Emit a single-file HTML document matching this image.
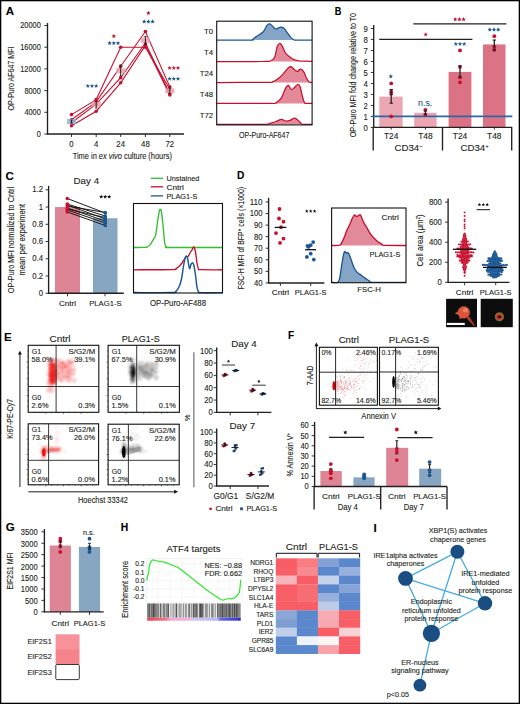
<!DOCTYPE html>
<html><head><meta charset="utf-8"><style>
html,body{margin:0;padding:0;background:#fff;}
svg{display:block;font-family:"Liberation Sans", sans-serif;}
text{stroke-width:0.12px;}
</style></head><body>
<svg width="520" height="704" viewBox="0 0 520 704">
<rect x="0" y="0" width="520" height="704" fill="#fff"/>
<text x="5.80" y="15.20" font-size="11.5" fill="#000" font-weight="bold" stroke="#000">A</text>
<line x1="47.50" y1="23.00" x2="47.50" y2="134.50" stroke="#231f20" stroke-width="1.35" />
<line x1="47.00" y1="134.00" x2="184.00" y2="134.00" stroke="#231f20" stroke-width="1.35" />
<line x1="44.30" y1="134.00" x2="47.50" y2="134.00" stroke="#231f20" stroke-width="0.9" />
<text x="40.80" y="136.90" font-size="8.2" fill="#231f20" text-anchor="end" textLength="4.1" lengthAdjust="spacingAndGlyphs" stroke="#231f20">0</text>
<line x1="44.30" y1="112.30" x2="47.50" y2="112.30" stroke="#231f20" stroke-width="0.9" />
<text x="40.80" y="115.20" font-size="8.2" fill="#231f20" text-anchor="end" textLength="16.42" lengthAdjust="spacingAndGlyphs" stroke="#231f20">4000</text>
<line x1="44.30" y1="90.60" x2="47.50" y2="90.60" stroke="#231f20" stroke-width="0.9" />
<text x="40.80" y="93.50" font-size="8.2" fill="#231f20" text-anchor="end" textLength="16.42" lengthAdjust="spacingAndGlyphs" stroke="#231f20">8000</text>
<line x1="44.30" y1="68.90" x2="47.50" y2="68.90" stroke="#231f20" stroke-width="0.9" />
<text x="40.80" y="71.80" font-size="8.2" fill="#231f20" text-anchor="end" textLength="20.52" lengthAdjust="spacingAndGlyphs" stroke="#231f20">12000</text>
<line x1="44.30" y1="47.20" x2="47.50" y2="47.20" stroke="#231f20" stroke-width="0.9" />
<text x="40.80" y="50.10" font-size="8.2" fill="#231f20" text-anchor="end" textLength="20.52" lengthAdjust="spacingAndGlyphs" stroke="#231f20">16000</text>
<line x1="44.30" y1="25.50" x2="47.50" y2="25.50" stroke="#231f20" stroke-width="0.9" />
<text x="40.80" y="28.40" font-size="8.2" fill="#231f20" text-anchor="end" textLength="20.52" lengthAdjust="spacingAndGlyphs" stroke="#231f20">20000</text>
<line x1="71.50" y1="134.00" x2="71.50" y2="137.00" stroke="#231f20" stroke-width="0.9" />
<text x="71.50" y="146.50" font-size="8.2" fill="#231f20" text-anchor="middle" textLength="4.33" lengthAdjust="spacingAndGlyphs" stroke="#231f20">0</text>
<line x1="96.20" y1="134.00" x2="96.20" y2="137.00" stroke="#231f20" stroke-width="0.9" />
<text x="96.20" y="146.50" font-size="8.2" fill="#231f20" text-anchor="middle" textLength="4.33" lengthAdjust="spacingAndGlyphs" stroke="#231f20">4</text>
<line x1="120.70" y1="134.00" x2="120.70" y2="137.00" stroke="#231f20" stroke-width="0.9" />
<text x="120.70" y="146.50" font-size="8.2" fill="#231f20" text-anchor="middle" textLength="8.66" lengthAdjust="spacingAndGlyphs" stroke="#231f20">24</text>
<line x1="145.40" y1="134.00" x2="145.40" y2="137.00" stroke="#231f20" stroke-width="0.9" />
<text x="145.40" y="146.50" font-size="8.2" fill="#231f20" text-anchor="middle" textLength="8.66" lengthAdjust="spacingAndGlyphs" stroke="#231f20">48</text>
<line x1="169.80" y1="134.00" x2="169.80" y2="137.00" stroke="#231f20" stroke-width="0.9" />
<text x="169.80" y="146.50" font-size="8.2" fill="#231f20" text-anchor="middle" textLength="8.66" lengthAdjust="spacingAndGlyphs" stroke="#231f20">72</text>
<text x="72.7" y="158.9" font-size="9.4" fill="#231f20" textLength="99.2" lengthAdjust="spacingAndGlyphs" stroke="#231f20">Time in <tspan font-style="italic">ex vivo</tspan> culture (hours)</text>
<text x="14.00" y="110.40" font-size="8.7" fill="#231f20" textLength="63.9" lengthAdjust="spacingAndGlyphs" transform="rotate(-90 14.00 110.40)" stroke="#231f20">OP-Puro AF647 MFI</text>
<polyline points="71.50,114.60 96.20,99.60 120.70,47.20 145.40,47.20 169.80,89.20" stroke="#c8102e" stroke-width="1.1" fill="none" />
<polyline points="71.50,119.70 96.20,101.90 120.70,66.20 145.40,31.50 169.80,86.90" stroke="#c8102e" stroke-width="1.1" fill="none" />
<polyline points="71.50,122.70 96.20,104.20 120.70,77.70 145.40,43.00 169.80,93.80" stroke="#c8102e" stroke-width="1.1" fill="none" />
<polyline points="71.50,125.70 96.20,111.20 120.70,82.80 145.40,45.40 169.80,95.00" stroke="#c8102e" stroke-width="1.1" fill="none" />
<circle cx="71.50" cy="114.60" r="1.8" fill="#c8102e" />
<circle cx="96.20" cy="99.60" r="1.8" fill="#c8102e" />
<circle cx="120.70" cy="47.20" r="1.8" fill="#c8102e" />
<circle cx="145.40" cy="47.20" r="1.8" fill="#c8102e" />
<circle cx="169.80" cy="89.20" r="1.8" fill="#c8102e" />
<circle cx="71.50" cy="119.70" r="1.8" fill="#c8102e" />
<circle cx="96.20" cy="101.90" r="1.8" fill="#c8102e" />
<circle cx="120.70" cy="66.20" r="1.8" fill="#c8102e" />
<circle cx="145.40" cy="31.50" r="1.8" fill="#c8102e" />
<circle cx="169.80" cy="86.90" r="1.8" fill="#c8102e" />
<circle cx="71.50" cy="122.70" r="1.8" fill="#c8102e" />
<circle cx="96.20" cy="104.20" r="1.8" fill="#c8102e" />
<circle cx="120.70" cy="77.70" r="1.8" fill="#c8102e" />
<circle cx="145.40" cy="43.00" r="1.8" fill="#c8102e" />
<circle cx="169.80" cy="93.80" r="1.8" fill="#c8102e" />
<circle cx="71.50" cy="125.70" r="1.8" fill="#c8102e" />
<circle cx="96.20" cy="111.20" r="1.8" fill="#c8102e" />
<circle cx="120.70" cy="82.80" r="1.8" fill="#c8102e" />
<circle cx="145.40" cy="45.40" r="1.8" fill="#c8102e" />
<circle cx="169.80" cy="95.00" r="1.8" fill="#c8102e" />
<rect x="67.00" y="119.00" width="9.00" height="5.00" fill="#8fb2d9" stroke="none" stroke-width="1" opacity="0.85"/>
<line x1="71.50" y1="120.00" x2="71.50" y2="123.00" stroke="#222" stroke-width="1.0" />
<line x1="70.30" y1="120.00" x2="72.70" y2="120.00" stroke="#222" stroke-width="0.8" />
<line x1="70.30" y1="123.00" x2="72.70" y2="123.00" stroke="#222" stroke-width="0.8" />
<rect x="91.70" y="101.70" width="9.00" height="5.00" fill="#eaa0ad" stroke="none" stroke-width="1" opacity="0.85"/>
<line x1="96.20" y1="101.50" x2="96.20" y2="108.00" stroke="#222" stroke-width="1.0" />
<line x1="95.00" y1="101.50" x2="97.40" y2="101.50" stroke="#222" stroke-width="0.8" />
<line x1="95.00" y1="108.00" x2="97.40" y2="108.00" stroke="#222" stroke-width="0.8" />
<rect x="116.20" y="68.30" width="9.00" height="5.00" fill="#eaa0ad" stroke="none" stroke-width="1" opacity="0.85"/>
<line x1="120.70" y1="65.00" x2="120.70" y2="76.00" stroke="#222" stroke-width="1.0" />
<line x1="119.50" y1="65.00" x2="121.90" y2="65.00" stroke="#222" stroke-width="0.8" />
<line x1="119.50" y1="76.00" x2="121.90" y2="76.00" stroke="#222" stroke-width="0.8" />
<rect x="140.90" y="37.80" width="9.00" height="5.00" fill="#eaa0ad" stroke="none" stroke-width="1" opacity="0.85"/>
<line x1="145.40" y1="36.50" x2="145.40" y2="44.50" stroke="#222" stroke-width="1.0" />
<line x1="144.20" y1="36.50" x2="146.60" y2="36.50" stroke="#222" stroke-width="0.8" />
<line x1="144.20" y1="44.50" x2="146.60" y2="44.50" stroke="#222" stroke-width="0.8" />
<rect x="165.30" y="88.30" width="9.00" height="5.00" fill="#eaa0ad" stroke="none" stroke-width="1" opacity="0.85"/>
<line x1="169.80" y1="88.00" x2="169.80" y2="93.50" stroke="#222" stroke-width="1.0" />
<line x1="168.60" y1="88.00" x2="171.00" y2="88.00" stroke="#222" stroke-width="0.8" />
<line x1="168.60" y1="93.50" x2="171.00" y2="93.50" stroke="#222" stroke-width="0.8" />
<polygon points="113.80,33.90 114.41,35.36 115.99,35.49 114.78,36.52 115.15,38.06 113.80,37.23 112.45,38.06 112.82,36.52 111.61,35.49 113.19,35.36" stroke="none" stroke-width="1" fill="#c8102e" />
<polygon points="109.60,40.90 110.21,42.36 111.79,42.49 110.58,43.52 110.95,45.06 109.60,44.23 108.25,45.06 108.62,43.52 107.41,42.49 108.99,42.36" stroke="none" stroke-width="1" fill="#1c5794" />
<polygon points="113.80,40.90 114.41,42.36 115.99,42.49 114.78,43.52 115.15,45.06 113.80,44.23 112.45,45.06 112.82,43.52 111.61,42.49 113.19,42.36" stroke="none" stroke-width="1" fill="#1c5794" />
<polygon points="118.00,40.90 118.61,42.36 120.19,42.49 118.98,43.52 119.35,45.06 118.00,44.23 116.65,45.06 117.02,43.52 115.81,42.49 117.39,42.36" stroke="none" stroke-width="1" fill="#1c5794" />
<polygon points="148.40,10.80 149.01,12.26 150.59,12.39 149.38,13.42 149.75,14.96 148.40,14.13 147.05,14.96 147.42,13.42 146.21,12.39 147.79,12.26" stroke="none" stroke-width="1" fill="#c8102e" />
<polygon points="144.20,19.30 144.81,20.76 146.39,20.89 145.18,21.92 145.55,23.46 144.20,22.64 142.85,23.46 143.22,21.92 142.01,20.89 143.59,20.76" stroke="none" stroke-width="1" fill="#1c5794" />
<polygon points="148.40,19.30 149.01,20.76 150.59,20.89 149.38,21.92 149.75,23.46 148.40,22.64 147.05,23.46 147.42,21.92 146.21,20.89 147.79,20.76" stroke="none" stroke-width="1" fill="#1c5794" />
<polygon points="152.60,19.30 153.21,20.76 154.79,20.89 153.58,21.92 153.95,23.46 152.60,22.64 151.25,23.46 151.62,21.92 150.41,20.89 151.99,20.76" stroke="none" stroke-width="1" fill="#1c5794" />
<polygon points="169.60,65.70 170.21,67.16 171.79,67.29 170.58,68.32 170.95,69.86 169.60,69.03 168.25,69.86 168.62,68.32 167.41,67.29 168.99,67.16" stroke="none" stroke-width="1" fill="#c8102e" />
<polygon points="173.80,65.70 174.41,67.16 175.99,67.29 174.78,68.32 175.15,69.86 173.80,69.03 172.45,69.86 172.82,68.32 171.61,67.29 173.19,67.16" stroke="none" stroke-width="1" fill="#c8102e" />
<polygon points="178.00,65.70 178.61,67.16 180.19,67.29 178.98,68.32 179.35,69.86 178.00,69.03 176.65,69.86 177.02,68.32 175.81,67.29 177.39,67.16" stroke="none" stroke-width="1" fill="#c8102e" />
<polygon points="169.60,76.50 170.21,77.96 171.79,78.09 170.58,79.12 170.95,80.66 169.60,79.83 168.25,80.66 168.62,79.12 167.41,78.09 168.99,77.96" stroke="none" stroke-width="1" fill="#1c5794" />
<polygon points="173.80,76.50 174.41,77.96 175.99,78.09 174.78,79.12 175.15,80.66 173.80,79.83 172.45,80.66 172.82,79.12 171.61,78.09 173.19,77.96" stroke="none" stroke-width="1" fill="#1c5794" />
<polygon points="178.00,76.50 178.61,77.96 180.19,78.09 178.98,79.12 179.35,80.66 178.00,79.83 176.65,80.66 177.02,79.12 175.81,78.09 177.39,77.96" stroke="none" stroke-width="1" fill="#1c5794" />
<polygon points="87.80,83.70 88.41,85.16 89.99,85.29 88.78,86.32 89.15,87.86 87.80,87.03 86.45,87.86 86.82,86.32 85.61,85.29 87.19,85.16" stroke="none" stroke-width="1" fill="#1c5794" />
<polygon points="92.00,83.70 92.61,85.16 94.19,85.29 92.98,86.32 93.35,87.86 92.00,87.03 90.65,87.86 91.02,86.32 89.81,85.29 91.39,85.16" stroke="none" stroke-width="1" fill="#1c5794" />
<polygon points="96.20,83.70 96.81,85.16 98.39,85.29 97.18,86.32 97.55,87.86 96.20,87.03 94.85,87.86 95.22,86.32 94.01,85.29 95.59,85.16" stroke="none" stroke-width="1" fill="#1c5794" />
<path d="M216.60,40.10 C222.17,40.10 244.07,40.13 250.00,40.10 C255.93,40.07 251.37,40.33 252.20,39.90 C253.03,39.47 254.08,38.20 255.00,37.50 C255.92,36.80 256.32,36.66 257.70,35.70 C259.08,34.74 261.75,33.48 263.30,31.75 C264.85,30.02 265.93,26.61 267.00,25.30 C268.07,23.99 268.78,23.75 269.70,23.90 C270.62,24.05 271.47,25.35 272.50,26.20 C273.53,27.05 274.65,28.82 275.90,29.00 C277.15,29.18 278.70,27.45 280.00,27.30 C281.30,27.15 282.53,27.27 283.70,28.10 C284.87,28.93 285.75,30.67 287.00,32.30 C288.25,33.93 290.03,36.65 291.20,37.90 C292.37,39.15 293.20,39.43 294.00,39.80 C294.80,40.17 292.97,40.05 296.00,40.10 C299.03,40.15 309.50,40.10 312.20,40.10 L312.20,40.1 L216.60,40.1 Z" stroke="none" stroke-width="1" fill="#84a5c6" />
<path d="M216.60,40.10 C222.17,40.10 244.07,40.13 250.00,40.10 C255.93,40.07 251.37,40.33 252.20,39.90 C253.03,39.47 254.08,38.20 255.00,37.50 C255.92,36.80 256.32,36.66 257.70,35.70 C259.08,34.74 261.75,33.48 263.30,31.75 C264.85,30.02 265.93,26.61 267.00,25.30 C268.07,23.99 268.78,23.75 269.70,23.90 C270.62,24.05 271.47,25.35 272.50,26.20 C273.53,27.05 274.65,28.82 275.90,29.00 C277.15,29.18 278.70,27.45 280.00,27.30 C281.30,27.15 282.53,27.27 283.70,28.10 C284.87,28.93 285.75,30.67 287.00,32.30 C288.25,33.93 290.03,36.65 291.20,37.90 C292.37,39.15 293.20,39.43 294.00,39.80 C294.80,40.17 292.97,40.05 296.00,40.10 C299.03,40.15 309.50,40.10 312.20,40.10" stroke="#1c5794" stroke-width="1.25" fill="none" />
<path d="M216.60,61.60 C224.17,61.58 253.05,61.60 262.00,61.50 C270.95,61.40 268.22,61.68 270.30,61.00 C272.38,60.32 273.33,59.85 274.50,57.40 C275.67,54.95 276.47,48.62 277.30,46.30 C278.13,43.98 278.72,43.60 279.50,43.50 C280.28,43.40 280.98,44.08 282.00,45.70 C283.02,47.32 284.07,51.15 285.60,53.20 C287.13,55.25 289.57,56.83 291.20,58.00 C292.83,59.17 293.93,59.70 295.40,60.20 C296.87,60.70 297.45,60.82 300.00,61.00 C302.55,61.18 308.67,61.22 310.70,61.30 C312.73,61.38 311.95,61.47 312.20,61.50 L312.20,61.6 L216.60,61.6 Z" stroke="none" stroke-width="1" fill="#e28a9a" />
<path d="M216.60,61.60 C224.17,61.58 253.05,61.60 262.00,61.50 C270.95,61.40 268.22,61.68 270.30,61.00 C272.38,60.32 273.33,59.85 274.50,57.40 C275.67,54.95 276.47,48.62 277.30,46.30 C278.13,43.98 278.72,43.60 279.50,43.50 C280.28,43.40 280.98,44.08 282.00,45.70 C283.02,47.32 284.07,51.15 285.60,53.20 C287.13,55.25 289.57,56.83 291.20,58.00 C292.83,59.17 293.93,59.70 295.40,60.20 C296.87,60.70 297.45,60.82 300.00,61.00 C302.55,61.18 308.67,61.22 310.70,61.30 C312.73,61.38 311.95,61.47 312.20,61.50" stroke="#c8102e" stroke-width="1.25" fill="none" />
<path d="M216.60,82.50 C224.83,82.48 256.60,82.53 266.00,82.40 C275.40,82.27 270.88,82.38 273.00,81.70 C275.12,81.02 276.83,79.80 278.70,78.30 C280.57,76.80 282.58,74.47 284.20,72.70 C285.82,70.93 287.23,68.72 288.40,67.70 C289.57,66.68 290.13,66.22 291.20,66.60 C292.27,66.98 293.73,69.22 294.80,70.00 C295.87,70.78 296.67,71.45 297.60,71.30 C298.53,71.15 299.37,69.00 300.40,69.10 C301.43,69.20 302.78,70.37 303.80,71.90 C304.82,73.43 305.58,76.62 306.50,78.30 C307.42,79.98 308.35,81.30 309.30,82.00 C310.25,82.70 311.72,82.42 312.20,82.50 L312.20,82.5 L216.60,82.5 Z" stroke="none" stroke-width="1" fill="#e28a9a" />
<path d="M216.60,82.50 C224.83,82.48 256.60,82.53 266.00,82.40 C275.40,82.27 270.88,82.38 273.00,81.70 C275.12,81.02 276.83,79.80 278.70,78.30 C280.57,76.80 282.58,74.47 284.20,72.70 C285.82,70.93 287.23,68.72 288.40,67.70 C289.57,66.68 290.13,66.22 291.20,66.60 C292.27,66.98 293.73,69.22 294.80,70.00 C295.87,70.78 296.67,71.45 297.60,71.30 C298.53,71.15 299.37,69.00 300.40,69.10 C301.43,69.20 302.78,70.37 303.80,71.90 C304.82,73.43 305.58,76.62 306.50,78.30 C307.42,79.98 308.35,81.30 309.30,82.00 C310.25,82.70 311.72,82.42 312.20,82.50" stroke="#c8102e" stroke-width="1.25" fill="none" />
<path d="M216.60,103.40 C225.50,103.38 260.12,103.38 270.00,103.30 C279.88,103.22 274.00,103.82 275.90,102.90 C277.80,101.98 279.78,100.27 281.40,97.80 C283.02,95.33 284.43,90.18 285.60,88.10 C286.77,86.02 287.47,85.07 288.40,85.30 C289.33,85.53 290.27,89.03 291.20,89.50 C292.13,89.97 292.93,88.93 294.00,88.10 C295.07,87.27 296.58,84.73 297.60,84.50 C298.62,84.27 299.30,84.72 300.10,86.70 C300.90,88.68 301.65,93.70 302.40,96.40 C303.15,99.10 303.83,101.75 304.60,102.90 C305.37,104.05 305.73,103.22 307.00,103.30 C308.27,103.38 311.33,103.38 312.20,103.40 L312.20,103.4 L216.60,103.4 Z" stroke="none" stroke-width="1" fill="#e28a9a" />
<path d="M216.60,103.40 C225.50,103.38 260.12,103.38 270.00,103.30 C279.88,103.22 274.00,103.82 275.90,102.90 C277.80,101.98 279.78,100.27 281.40,97.80 C283.02,95.33 284.43,90.18 285.60,88.10 C286.77,86.02 287.47,85.07 288.40,85.30 C289.33,85.53 290.27,89.03 291.20,89.50 C292.13,89.97 292.93,88.93 294.00,88.10 C295.07,87.27 296.58,84.73 297.60,84.50 C298.62,84.27 299.30,84.72 300.10,86.70 C300.90,88.68 301.65,93.70 302.40,96.40 C303.15,99.10 303.83,101.75 304.60,102.90 C305.37,104.05 305.73,103.22 307.00,103.30 C308.27,103.38 311.33,103.38 312.20,103.40" stroke="#c8102e" stroke-width="1.25" fill="none" />
<path d="M216.60,124.30 C224.17,124.30 253.52,124.35 262.00,124.30 C270.48,124.25 265.18,124.47 267.50,124.00 C269.82,123.53 273.58,122.28 275.90,121.50 C278.22,120.72 279.78,119.38 281.40,119.30 C283.02,119.22 284.20,120.82 285.60,121.00 C287.00,121.18 288.27,120.87 289.80,120.40 C291.33,119.93 293.32,118.10 294.80,118.20 C296.28,118.30 297.53,120.03 298.70,121.00 C299.87,121.97 300.92,123.45 301.80,124.00 C302.68,124.55 302.27,124.25 304.00,124.30 C305.73,124.35 310.83,124.30 312.20,124.30 L312.20,124.3 L216.60,124.3 Z" stroke="none" stroke-width="1" fill="#e28a9a" />
<path d="M216.60,124.30 C224.17,124.30 253.52,124.35 262.00,124.30 C270.48,124.25 265.18,124.47 267.50,124.00 C269.82,123.53 273.58,122.28 275.90,121.50 C278.22,120.72 279.78,119.38 281.40,119.30 C283.02,119.22 284.20,120.82 285.60,121.00 C287.00,121.18 288.27,120.87 289.80,120.40 C291.33,119.93 293.32,118.10 294.80,118.20 C296.28,118.30 297.53,120.03 298.70,121.00 C299.87,121.97 300.92,123.45 301.80,124.00 C302.68,124.55 302.27,124.25 304.00,124.30 C305.73,124.35 310.83,124.30 312.20,124.30" stroke="#c8102e" stroke-width="1.25" fill="none" />
<rect x="216.70" y="21.20" width="95.40" height="103.70" fill="none" stroke="#111" stroke-width="1.1" />
<text x="213.10" y="34.30" font-size="7.8" fill="#231f20" text-anchor="end" stroke="#231f20">T0</text>
<text x="213.10" y="55.10" font-size="7.8" fill="#231f20" text-anchor="end" stroke="#231f20">T4</text>
<text x="213.10" y="75.80" font-size="7.8" fill="#231f20" text-anchor="end" stroke="#231f20">T24</text>
<text x="213.10" y="96.80" font-size="7.8" fill="#231f20" text-anchor="end" stroke="#231f20">T48</text>
<text x="213.10" y="117.80" font-size="7.8" fill="#231f20" text-anchor="end" stroke="#231f20">T72</text>
<text x="264.20" y="137.50" font-size="9.2" fill="#231f20" text-anchor="middle" textLength="50.2" lengthAdjust="spacingAndGlyphs" stroke="#231f20">OP-Puro-AF647</text>
<text x="334.70" y="15.10" font-size="11.5" fill="#000" font-weight="bold" textLength="6.64" lengthAdjust="spacingAndGlyphs" stroke="#000">B</text>
<line x1="373.70" y1="25.00" x2="373.70" y2="127.90" stroke="#231f20" stroke-width="1.35" />
<line x1="370.80" y1="127.40" x2="373.70" y2="127.40" stroke="#231f20" stroke-width="0.9" />
<text x="367.80" y="130.80" font-size="8.8" fill="#231f20" text-anchor="end" textLength="4.31" lengthAdjust="spacingAndGlyphs" stroke="#231f20">0</text>
<line x1="370.80" y1="116.41" x2="373.70" y2="116.41" stroke="#231f20" stroke-width="0.9" />
<text x="367.80" y="119.81" font-size="8.8" fill="#231f20" text-anchor="end" textLength="4.31" lengthAdjust="spacingAndGlyphs" stroke="#231f20">1</text>
<line x1="370.80" y1="105.42" x2="373.70" y2="105.42" stroke="#231f20" stroke-width="0.9" />
<text x="367.80" y="108.82" font-size="8.8" fill="#231f20" text-anchor="end" textLength="4.31" lengthAdjust="spacingAndGlyphs" stroke="#231f20">2</text>
<line x1="370.80" y1="94.43" x2="373.70" y2="94.43" stroke="#231f20" stroke-width="0.9" />
<text x="367.80" y="97.83" font-size="8.8" fill="#231f20" text-anchor="end" textLength="4.31" lengthAdjust="spacingAndGlyphs" stroke="#231f20">3</text>
<line x1="370.80" y1="83.44" x2="373.70" y2="83.44" stroke="#231f20" stroke-width="0.9" />
<text x="367.80" y="86.84" font-size="8.8" fill="#231f20" text-anchor="end" textLength="4.31" lengthAdjust="spacingAndGlyphs" stroke="#231f20">4</text>
<line x1="370.80" y1="72.45" x2="373.70" y2="72.45" stroke="#231f20" stroke-width="0.9" />
<text x="367.80" y="75.85" font-size="8.8" fill="#231f20" text-anchor="end" textLength="4.31" lengthAdjust="spacingAndGlyphs" stroke="#231f20">5</text>
<line x1="370.80" y1="61.46" x2="373.70" y2="61.46" stroke="#231f20" stroke-width="0.9" />
<text x="367.80" y="64.86" font-size="8.8" fill="#231f20" text-anchor="end" textLength="4.31" lengthAdjust="spacingAndGlyphs" stroke="#231f20">6</text>
<line x1="370.80" y1="50.47" x2="373.70" y2="50.47" stroke="#231f20" stroke-width="0.9" />
<text x="367.80" y="53.87" font-size="8.8" fill="#231f20" text-anchor="end" textLength="4.31" lengthAdjust="spacingAndGlyphs" stroke="#231f20">7</text>
<line x1="370.80" y1="39.48" x2="373.70" y2="39.48" stroke="#231f20" stroke-width="0.9" />
<text x="367.80" y="42.88" font-size="8.8" fill="#231f20" text-anchor="end" textLength="4.31" lengthAdjust="spacingAndGlyphs" stroke="#231f20">8</text>
<line x1="370.80" y1="28.49" x2="373.70" y2="28.49" stroke="#231f20" stroke-width="0.9" />
<text x="367.80" y="31.89" font-size="8.8" fill="#231f20" text-anchor="end" textLength="4.31" lengthAdjust="spacingAndGlyphs" stroke="#231f20">9</text>
<rect x="379.30" y="96.63" width="23.30" height="30.77" fill="#eba6b1" stroke="none" stroke-width="1" />
<rect x="414.20" y="112.78" width="22.40" height="14.62" fill="#eba6b1" stroke="none" stroke-width="1" />
<rect x="448.60" y="71.90" width="22.80" height="55.50" fill="#dc7385" stroke="none" stroke-width="1" />
<rect x="483.00" y="44.43" width="22.50" height="82.97" fill="#dc7385" stroke="none" stroke-width="1" />
<line x1="373.20" y1="127.40" x2="512.20" y2="127.40" stroke="#231f20" stroke-width="1.35" />
<line x1="373.20" y1="127.40" x2="373.20" y2="150.50" stroke="#231f20" stroke-width="1.35" />
<line x1="442.50" y1="127.40" x2="442.50" y2="150.50" stroke="#231f20" stroke-width="1.35" />
<line x1="511.70" y1="127.40" x2="511.70" y2="150.50" stroke="#231f20" stroke-width="1.35" />
<line x1="372.30" y1="116.41" x2="512.30" y2="116.41" stroke="#2b68a8" stroke-width="1.6" />
<circle cx="391.20" cy="83.44" r="1.9" fill="#c8102e" />
<circle cx="391.20" cy="91.68" r="1.9" fill="#c8102e" />
<circle cx="391.20" cy="93.88" r="1.9" fill="#c8102e" />
<circle cx="391.20" cy="116.41" r="1.9" fill="#c8102e" />
<circle cx="425.40" cy="109.82" r="1.9" fill="#c8102e" />
<circle cx="425.40" cy="114.76" r="1.9" fill="#c8102e" />
<circle cx="460.00" cy="50.47" r="1.9" fill="#c8102e" />
<circle cx="460.00" cy="66.96" r="1.9" fill="#c8102e" />
<circle cx="460.00" cy="77.40" r="1.9" fill="#c8102e" />
<circle cx="460.00" cy="82.34" r="1.9" fill="#c8102e" />
<circle cx="494.30" cy="36.18" r="1.9" fill="#c8102e" />
<circle cx="494.30" cy="46.62" r="1.9" fill="#c8102e" />
<circle cx="494.30" cy="49.92" r="1.9" fill="#c8102e" />
<line x1="391.20" y1="103.22" x2="391.20" y2="89.48" stroke="#222" stroke-width="1.3" />
<line x1="389.50" y1="103.22" x2="392.90" y2="103.22" stroke="#222" stroke-width="1.1" />
<line x1="389.50" y1="89.48" x2="392.90" y2="89.48" stroke="#222" stroke-width="1.1" />
<line x1="425.40" y1="114.21" x2="425.40" y2="110.92" stroke="#222" stroke-width="1.3" />
<line x1="423.70" y1="114.21" x2="427.10" y2="114.21" stroke="#222" stroke-width="1.1" />
<line x1="423.70" y1="110.92" x2="427.10" y2="110.92" stroke="#222" stroke-width="1.1" />
<line x1="460.00" y1="76.85" x2="460.00" y2="65.86" stroke="#222" stroke-width="1.3" />
<line x1="458.30" y1="76.85" x2="461.70" y2="76.85" stroke="#222" stroke-width="1.1" />
<line x1="458.30" y1="65.86" x2="461.70" y2="65.86" stroke="#222" stroke-width="1.1" />
<line x1="494.30" y1="49.92" x2="494.30" y2="40.03" stroke="#222" stroke-width="1.3" />
<line x1="492.60" y1="49.92" x2="496.00" y2="49.92" stroke="#222" stroke-width="1.1" />
<line x1="492.60" y1="40.03" x2="496.00" y2="40.03" stroke="#222" stroke-width="1.1" />
<line x1="379.20" y1="39.40" x2="472.40" y2="39.40" stroke="#231f20" stroke-width="1.35" />
<line x1="413.30" y1="23.90" x2="506.40" y2="23.90" stroke="#231f20" stroke-width="1.35" />
<polygon points="425.70,32.20 426.31,33.66 427.89,33.79 426.68,34.82 427.05,36.36 425.70,35.53 424.35,36.36 424.72,34.82 423.51,33.79 425.09,33.66" stroke="none" stroke-width="1" fill="#c8102e" />
<polygon points="455.20,17.10 455.81,18.56 457.39,18.69 456.18,19.72 456.55,21.26 455.20,20.43 453.85,21.26 454.22,19.72 453.01,18.69 454.59,18.56" stroke="none" stroke-width="1" fill="#c8102e" />
<polygon points="459.40,17.10 460.01,18.56 461.59,18.69 460.38,19.72 460.75,21.26 459.40,20.43 458.05,21.26 458.42,19.72 457.21,18.69 458.79,18.56" stroke="none" stroke-width="1" fill="#c8102e" />
<polygon points="463.60,17.10 464.21,18.56 465.79,18.69 464.58,19.72 464.95,21.26 463.60,20.43 462.25,21.26 462.62,19.72 461.41,18.69 462.99,18.56" stroke="none" stroke-width="1" fill="#c8102e" />
<polygon points="455.80,41.70 456.41,43.16 457.99,43.29 456.78,44.32 457.15,45.86 455.80,45.03 454.45,45.86 454.82,44.32 453.61,43.29 455.19,43.16" stroke="none" stroke-width="1" fill="#1c5794" />
<polygon points="460.00,41.70 460.61,43.16 462.19,43.29 460.98,44.32 461.35,45.86 460.00,45.03 458.65,45.86 459.02,44.32 457.81,43.29 459.39,43.16" stroke="none" stroke-width="1" fill="#1c5794" />
<polygon points="464.20,41.70 464.81,43.16 466.39,43.29 465.18,44.32 465.55,45.86 464.20,45.03 462.85,45.86 463.22,44.32 462.01,43.29 463.59,43.16" stroke="none" stroke-width="1" fill="#1c5794" />
<polygon points="489.80,27.30 490.41,28.76 491.99,28.89 490.78,29.92 491.15,31.46 489.80,30.64 488.45,31.46 488.82,29.92 487.61,28.89 489.19,28.76" stroke="none" stroke-width="1" fill="#1c5794" />
<polygon points="494.00,27.30 494.61,28.76 496.19,28.89 494.98,29.92 495.35,31.46 494.00,30.64 492.65,31.46 493.02,29.92 491.81,28.89 493.39,28.76" stroke="none" stroke-width="1" fill="#1c5794" />
<polygon points="498.20,27.30 498.81,28.76 500.39,28.89 499.18,29.92 499.55,31.46 498.20,30.64 496.85,31.46 497.22,29.92 496.01,28.89 497.59,28.76" stroke="none" stroke-width="1" fill="#1c5794" />
<polygon points="390.80,74.10 391.41,75.56 392.99,75.69 391.78,76.72 392.15,78.26 390.80,77.44 389.45,78.26 389.82,76.72 388.61,75.69 390.19,75.56" stroke="none" stroke-width="1" fill="#1c5794" />
<text x="425.20" y="106.40" font-size="8.8" fill="#1c5794" text-anchor="middle" stroke="#1c5794">n.s.</text>
<text x="391.20" y="139.10" font-size="8.4" fill="#231f20" text-anchor="middle" stroke="#231f20">T24</text>
<line x1="391.20" y1="127.40" x2="391.20" y2="129.60" stroke="#231f20" stroke-width="0.9" />
<text x="425.40" y="139.10" font-size="8.4" fill="#231f20" text-anchor="middle" stroke="#231f20">T48</text>
<line x1="425.40" y1="127.40" x2="425.40" y2="129.60" stroke="#231f20" stroke-width="0.9" />
<text x="460.00" y="139.10" font-size="8.4" fill="#231f20" text-anchor="middle" stroke="#231f20">T24</text>
<line x1="460.00" y1="127.40" x2="460.00" y2="129.60" stroke="#231f20" stroke-width="0.9" />
<text x="494.30" y="139.10" font-size="8.4" fill="#231f20" text-anchor="middle" stroke="#231f20">T48</text>
<line x1="494.30" y1="127.40" x2="494.30" y2="129.60" stroke="#231f20" stroke-width="0.9" />
<text x="408.6" y="151.2" font-size="9.7" fill="#231f20" text-anchor="middle" stroke="#231f20">CD34<tspan font-size="6" dy="-3">−</tspan></text>
<text x="474.6" y="151.2" font-size="9.7" fill="#231f20" text-anchor="middle" stroke="#231f20">CD34<tspan font-size="6" dy="-3">+</tspan></text>
<text x="356.00" y="137.20" font-size="9.3" fill="#231f20" textLength="124.3" lengthAdjust="spacingAndGlyphs" transform="rotate(-90 356.00 137.20)" stroke="#231f20">OP-Puro MFI fold change relative to T0</text>
<text x="5.50" y="179.60" font-size="11.5" fill="#000" font-weight="bold" stroke="#000">C</text>
<text x="86.30" y="184.00" font-size="9.8" fill="#231f20" text-anchor="middle" stroke="#231f20">Day 4</text>
<rect x="55.00" y="207.05" width="25.00" height="86.20" fill="#de8595" stroke="none" stroke-width="1" />
<rect x="93.00" y="218.26" width="24.50" height="74.99" fill="#87a6c2" stroke="none" stroke-width="1" />
<line x1="48.60" y1="185.80" x2="48.60" y2="293.70" stroke="#231f20" stroke-width="1.35" />
<line x1="48.10" y1="293.25" x2="123.80" y2="293.25" stroke="#231f20" stroke-width="1.35" />
<line x1="45.60" y1="293.25" x2="48.60" y2="293.25" stroke="#231f20" stroke-width="0.9" />
<text x="43.20" y="295.85" font-size="8.4" fill="#231f20" text-anchor="end" textLength="4.34" lengthAdjust="spacingAndGlyphs" stroke="#231f20">0</text>
<line x1="45.60" y1="276.01" x2="48.60" y2="276.01" stroke="#231f20" stroke-width="0.9" />
<text x="43.20" y="278.61" font-size="8.4" fill="#231f20" text-anchor="end" textLength="10.86" lengthAdjust="spacingAndGlyphs" stroke="#231f20">0.2</text>
<line x1="45.60" y1="258.77" x2="48.60" y2="258.77" stroke="#231f20" stroke-width="0.9" />
<text x="43.20" y="261.37" font-size="8.4" fill="#231f20" text-anchor="end" textLength="10.86" lengthAdjust="spacingAndGlyphs" stroke="#231f20">0.4</text>
<line x1="45.60" y1="241.53" x2="48.60" y2="241.53" stroke="#231f20" stroke-width="0.9" />
<text x="43.20" y="244.13" font-size="8.4" fill="#231f20" text-anchor="end" textLength="10.86" lengthAdjust="spacingAndGlyphs" stroke="#231f20">0.6</text>
<line x1="45.60" y1="224.29" x2="48.60" y2="224.29" stroke="#231f20" stroke-width="0.9" />
<text x="43.20" y="226.89" font-size="8.4" fill="#231f20" text-anchor="end" textLength="10.86" lengthAdjust="spacingAndGlyphs" stroke="#231f20">0.8</text>
<line x1="45.60" y1="207.05" x2="48.60" y2="207.05" stroke="#231f20" stroke-width="0.9" />
<text x="43.20" y="209.65" font-size="8.4" fill="#231f20" text-anchor="end" textLength="4.34" lengthAdjust="spacingAndGlyphs" stroke="#231f20">1</text>
<line x1="45.60" y1="189.81" x2="48.60" y2="189.81" stroke="#231f20" stroke-width="0.9" />
<text x="43.20" y="192.41" font-size="8.4" fill="#231f20" text-anchor="end" textLength="10.86" lengthAdjust="spacingAndGlyphs" stroke="#231f20">1.2</text>
<line x1="67.50" y1="293.25" x2="67.50" y2="296.30" stroke="#231f20" stroke-width="0.9" />
<line x1="105.00" y1="293.25" x2="105.00" y2="296.30" stroke="#231f20" stroke-width="0.9" />
<text x="67.50" y="305.70" font-size="7.7" fill="#231f20" text-anchor="middle" textLength="17.07" lengthAdjust="spacingAndGlyphs" stroke="#231f20">Cntrl</text>
<text x="105.40" y="305.70" font-size="7.7" fill="#231f20" text-anchor="middle" stroke="#231f20">PLAG1-S</text>
<line x1="67.30" y1="198.50" x2="107.00" y2="213.69" stroke="#111" stroke-width="0.95" />
<line x1="67.30" y1="204.00" x2="107.00" y2="216.57" stroke="#111" stroke-width="0.95" />
<line x1="67.30" y1="205.00" x2="107.00" y2="219.66" stroke="#111" stroke-width="0.95" />
<line x1="67.30" y1="206.00" x2="107.00" y2="212.81" stroke="#111" stroke-width="0.95" />
<line x1="67.30" y1="208.00" x2="107.00" y2="221.62" stroke="#111" stroke-width="0.95" />
<line x1="67.30" y1="209.00" x2="107.00" y2="217.90" stroke="#111" stroke-width="0.95" />
<line x1="67.30" y1="210.00" x2="107.00" y2="223.62" stroke="#111" stroke-width="0.95" />
<line x1="67.30" y1="212.00" x2="107.00" y2="226.14" stroke="#111" stroke-width="0.95" />
<circle cx="67.30" cy="198.50" r="1.8" fill="#c8102e" />
<circle cx="67.30" cy="204.00" r="1.8" fill="#c8102e" />
<circle cx="67.30" cy="205.00" r="1.8" fill="#c8102e" />
<circle cx="67.30" cy="206.00" r="1.8" fill="#c8102e" />
<circle cx="67.30" cy="208.00" r="1.8" fill="#c8102e" />
<circle cx="67.30" cy="209.00" r="1.8" fill="#c8102e" />
<circle cx="67.30" cy="210.00" r="1.8" fill="#c8102e" />
<circle cx="67.30" cy="212.00" r="1.8" fill="#c8102e" />
<circle cx="105.20" cy="213.00" r="1.8" fill="#1c5794" />
<circle cx="105.20" cy="216.00" r="1.8" fill="#1c5794" />
<circle cx="105.20" cy="219.00" r="1.8" fill="#1c5794" />
<circle cx="105.20" cy="212.50" r="1.8" fill="#1c5794" />
<circle cx="105.20" cy="221.00" r="1.8" fill="#1c5794" />
<circle cx="105.20" cy="217.50" r="1.8" fill="#1c5794" />
<circle cx="105.20" cy="223.00" r="1.8" fill="#1c5794" />
<circle cx="105.20" cy="225.50" r="1.8" fill="#1c5794" />
<polygon points="101.20,194.60 101.78,196.00 103.29,196.12 102.14,197.11 102.49,198.58 101.20,197.79 99.91,198.58 100.26,197.11 99.11,196.12 100.62,196.00" stroke="none" stroke-width="1" fill="#111" />
<polygon points="105.20,194.60 105.78,196.00 107.29,196.12 106.14,197.11 106.49,198.58 105.20,197.79 103.91,198.58 104.26,197.11 103.11,196.12 104.62,196.00" stroke="none" stroke-width="1" fill="#111" />
<polygon points="109.20,194.60 109.78,196.00 111.29,196.12 110.14,197.11 110.49,198.58 109.20,197.79 107.91,198.58 108.26,197.11 107.11,196.12 108.62,196.00" stroke="none" stroke-width="1" fill="#111" />
<text x="14.20" y="293.20" font-size="9.2" fill="#231f20" textLength="106.3" lengthAdjust="spacingAndGlyphs" transform="rotate(-90 14.20 293.20)" stroke="#231f20">OP-Puro MFI normalized to Cntrl</text>
<text x="25.00" y="275.60" font-size="9.2" fill="#231f20" textLength="71.7" lengthAdjust="spacingAndGlyphs" transform="rotate(-90 25.00 275.60)" stroke="#231f20">mean per experiment</text>
<path d="M133.50,247.50 C135.25,247.48 141.67,247.52 144.00,247.40 C146.33,247.28 146.43,247.32 147.50,246.80 C148.57,246.28 149.38,245.60 150.40,244.30 C151.42,243.00 152.72,240.58 153.60,239.00 C154.48,237.42 155.00,237.97 155.70,234.80 C156.40,231.63 157.17,224.05 157.80,220.00 C158.43,215.95 159.05,212.27 159.50,210.50 C159.95,208.73 160.15,209.05 160.50,209.40 C160.85,209.75 161.17,209.78 161.60,212.60 C162.03,215.42 162.57,221.18 163.10,226.30 C163.63,231.42 164.17,239.83 164.80,243.30 C165.43,246.77 165.95,246.40 166.90,247.10 C167.85,247.80 161.23,247.43 170.50,247.50 C179.77,247.57 213.83,247.50 222.50,247.50" stroke="#32c032" stroke-width="1.35" fill="none" />
<path d="M133.50,269.80 C139.92,269.77 164.92,269.82 172.00,269.60 C179.08,269.38 174.83,269.02 176.00,268.50 C177.17,267.98 178.00,267.42 179.00,266.50 C180.00,265.58 181.08,264.25 182.00,263.00 C182.92,261.75 183.78,260.10 184.50,259.00 C185.22,257.90 185.72,256.82 186.30,256.40 C186.88,255.98 187.38,257.07 188.00,256.50 C188.62,255.93 189.33,254.08 190.00,253.00 C190.67,251.92 191.37,251.02 192.00,250.00 C192.63,248.98 193.22,246.57 193.80,246.90 C194.38,247.23 194.97,249.32 195.50,252.00 C196.03,254.68 196.50,260.20 197.00,263.00 C197.50,265.80 197.92,267.68 198.50,268.80 C199.08,269.92 196.50,269.53 200.50,269.70 C204.50,269.87 218.83,269.78 222.50,269.80" stroke="#c8102e" stroke-width="1.35" fill="none" />
<path d="M133.50,292.60 C139.92,292.58 164.92,292.77 172.00,292.50 C179.08,292.23 174.83,291.92 176.00,291.00 C177.17,290.08 178.08,289.00 179.00,287.00 C179.92,285.00 180.75,282.50 181.50,279.00 C182.25,275.50 182.92,269.42 183.50,266.00 C184.08,262.58 184.53,260.17 185.00,258.50 C185.47,256.83 185.87,256.00 186.30,256.00 C186.73,256.00 187.07,256.42 187.60,258.50 C188.13,260.58 188.97,267.42 189.50,268.50 C190.03,269.58 190.33,265.95 190.80,265.00 C191.27,264.05 191.80,262.80 192.30,262.80 C192.80,262.80 193.27,262.97 193.80,265.00 C194.33,267.03 194.97,271.33 195.50,275.00 C196.03,278.67 196.50,284.20 197.00,287.00 C197.50,289.80 197.83,290.87 198.50,291.80 C199.17,292.73 197.00,292.47 201.00,292.60 C205.00,292.73 218.92,292.60 222.50,292.60" stroke="#1c5794" stroke-width="1.45" fill="none" />
<rect x="133.50" y="203.50" width="89.00" height="89.50" fill="none" stroke="#111" stroke-width="1.1" />
<line x1="150.80" y1="178.30" x2="163.10" y2="178.30" stroke="#32c032" stroke-width="1.3" />
<line x1="150.80" y1="186.80" x2="163.10" y2="186.80" stroke="#c8102e" stroke-width="1.3" />
<line x1="150.80" y1="195.90" x2="163.10" y2="195.90" stroke="#1c5794" stroke-width="1.3" />
<text x="166.50" y="181.00" font-size="7.3" fill="#231f20" stroke="#231f20">Unstained</text>
<text x="166.50" y="189.50" font-size="7.3" fill="#231f20" textLength="17.26" lengthAdjust="spacingAndGlyphs" stroke="#231f20">Cntrl</text>
<text x="166.50" y="198.60" font-size="7.3" fill="#231f20" stroke="#231f20">PLAG1-S</text>
<text x="178.00" y="305.90" font-size="8.4" fill="#231f20" text-anchor="middle" textLength="56" lengthAdjust="spacingAndGlyphs" stroke="#231f20">OP-Puro-AF488</text>
<text x="237.00" y="179.20" font-size="11.5" fill="#000" font-weight="bold" textLength="7.31" lengthAdjust="spacingAndGlyphs" stroke="#000">D</text>
<line x1="268.60" y1="197.80" x2="268.60" y2="283.40" stroke="#231f20" stroke-width="1.35" />
<line x1="268.10" y1="283.00" x2="324.40" y2="283.00" stroke="#231f20" stroke-width="1.35" />
<line x1="265.60" y1="282.90" x2="268.60" y2="282.90" stroke="#231f20" stroke-width="0.9" />
<text x="262.60" y="285.80" font-size="8.8" fill="#231f20" text-anchor="end" textLength="8.61" lengthAdjust="spacingAndGlyphs" stroke="#231f20">40</text>
<line x1="265.60" y1="271.34" x2="268.60" y2="271.34" stroke="#231f20" stroke-width="0.9" />
<text x="262.60" y="274.24" font-size="8.8" fill="#231f20" text-anchor="end" textLength="8.61" lengthAdjust="spacingAndGlyphs" stroke="#231f20">50</text>
<line x1="265.60" y1="259.78" x2="268.60" y2="259.78" stroke="#231f20" stroke-width="0.9" />
<text x="262.60" y="262.68" font-size="8.8" fill="#231f20" text-anchor="end" textLength="8.61" lengthAdjust="spacingAndGlyphs" stroke="#231f20">60</text>
<line x1="265.60" y1="248.22" x2="268.60" y2="248.22" stroke="#231f20" stroke-width="0.9" />
<text x="262.60" y="251.12" font-size="8.8" fill="#231f20" text-anchor="end" textLength="8.61" lengthAdjust="spacingAndGlyphs" stroke="#231f20">70</text>
<line x1="265.60" y1="236.66" x2="268.60" y2="236.66" stroke="#231f20" stroke-width="0.9" />
<text x="262.60" y="239.56" font-size="8.8" fill="#231f20" text-anchor="end" textLength="8.61" lengthAdjust="spacingAndGlyphs" stroke="#231f20">80</text>
<line x1="265.60" y1="225.10" x2="268.60" y2="225.10" stroke="#231f20" stroke-width="0.9" />
<text x="262.60" y="228.00" font-size="8.8" fill="#231f20" text-anchor="end" textLength="8.61" lengthAdjust="spacingAndGlyphs" stroke="#231f20">90</text>
<line x1="265.60" y1="213.54" x2="268.60" y2="213.54" stroke="#231f20" stroke-width="0.9" />
<text x="262.60" y="216.44" font-size="8.8" fill="#231f20" text-anchor="end" textLength="12.92" lengthAdjust="spacingAndGlyphs" stroke="#231f20">100</text>
<line x1="265.60" y1="201.98" x2="268.60" y2="201.98" stroke="#231f20" stroke-width="0.9" />
<text x="262.60" y="204.88" font-size="8.8" fill="#231f20" text-anchor="end" textLength="12.92" lengthAdjust="spacingAndGlyphs" stroke="#231f20">110</text>
<line x1="280.40" y1="283.00" x2="280.40" y2="286.00" stroke="#231f20" stroke-width="0.9" />
<line x1="310.70" y1="283.00" x2="310.70" y2="286.00" stroke="#231f20" stroke-width="0.9" />
<text x="280.40" y="295.20" font-size="7.5" fill="#231f20" text-anchor="middle" textLength="17.42" lengthAdjust="spacingAndGlyphs" stroke="#231f20">Cntrl</text>
<text x="310.70" y="295.20" font-size="7.5" fill="#231f20" text-anchor="middle" stroke="#231f20">PLAG1-S</text>
<text x="243.6" y="289.5" font-size="8.9" fill="#231f20" transform="rotate(-90 243.6 289.5)" textLength="102.6" lengthAdjust="spacingAndGlyphs" stroke="#231f20">FSC-H MFI of BFP<tspan font-size="5.5" dy="-3">+</tspan><tspan dy="3"> cells (×1000)</tspan></text>
<circle cx="279.50" cy="209.00" r="1.9" fill="#c8102e" />
<circle cx="279.00" cy="218.50" r="1.9" fill="#c8102e" />
<circle cx="283.50" cy="221.70" r="1.9" fill="#c8102e" />
<circle cx="281.00" cy="227.20" r="1.9" fill="#c8102e" />
<circle cx="276.00" cy="233.10" r="1.9" fill="#c8102e" />
<circle cx="283.50" cy="238.60" r="1.9" fill="#c8102e" />
<circle cx="280.00" cy="242.90" r="1.9" fill="#c8102e" />
<line x1="274.70" y1="227.40" x2="286.40" y2="227.40" stroke="#111" stroke-width="1.3" />
<circle cx="307.50" cy="245.90" r="1.9" fill="#1c5794" />
<circle cx="310.70" cy="245.20" r="1.9" fill="#1c5794" />
<circle cx="313.20" cy="242.10" r="1.9" fill="#1c5794" />
<circle cx="308.60" cy="246.90" r="1.9" fill="#1c5794" />
<circle cx="306.90" cy="256.90" r="1.9" fill="#1c5794" />
<circle cx="310.70" cy="253.70" r="1.9" fill="#1c5794" />
<circle cx="313.80" cy="259.60" r="1.9" fill="#1c5794" />
<line x1="305.00" y1="249.70" x2="316.00" y2="249.70" stroke="#111" stroke-width="1.3" />
<polygon points="306.80,209.20 307.30,210.41 308.61,210.51 307.61,211.36 307.92,212.64 306.80,211.95 305.68,212.64 305.99,211.36 304.99,210.51 306.30,210.41" stroke="none" stroke-width="1" fill="#111" />
<polygon points="310.70,209.20 311.20,210.41 312.51,210.51 311.51,211.36 311.82,212.64 310.70,211.95 309.58,212.64 309.89,211.36 308.89,210.51 310.20,210.41" stroke="none" stroke-width="1" fill="#111" />
<polygon points="314.60,209.20 315.10,210.41 316.41,210.51 315.41,211.36 315.72,212.64 314.60,211.95 313.48,212.64 313.79,211.36 312.79,210.51 314.10,210.41" stroke="none" stroke-width="1" fill="#111" />
<path d="M331.60,245.50 C332.80,245.48 337.23,245.65 338.80,245.40 C340.37,245.15 340.13,245.23 341.00,244.00 C341.87,242.77 343.00,240.33 344.00,238.00 C345.00,235.67 346.00,232.33 347.00,230.00 C348.00,227.67 349.17,225.83 350.00,224.00 C350.83,222.17 351.27,220.50 352.00,219.00 C352.73,217.50 353.65,215.42 354.40,215.00 C355.15,214.58 355.82,216.42 356.50,216.50 C357.18,216.58 357.83,215.77 358.50,215.50 C359.17,215.23 359.92,214.40 360.50,214.90 C361.08,215.40 361.42,217.15 362.00,218.50 C362.58,219.85 363.25,221.58 364.00,223.00 C364.75,224.42 365.67,225.58 366.50,227.00 C367.33,228.42 368.13,230.05 369.00,231.50 C369.87,232.95 370.78,234.53 371.70,235.70 C372.62,236.87 373.62,237.63 374.50,238.50 C375.38,239.37 376.08,240.15 377.00,240.90 C377.92,241.65 379.08,242.38 380.00,243.00 C380.92,243.62 381.72,244.20 382.50,244.60 C383.28,245.00 380.78,245.25 384.70,245.40 C388.62,245.55 402.45,245.48 406.00,245.50 L406.00,245.5 L331.60,245.5 Z" stroke="none" stroke-width="1" fill="#e28a9a" />
<path d="M331.60,245.50 C332.80,245.48 337.23,245.65 338.80,245.40 C340.37,245.15 340.13,245.23 341.00,244.00 C341.87,242.77 343.00,240.33 344.00,238.00 C345.00,235.67 346.00,232.33 347.00,230.00 C348.00,227.67 349.17,225.83 350.00,224.00 C350.83,222.17 351.27,220.50 352.00,219.00 C352.73,217.50 353.65,215.42 354.40,215.00 C355.15,214.58 355.82,216.42 356.50,216.50 C357.18,216.58 357.83,215.77 358.50,215.50 C359.17,215.23 359.92,214.40 360.50,214.90 C361.08,215.40 361.42,217.15 362.00,218.50 C362.58,219.85 363.25,221.58 364.00,223.00 C364.75,224.42 365.67,225.58 366.50,227.00 C367.33,228.42 368.13,230.05 369.00,231.50 C369.87,232.95 370.78,234.53 371.70,235.70 C372.62,236.87 373.62,237.63 374.50,238.50 C375.38,239.37 376.08,240.15 377.00,240.90 C377.92,241.65 379.08,242.38 380.00,243.00 C380.92,243.62 381.72,244.20 382.50,244.60 C383.28,245.00 380.78,245.25 384.70,245.40 C388.62,245.55 402.45,245.48 406.00,245.50" stroke="#c8102e" stroke-width="1.35" fill="none" />
<path d="M331.60,282.40 C332.58,282.38 336.18,282.87 337.50,282.30 C338.82,281.73 338.92,281.05 339.50,279.00 C340.08,276.95 340.47,273.33 341.00,270.00 C341.53,266.67 342.13,262.03 342.70,259.00 C343.27,255.97 343.78,252.80 344.40,251.80 C345.02,250.80 345.73,252.80 346.40,253.00 C347.07,253.20 347.72,252.17 348.40,253.00 C349.08,253.83 349.78,256.13 350.50,258.00 C351.22,259.87 352.03,262.45 352.70,264.20 C353.37,265.95 353.92,267.33 354.50,268.50 C355.08,269.67 355.53,270.37 356.20,271.20 C356.87,272.03 357.78,272.93 358.50,273.50 C359.22,274.07 359.67,274.02 360.50,274.60 C361.33,275.18 362.50,276.27 363.50,277.00 C364.50,277.73 365.50,278.33 366.50,279.00 C367.50,279.67 368.48,280.45 369.50,281.00 C370.52,281.55 366.52,282.07 372.60,282.30 C378.68,282.53 400.43,282.38 406.00,282.40 L406.00,282.4 L331.60,282.4 Z" stroke="none" stroke-width="1" fill="#84a5c6" />
<path d="M331.60,282.40 C332.58,282.38 336.18,282.87 337.50,282.30 C338.82,281.73 338.92,281.05 339.50,279.00 C340.08,276.95 340.47,273.33 341.00,270.00 C341.53,266.67 342.13,262.03 342.70,259.00 C343.27,255.97 343.78,252.80 344.40,251.80 C345.02,250.80 345.73,252.80 346.40,253.00 C347.07,253.20 347.72,252.17 348.40,253.00 C349.08,253.83 349.78,256.13 350.50,258.00 C351.22,259.87 352.03,262.45 352.70,264.20 C353.37,265.95 353.92,267.33 354.50,268.50 C355.08,269.67 355.53,270.37 356.20,271.20 C356.87,272.03 357.78,272.93 358.50,273.50 C359.22,274.07 359.67,274.02 360.50,274.60 C361.33,275.18 362.50,276.27 363.50,277.00 C364.50,277.73 365.50,278.33 366.50,279.00 C367.50,279.67 368.48,280.45 369.50,281.00 C370.52,281.55 366.52,282.07 372.60,282.30 C378.68,282.53 400.43,282.38 406.00,282.40" stroke="#1c5794" stroke-width="1.35" fill="none" />
<rect x="331.60" y="208.00" width="74.40" height="74.70" fill="none" stroke="#111" stroke-width="1.1" />
<text x="398.80" y="219.60" font-size="7.3" fill="#231f20" text-anchor="end" textLength="17.26" lengthAdjust="spacingAndGlyphs" stroke="#231f20">Cntrl</text>
<text x="400.40" y="256.80" font-size="7.3" fill="#231f20" text-anchor="end" stroke="#231f20">PLAG1-S</text>
<text x="369.10" y="292.00" font-size="7.8" fill="#231f20" text-anchor="middle" stroke="#231f20">FSC-H</text>
<line x1="448.10" y1="198.50" x2="448.10" y2="282.80" stroke="#231f20" stroke-width="1.35" />
<line x1="447.60" y1="282.30" x2="509.40" y2="282.30" stroke="#231f20" stroke-width="1.35" />
<line x1="445.10" y1="282.30" x2="448.10" y2="282.30" stroke="#231f20" stroke-width="0.9" />
<text x="441.80" y="285.20" font-size="8.6" fill="#231f20" text-anchor="end" textLength="4.3" lengthAdjust="spacingAndGlyphs" stroke="#231f20">0</text>
<line x1="445.10" y1="262.24" x2="448.10" y2="262.24" stroke="#231f20" stroke-width="0.9" />
<text x="441.80" y="265.14" font-size="8.6" fill="#231f20" text-anchor="end" textLength="12.91" lengthAdjust="spacingAndGlyphs" stroke="#231f20">200</text>
<line x1="445.10" y1="242.18" x2="448.10" y2="242.18" stroke="#231f20" stroke-width="0.9" />
<text x="441.80" y="245.08" font-size="8.6" fill="#231f20" text-anchor="end" textLength="12.91" lengthAdjust="spacingAndGlyphs" stroke="#231f20">400</text>
<line x1="445.10" y1="222.12" x2="448.10" y2="222.12" stroke="#231f20" stroke-width="0.9" />
<text x="441.80" y="225.02" font-size="8.6" fill="#231f20" text-anchor="end" textLength="12.91" lengthAdjust="spacingAndGlyphs" stroke="#231f20">600</text>
<line x1="445.10" y1="202.06" x2="448.10" y2="202.06" stroke="#231f20" stroke-width="0.9" />
<text x="441.80" y="204.96" font-size="8.6" fill="#231f20" text-anchor="end" textLength="12.91" lengthAdjust="spacingAndGlyphs" stroke="#231f20">800</text>
<line x1="464.60" y1="282.30" x2="464.60" y2="285.30" stroke="#231f20" stroke-width="0.9" />
<line x1="495.70" y1="282.30" x2="495.70" y2="285.30" stroke="#231f20" stroke-width="0.9" />
<text x="464.60" y="295.40" font-size="7.5" fill="#231f20" text-anchor="middle" textLength="17.42" lengthAdjust="spacingAndGlyphs" stroke="#231f20">Cntrl</text>
<text x="495.70" y="295.40" font-size="7.5" fill="#231f20" text-anchor="middle" stroke="#231f20">PLAG1-S</text>
<text x="423.0" y="266.6" font-size="9.2" fill="#231f20" transform="rotate(-90 423.0 266.6)" textLength="52.2" lengthAdjust="spacingAndGlyphs" stroke="#231f20">Cell area (μm<tspan font-size="5.5" dy="-3">2</tspan><tspan dy="3">)</tspan></text>
<circle cx="464.60" cy="233.52" r="1.0" fill="#c8102e" />
<circle cx="463.80" cy="234.89" r="1.0" fill="#c8102e" />
<circle cx="465.40" cy="234.90" r="1.0" fill="#c8102e" />
<circle cx="463.80" cy="236.01" r="1.0" fill="#c8102e" />
<circle cx="465.40" cy="236.33" r="1.0" fill="#c8102e" />
<circle cx="463.80" cy="237.44" r="1.0" fill="#c8102e" />
<circle cx="465.40" cy="237.75" r="1.0" fill="#c8102e" />
<circle cx="463.00" cy="239.03" r="1.0" fill="#c8102e" />
<circle cx="464.60" cy="238.89" r="1.0" fill="#c8102e" />
<circle cx="466.20" cy="238.96" r="1.0" fill="#c8102e" />
<circle cx="463.00" cy="240.30" r="1.0" fill="#c8102e" />
<circle cx="464.60" cy="240.40" r="1.0" fill="#c8102e" />
<circle cx="466.20" cy="240.26" r="1.0" fill="#c8102e" />
<circle cx="461.40" cy="241.67" r="1.0" fill="#c8102e" />
<circle cx="463.00" cy="241.43" r="1.0" fill="#c8102e" />
<circle cx="464.60" cy="241.70" r="1.0" fill="#c8102e" />
<circle cx="466.20" cy="241.64" r="1.0" fill="#c8102e" />
<circle cx="467.80" cy="241.52" r="1.0" fill="#c8102e" />
<circle cx="463.00" cy="243.10" r="1.0" fill="#c8102e" />
<circle cx="464.60" cy="242.94" r="1.0" fill="#c8102e" />
<circle cx="466.20" cy="243.04" r="1.0" fill="#c8102e" />
<circle cx="459.00" cy="244.39" r="1.0" fill="#c8102e" />
<circle cx="460.60" cy="244.47" r="1.0" fill="#c8102e" />
<circle cx="462.20" cy="244.26" r="1.0" fill="#c8102e" />
<circle cx="463.80" cy="244.42" r="1.0" fill="#c8102e" />
<circle cx="465.40" cy="244.28" r="1.0" fill="#c8102e" />
<circle cx="467.00" cy="244.47" r="1.0" fill="#c8102e" />
<circle cx="468.60" cy="244.45" r="1.0" fill="#c8102e" />
<circle cx="470.20" cy="244.14" r="1.0" fill="#c8102e" />
<circle cx="462.20" cy="245.54" r="1.0" fill="#c8102e" />
<circle cx="463.80" cy="245.84" r="1.0" fill="#c8102e" />
<circle cx="465.40" cy="245.62" r="1.0" fill="#c8102e" />
<circle cx="467.00" cy="245.70" r="1.0" fill="#c8102e" />
<circle cx="460.60" cy="247.00" r="1.0" fill="#c8102e" />
<circle cx="462.20" cy="246.95" r="1.0" fill="#c8102e" />
<circle cx="463.80" cy="246.94" r="1.0" fill="#c8102e" />
<circle cx="465.40" cy="247.03" r="1.0" fill="#c8102e" />
<circle cx="467.00" cy="247.03" r="1.0" fill="#c8102e" />
<circle cx="468.60" cy="247.16" r="1.0" fill="#c8102e" />
<circle cx="457.40" cy="248.52" r="1.0" fill="#c8102e" />
<circle cx="459.00" cy="248.49" r="1.0" fill="#c8102e" />
<circle cx="460.60" cy="248.55" r="1.0" fill="#c8102e" />
<circle cx="462.20" cy="248.42" r="1.0" fill="#c8102e" />
<circle cx="463.80" cy="248.22" r="1.0" fill="#c8102e" />
<circle cx="465.40" cy="248.49" r="1.0" fill="#c8102e" />
<circle cx="467.00" cy="248.54" r="1.0" fill="#c8102e" />
<circle cx="468.60" cy="248.51" r="1.0" fill="#c8102e" />
<circle cx="470.20" cy="248.38" r="1.0" fill="#c8102e" />
<circle cx="471.80" cy="248.44" r="1.0" fill="#c8102e" />
<circle cx="460.60" cy="249.83" r="1.0" fill="#c8102e" />
<circle cx="462.20" cy="249.73" r="1.0" fill="#c8102e" />
<circle cx="463.80" cy="249.61" r="1.0" fill="#c8102e" />
<circle cx="465.40" cy="249.53" r="1.0" fill="#c8102e" />
<circle cx="467.00" cy="249.84" r="1.0" fill="#c8102e" />
<circle cx="468.60" cy="249.90" r="1.0" fill="#c8102e" />
<circle cx="461.40" cy="251.17" r="1.0" fill="#c8102e" />
<circle cx="463.00" cy="251.01" r="1.0" fill="#c8102e" />
<circle cx="464.60" cy="250.91" r="1.0" fill="#c8102e" />
<circle cx="466.20" cy="250.97" r="1.0" fill="#c8102e" />
<circle cx="467.80" cy="251.16" r="1.0" fill="#c8102e" />
<circle cx="455.80" cy="252.22" r="1.0" fill="#c8102e" />
<circle cx="457.40" cy="252.45" r="1.0" fill="#c8102e" />
<circle cx="459.00" cy="252.22" r="1.0" fill="#c8102e" />
<circle cx="460.60" cy="252.49" r="1.0" fill="#c8102e" />
<circle cx="462.20" cy="252.33" r="1.0" fill="#c8102e" />
<circle cx="463.80" cy="252.55" r="1.0" fill="#c8102e" />
<circle cx="465.40" cy="252.59" r="1.0" fill="#c8102e" />
<circle cx="467.00" cy="252.40" r="1.0" fill="#c8102e" />
<circle cx="468.60" cy="252.60" r="1.0" fill="#c8102e" />
<circle cx="470.20" cy="252.32" r="1.0" fill="#c8102e" />
<circle cx="471.80" cy="252.23" r="1.0" fill="#c8102e" />
<circle cx="473.40" cy="252.44" r="1.0" fill="#c8102e" />
<circle cx="461.40" cy="253.63" r="1.0" fill="#c8102e" />
<circle cx="463.00" cy="253.71" r="1.0" fill="#c8102e" />
<circle cx="464.60" cy="253.79" r="1.0" fill="#c8102e" />
<circle cx="466.20" cy="253.61" r="1.0" fill="#c8102e" />
<circle cx="467.80" cy="253.57" r="1.0" fill="#c8102e" />
<circle cx="457.40" cy="255.03" r="1.0" fill="#c8102e" />
<circle cx="459.00" cy="255.28" r="1.0" fill="#c8102e" />
<circle cx="460.60" cy="255.26" r="1.0" fill="#c8102e" />
<circle cx="462.20" cy="255.05" r="1.0" fill="#c8102e" />
<circle cx="463.80" cy="255.08" r="1.0" fill="#c8102e" />
<circle cx="465.40" cy="255.11" r="1.0" fill="#c8102e" />
<circle cx="467.00" cy="255.16" r="1.0" fill="#c8102e" />
<circle cx="468.60" cy="255.14" r="1.0" fill="#c8102e" />
<circle cx="470.20" cy="255.12" r="1.0" fill="#c8102e" />
<circle cx="471.80" cy="255.15" r="1.0" fill="#c8102e" />
<circle cx="457.40" cy="256.45" r="1.0" fill="#c8102e" />
<circle cx="459.00" cy="256.42" r="1.0" fill="#c8102e" />
<circle cx="460.60" cy="256.54" r="1.0" fill="#c8102e" />
<circle cx="462.20" cy="256.35" r="1.0" fill="#c8102e" />
<circle cx="463.80" cy="256.37" r="1.0" fill="#c8102e" />
<circle cx="465.40" cy="256.64" r="1.0" fill="#c8102e" />
<circle cx="467.00" cy="256.46" r="1.0" fill="#c8102e" />
<circle cx="468.60" cy="256.47" r="1.0" fill="#c8102e" />
<circle cx="470.20" cy="256.25" r="1.0" fill="#c8102e" />
<circle cx="471.80" cy="256.42" r="1.0" fill="#c8102e" />
<circle cx="459.80" cy="257.61" r="1.0" fill="#c8102e" />
<circle cx="461.40" cy="257.85" r="1.0" fill="#c8102e" />
<circle cx="463.00" cy="257.85" r="1.0" fill="#c8102e" />
<circle cx="464.60" cy="257.62" r="1.0" fill="#c8102e" />
<circle cx="466.20" cy="257.85" r="1.0" fill="#c8102e" />
<circle cx="467.80" cy="257.79" r="1.0" fill="#c8102e" />
<circle cx="469.40" cy="257.87" r="1.0" fill="#c8102e" />
<circle cx="461.40" cy="259.23" r="1.0" fill="#c8102e" />
<circle cx="463.00" cy="259.25" r="1.0" fill="#c8102e" />
<circle cx="464.60" cy="258.96" r="1.0" fill="#c8102e" />
<circle cx="466.20" cy="258.97" r="1.0" fill="#c8102e" />
<circle cx="467.80" cy="259.22" r="1.0" fill="#c8102e" />
<circle cx="459.80" cy="260.40" r="1.0" fill="#c8102e" />
<circle cx="461.40" cy="260.48" r="1.0" fill="#c8102e" />
<circle cx="463.00" cy="260.54" r="1.0" fill="#c8102e" />
<circle cx="464.60" cy="260.43" r="1.0" fill="#c8102e" />
<circle cx="466.20" cy="260.45" r="1.0" fill="#c8102e" />
<circle cx="467.80" cy="260.43" r="1.0" fill="#c8102e" />
<circle cx="469.40" cy="260.45" r="1.0" fill="#c8102e" />
<circle cx="461.40" cy="261.77" r="1.0" fill="#c8102e" />
<circle cx="463.00" cy="261.80" r="1.0" fill="#c8102e" />
<circle cx="464.60" cy="261.96" r="1.0" fill="#c8102e" />
<circle cx="466.20" cy="261.66" r="1.0" fill="#c8102e" />
<circle cx="467.80" cy="261.88" r="1.0" fill="#c8102e" />
<circle cx="462.20" cy="263.12" r="1.0" fill="#c8102e" />
<circle cx="463.80" cy="263.09" r="1.0" fill="#c8102e" />
<circle cx="465.40" cy="263.32" r="1.0" fill="#c8102e" />
<circle cx="467.00" cy="263.10" r="1.0" fill="#c8102e" />
<circle cx="463.80" cy="264.52" r="1.0" fill="#c8102e" />
<circle cx="465.40" cy="264.63" r="1.0" fill="#c8102e" />
<circle cx="463.80" cy="265.83" r="1.0" fill="#c8102e" />
<circle cx="465.40" cy="265.83" r="1.0" fill="#c8102e" />
<circle cx="463.00" cy="267.23" r="1.0" fill="#c8102e" />
<circle cx="464.60" cy="267.39" r="1.0" fill="#c8102e" />
<circle cx="466.20" cy="267.12" r="1.0" fill="#c8102e" />
<circle cx="463.80" cy="268.66" r="1.0" fill="#c8102e" />
<circle cx="465.40" cy="268.75" r="1.0" fill="#c8102e" />
<circle cx="463.80" cy="269.84" r="1.0" fill="#c8102e" />
<circle cx="465.40" cy="269.80" r="1.0" fill="#c8102e" />
<circle cx="464.60" cy="271.18" r="1.0" fill="#c8102e" />
<circle cx="464.60" cy="272.79" r="1.0" fill="#c8102e" />
<circle cx="464.60" cy="212.40" r="0.95" fill="#c8102e" />
<circle cx="464.60" cy="216.00" r="0.95" fill="#c8102e" />
<circle cx="464.60" cy="219.50" r="0.95" fill="#c8102e" />
<circle cx="464.60" cy="221.20" r="0.95" fill="#c8102e" />
<circle cx="464.60" cy="224.50" r="0.95" fill="#c8102e" />
<circle cx="464.60" cy="226.50" r="0.95" fill="#c8102e" />
<circle cx="464.60" cy="228.40" r="0.95" fill="#c8102e" />
<circle cx="464.60" cy="272.50" r="0.95" fill="#c8102e" />
<circle cx="464.60" cy="275.80" r="0.95" fill="#c8102e" />
<circle cx="494.80" cy="251.44" r="1.1" fill="#1c5794" />
<circle cx="494.00" cy="252.81" r="1.1" fill="#1c5794" />
<circle cx="495.60" cy="252.78" r="1.1" fill="#1c5794" />
<circle cx="493.20" cy="254.47" r="1.1" fill="#1c5794" />
<circle cx="494.80" cy="254.42" r="1.1" fill="#1c5794" />
<circle cx="496.40" cy="254.41" r="1.1" fill="#1c5794" />
<circle cx="493.20" cy="255.66" r="1.1" fill="#1c5794" />
<circle cx="494.80" cy="255.56" r="1.1" fill="#1c5794" />
<circle cx="496.40" cy="255.52" r="1.1" fill="#1c5794" />
<circle cx="492.40" cy="256.89" r="1.1" fill="#1c5794" />
<circle cx="494.00" cy="257.17" r="1.1" fill="#1c5794" />
<circle cx="495.60" cy="257.13" r="1.1" fill="#1c5794" />
<circle cx="497.20" cy="257.12" r="1.1" fill="#1c5794" />
<circle cx="488.40" cy="258.23" r="1.1" fill="#1c5794" />
<circle cx="490.00" cy="258.27" r="1.1" fill="#1c5794" />
<circle cx="491.60" cy="258.40" r="1.1" fill="#1c5794" />
<circle cx="493.20" cy="258.44" r="1.1" fill="#1c5794" />
<circle cx="494.80" cy="258.49" r="1.1" fill="#1c5794" />
<circle cx="496.40" cy="258.50" r="1.1" fill="#1c5794" />
<circle cx="498.00" cy="258.18" r="1.1" fill="#1c5794" />
<circle cx="499.60" cy="258.39" r="1.1" fill="#1c5794" />
<circle cx="501.20" cy="258.42" r="1.1" fill="#1c5794" />
<circle cx="489.20" cy="259.57" r="1.1" fill="#1c5794" />
<circle cx="490.80" cy="259.69" r="1.1" fill="#1c5794" />
<circle cx="492.40" cy="259.54" r="1.1" fill="#1c5794" />
<circle cx="494.00" cy="259.87" r="1.1" fill="#1c5794" />
<circle cx="495.60" cy="259.85" r="1.1" fill="#1c5794" />
<circle cx="497.20" cy="259.72" r="1.1" fill="#1c5794" />
<circle cx="498.80" cy="259.62" r="1.1" fill="#1c5794" />
<circle cx="500.40" cy="259.86" r="1.1" fill="#1c5794" />
<circle cx="487.60" cy="261.20" r="1.1" fill="#1c5794" />
<circle cx="489.20" cy="261.19" r="1.1" fill="#1c5794" />
<circle cx="490.80" cy="261.05" r="1.1" fill="#1c5794" />
<circle cx="492.40" cy="261.02" r="1.1" fill="#1c5794" />
<circle cx="494.00" cy="261.09" r="1.1" fill="#1c5794" />
<circle cx="495.60" cy="261.02" r="1.1" fill="#1c5794" />
<circle cx="497.20" cy="260.91" r="1.1" fill="#1c5794" />
<circle cx="498.80" cy="260.97" r="1.1" fill="#1c5794" />
<circle cx="500.40" cy="261.18" r="1.1" fill="#1c5794" />
<circle cx="502.00" cy="260.87" r="1.1" fill="#1c5794" />
<circle cx="490.80" cy="262.45" r="1.1" fill="#1c5794" />
<circle cx="492.40" cy="262.31" r="1.1" fill="#1c5794" />
<circle cx="494.00" cy="262.41" r="1.1" fill="#1c5794" />
<circle cx="495.60" cy="262.39" r="1.1" fill="#1c5794" />
<circle cx="497.20" cy="262.34" r="1.1" fill="#1c5794" />
<circle cx="498.80" cy="262.60" r="1.1" fill="#1c5794" />
<circle cx="489.20" cy="263.72" r="1.1" fill="#1c5794" />
<circle cx="490.80" cy="263.63" r="1.1" fill="#1c5794" />
<circle cx="492.40" cy="263.80" r="1.1" fill="#1c5794" />
<circle cx="494.00" cy="263.66" r="1.1" fill="#1c5794" />
<circle cx="495.60" cy="263.69" r="1.1" fill="#1c5794" />
<circle cx="497.20" cy="263.85" r="1.1" fill="#1c5794" />
<circle cx="498.80" cy="263.68" r="1.1" fill="#1c5794" />
<circle cx="500.40" cy="263.77" r="1.1" fill="#1c5794" />
<circle cx="482.80" cy="264.94" r="1.1" fill="#1c5794" />
<circle cx="484.40" cy="264.92" r="1.1" fill="#1c5794" />
<circle cx="486.00" cy="264.99" r="1.1" fill="#1c5794" />
<circle cx="487.60" cy="265.21" r="1.1" fill="#1c5794" />
<circle cx="489.20" cy="265.15" r="1.1" fill="#1c5794" />
<circle cx="490.80" cy="264.99" r="1.1" fill="#1c5794" />
<circle cx="492.40" cy="265.03" r="1.1" fill="#1c5794" />
<circle cx="494.00" cy="264.97" r="1.1" fill="#1c5794" />
<circle cx="495.60" cy="265.08" r="1.1" fill="#1c5794" />
<circle cx="497.20" cy="264.92" r="1.1" fill="#1c5794" />
<circle cx="498.80" cy="265.18" r="1.1" fill="#1c5794" />
<circle cx="500.40" cy="265.26" r="1.1" fill="#1c5794" />
<circle cx="502.00" cy="265.28" r="1.1" fill="#1c5794" />
<circle cx="503.60" cy="265.19" r="1.1" fill="#1c5794" />
<circle cx="505.20" cy="265.28" r="1.1" fill="#1c5794" />
<circle cx="506.80" cy="264.91" r="1.1" fill="#1c5794" />
<circle cx="488.40" cy="266.64" r="1.1" fill="#1c5794" />
<circle cx="490.00" cy="266.56" r="1.1" fill="#1c5794" />
<circle cx="491.60" cy="266.41" r="1.1" fill="#1c5794" />
<circle cx="493.20" cy="266.63" r="1.1" fill="#1c5794" />
<circle cx="494.80" cy="266.50" r="1.1" fill="#1c5794" />
<circle cx="496.40" cy="266.58" r="1.1" fill="#1c5794" />
<circle cx="498.00" cy="266.37" r="1.1" fill="#1c5794" />
<circle cx="499.60" cy="266.33" r="1.1" fill="#1c5794" />
<circle cx="501.20" cy="266.43" r="1.1" fill="#1c5794" />
<circle cx="489.20" cy="267.75" r="1.1" fill="#1c5794" />
<circle cx="490.80" cy="267.98" r="1.1" fill="#1c5794" />
<circle cx="492.40" cy="267.73" r="1.1" fill="#1c5794" />
<circle cx="494.00" cy="267.60" r="1.1" fill="#1c5794" />
<circle cx="495.60" cy="267.62" r="1.1" fill="#1c5794" />
<circle cx="497.20" cy="267.67" r="1.1" fill="#1c5794" />
<circle cx="498.80" cy="267.91" r="1.1" fill="#1c5794" />
<circle cx="500.40" cy="267.75" r="1.1" fill="#1c5794" />
<circle cx="487.60" cy="268.99" r="1.1" fill="#1c5794" />
<circle cx="489.20" cy="269.34" r="1.1" fill="#1c5794" />
<circle cx="490.80" cy="269.12" r="1.1" fill="#1c5794" />
<circle cx="492.40" cy="269.03" r="1.1" fill="#1c5794" />
<circle cx="494.00" cy="268.97" r="1.1" fill="#1c5794" />
<circle cx="495.60" cy="268.97" r="1.1" fill="#1c5794" />
<circle cx="497.20" cy="269.02" r="1.1" fill="#1c5794" />
<circle cx="498.80" cy="269.22" r="1.1" fill="#1c5794" />
<circle cx="500.40" cy="269.01" r="1.1" fill="#1c5794" />
<circle cx="502.00" cy="268.97" r="1.1" fill="#1c5794" />
<circle cx="486.80" cy="270.40" r="1.1" fill="#1c5794" />
<circle cx="488.40" cy="270.70" r="1.1" fill="#1c5794" />
<circle cx="490.00" cy="270.35" r="1.1" fill="#1c5794" />
<circle cx="491.60" cy="270.51" r="1.1" fill="#1c5794" />
<circle cx="493.20" cy="270.61" r="1.1" fill="#1c5794" />
<circle cx="494.80" cy="270.46" r="1.1" fill="#1c5794" />
<circle cx="496.40" cy="270.70" r="1.1" fill="#1c5794" />
<circle cx="498.00" cy="270.49" r="1.1" fill="#1c5794" />
<circle cx="499.60" cy="270.40" r="1.1" fill="#1c5794" />
<circle cx="501.20" cy="270.46" r="1.1" fill="#1c5794" />
<circle cx="502.80" cy="270.31" r="1.1" fill="#1c5794" />
<circle cx="487.60" cy="271.75" r="1.1" fill="#1c5794" />
<circle cx="489.20" cy="272.01" r="1.1" fill="#1c5794" />
<circle cx="490.80" cy="271.98" r="1.1" fill="#1c5794" />
<circle cx="492.40" cy="271.85" r="1.1" fill="#1c5794" />
<circle cx="494.00" cy="271.66" r="1.1" fill="#1c5794" />
<circle cx="495.60" cy="271.75" r="1.1" fill="#1c5794" />
<circle cx="497.20" cy="271.75" r="1.1" fill="#1c5794" />
<circle cx="498.80" cy="271.73" r="1.1" fill="#1c5794" />
<circle cx="500.40" cy="271.74" r="1.1" fill="#1c5794" />
<circle cx="502.00" cy="272.00" r="1.1" fill="#1c5794" />
<circle cx="490.80" cy="273.02" r="1.1" fill="#1c5794" />
<circle cx="492.40" cy="273.37" r="1.1" fill="#1c5794" />
<circle cx="494.00" cy="273.23" r="1.1" fill="#1c5794" />
<circle cx="495.60" cy="273.40" r="1.1" fill="#1c5794" />
<circle cx="497.20" cy="273.16" r="1.1" fill="#1c5794" />
<circle cx="498.80" cy="273.36" r="1.1" fill="#1c5794" />
<circle cx="488.40" cy="274.67" r="1.1" fill="#1c5794" />
<circle cx="490.00" cy="274.65" r="1.1" fill="#1c5794" />
<circle cx="491.60" cy="274.55" r="1.1" fill="#1c5794" />
<circle cx="493.20" cy="274.39" r="1.1" fill="#1c5794" />
<circle cx="494.80" cy="274.43" r="1.1" fill="#1c5794" />
<circle cx="496.40" cy="274.70" r="1.1" fill="#1c5794" />
<circle cx="498.00" cy="274.71" r="1.1" fill="#1c5794" />
<circle cx="499.60" cy="274.72" r="1.1" fill="#1c5794" />
<circle cx="501.20" cy="274.48" r="1.1" fill="#1c5794" />
<circle cx="490.80" cy="276.02" r="1.1" fill="#1c5794" />
<circle cx="492.40" cy="275.96" r="1.1" fill="#1c5794" />
<circle cx="494.00" cy="276.03" r="1.1" fill="#1c5794" />
<circle cx="495.60" cy="275.91" r="1.1" fill="#1c5794" />
<circle cx="497.20" cy="275.96" r="1.1" fill="#1c5794" />
<circle cx="498.80" cy="275.97" r="1.1" fill="#1c5794" />
<circle cx="493.20" cy="277.42" r="1.1" fill="#1c5794" />
<circle cx="494.80" cy="277.43" r="1.1" fill="#1c5794" />
<circle cx="496.40" cy="277.08" r="1.1" fill="#1c5794" />
<line x1="452.90" y1="249.30" x2="476.30" y2="249.30" stroke="#111" stroke-width="1.3" />
<line x1="483.00" y1="267.40" x2="506.80" y2="267.40" stroke="#111" stroke-width="1.3" />
<line x1="476.60" y1="209.70" x2="490.00" y2="209.70" stroke="#111" stroke-width="1" />
<polygon points="479.40,202.70 479.90,203.91 481.21,204.01 480.21,204.86 480.52,206.14 479.40,205.45 478.28,206.14 478.59,204.86 477.59,204.01 478.90,203.91" stroke="none" stroke-width="1" fill="#111" />
<polygon points="483.30,202.70 483.80,203.91 485.11,204.01 484.11,204.86 484.42,206.14 483.30,205.45 482.18,206.14 482.49,204.86 481.49,204.01 482.80,203.91" stroke="none" stroke-width="1" fill="#111" />
<polygon points="487.20,202.70 487.70,203.91 489.01,204.01 488.01,204.86 488.32,206.14 487.20,205.45 486.08,206.14 486.39,204.86 485.39,204.01 486.70,203.91" stroke="none" stroke-width="1" fill="#111" />
<rect x="446.10" y="298.80" width="30.90" height="28.40" fill="#0c0c0c" stroke="none" stroke-width="1" />
<rect x="480.70" y="298.80" width="32.10" height="28.40" fill="#0c0c0c" stroke="none" stroke-width="1" />
<path d="M467.0,316.3 L469.8,317.0 L475.0,325.8 L473.8,326.0 L467.2,319.0 Z" fill="#c84028" opacity="0.85"/>
<ellipse cx="457.2" cy="313.3" rx="1.8" ry="1.0" fill="#e06a3a"/>
<ellipse cx="460.5" cy="317.5" rx="1.2" ry="1.4" fill="#d85030"/>
<circle cx="463.8" cy="312.3" r="5.9" fill="#e2503a" stroke="#9a7a3a" stroke-width="0.5"/>
<ellipse cx="465.3" cy="310.3" rx="2.6" ry="2.2" fill="#f08f7e" opacity="0.7"/>
<rect x="446.80" y="322.90" width="18.00" height="2.10" fill="#ffffff" stroke="none" stroke-width="1" />
<circle cx="499.4" cy="316.8" r="4.1" fill="#c8402a" stroke="#4a9a3a" stroke-width="0.8"/>
<ellipse cx="499.4" cy="316.9" rx="2.0" ry="1.3" fill="#2a0805"/>
<text x="4.00" y="340.50" font-size="11.5" fill="#000" font-weight="bold" stroke="#000">E</text>
<text x="60.10" y="341.80" font-size="9.2" fill="#231f20" text-anchor="middle" textLength="20.98" lengthAdjust="spacingAndGlyphs" stroke="#231f20">Cntrl</text>
<text x="140.70" y="341.80" font-size="9.0" fill="#231f20" text-anchor="middle" stroke="#231f20">PLAG1-S</text>
<line x1="19.90" y1="354.00" x2="19.90" y2="486.90" stroke="#666" stroke-width="1.5" />
<polygon points="19.90,350.80 17.90,354.40 21.90,354.40" stroke="none" stroke-width="1" fill="#111" />
<line x1="28.30" y1="491.80" x2="174.50" y2="491.80" stroke="#666" stroke-width="1.5" />
<polygon points="178.00,491.70 174.20,489.70 174.20,493.70" stroke="none" stroke-width="1" fill="#111" />
<text x="13.30" y="438.70" font-size="8.2" fill="#231f20" textLength="39.7" lengthAdjust="spacingAndGlyphs" transform="rotate(-90 13.30 438.70)" stroke="#231f20">Ki67-PE-Cy7</text>
<text x="78.00" y="502.60" font-size="9.8" fill="#231f20" textLength="50" lengthAdjust="spacingAndGlyphs" stroke="#231f20">Hoechst 33342</text>
<defs><filter id="blur1" x="-50%" y="-50%" width="200%" height="200%"><feGaussianBlur stdDeviation="1.2"/></filter><filter id="blur2" x="-50%" y="-50%" width="200%" height="200%"><feGaussianBlur stdDeviation="0.7"/></filter><filter id="blur3" x="-20%" y="-20%" width="140%" height="140%"><feGaussianBlur stdDeviation="0.9"/></filter></defs>
<g filter="url(#blur3)">
<circle cx="67.84" cy="376.06" r="1.0" fill="#f04040" opacity="0.22"/>
<circle cx="71.11" cy="380.68" r="1.0" fill="#f04040" opacity="0.22"/>
<circle cx="70.06" cy="380.21" r="1.0" fill="#f04040" opacity="0.22"/>
<circle cx="56.55" cy="369.71" r="1.0" fill="#f04040" opacity="0.22"/>
<circle cx="73.92" cy="373.93" r="1.0" fill="#f04040" opacity="0.22"/>
<circle cx="73.12" cy="361.60" r="1.0" fill="#f04040" opacity="0.22"/>
<circle cx="64.91" cy="364.67" r="1.0" fill="#f04040" opacity="0.22"/>
<circle cx="66.33" cy="372.20" r="1.0" fill="#f04040" opacity="0.22"/>
<circle cx="56.25" cy="363.98" r="1.0" fill="#f04040" opacity="0.22"/>
<circle cx="61.31" cy="380.08" r="1.0" fill="#f04040" opacity="0.22"/>
<circle cx="70.55" cy="362.67" r="1.0" fill="#f04040" opacity="0.22"/>
<circle cx="71.15" cy="362.19" r="1.0" fill="#f04040" opacity="0.22"/>
<circle cx="67.73" cy="361.91" r="1.0" fill="#f04040" opacity="0.22"/>
<circle cx="56.03" cy="379.04" r="1.0" fill="#f04040" opacity="0.22"/>
<circle cx="59.98" cy="363.96" r="1.0" fill="#f04040" opacity="0.22"/>
<circle cx="74.67" cy="379.07" r="1.0" fill="#f04040" opacity="0.22"/>
<circle cx="61.50" cy="381.11" r="1.0" fill="#f04040" opacity="0.22"/>
<circle cx="66.25" cy="374.59" r="1.0" fill="#f04040" opacity="0.22"/>
<circle cx="59.89" cy="380.64" r="1.0" fill="#f04040" opacity="0.22"/>
<circle cx="69.12" cy="381.23" r="1.0" fill="#f04040" opacity="0.22"/>
<circle cx="72.98" cy="365.87" r="1.0" fill="#f04040" opacity="0.22"/>
<circle cx="62.86" cy="362.82" r="1.0" fill="#f04040" opacity="0.22"/>
<circle cx="58.77" cy="360.50" r="1.0" fill="#f04040" opacity="0.22"/>
<circle cx="61.73" cy="372.87" r="1.0" fill="#f04040" opacity="0.22"/>
<circle cx="56.06" cy="374.59" r="1.0" fill="#f04040" opacity="0.22"/>
<circle cx="62.42" cy="366.13" r="1.0" fill="#f04040" opacity="0.22"/>
<circle cx="71.55" cy="370.06" r="1.0" fill="#f04040" opacity="0.22"/>
<circle cx="62.00" cy="370.07" r="1.0" fill="#f04040" opacity="0.22"/>
<circle cx="69.39" cy="360.31" r="1.0" fill="#f04040" opacity="0.22"/>
<circle cx="74.53" cy="359.53" r="1.0" fill="#f04040" opacity="0.22"/>
<circle cx="70.25" cy="378.43" r="1.0" fill="#f04040" opacity="0.22"/>
<circle cx="56.34" cy="377.12" r="1.0" fill="#f04040" opacity="0.22"/>
<circle cx="62.96" cy="372.31" r="1.0" fill="#f04040" opacity="0.22"/>
<circle cx="56.17" cy="360.07" r="1.0" fill="#f04040" opacity="0.22"/>
<circle cx="59.44" cy="380.97" r="1.0" fill="#f04040" opacity="0.22"/>
<circle cx="59.73" cy="376.38" r="1.0" fill="#f04040" opacity="0.22"/>
<circle cx="73.66" cy="380.67" r="1.0" fill="#f04040" opacity="0.22"/>
<circle cx="62.54" cy="367.16" r="1.0" fill="#f04040" opacity="0.22"/>
<circle cx="65.97" cy="376.84" r="1.0" fill="#f04040" opacity="0.22"/>
<circle cx="58.05" cy="376.21" r="1.0" fill="#f04040" opacity="0.22"/>
<circle cx="71.15" cy="378.77" r="1.0" fill="#f04040" opacity="0.22"/>
<circle cx="56.70" cy="380.75" r="1.0" fill="#f04040" opacity="0.22"/>
<circle cx="57.73" cy="366.84" r="1.0" fill="#f04040" opacity="0.22"/>
<circle cx="67.61" cy="380.12" r="1.0" fill="#f04040" opacity="0.22"/>
<circle cx="62.46" cy="380.26" r="1.0" fill="#f04040" opacity="0.22"/>
<circle cx="66.36" cy="366.19" r="1.0" fill="#f04040" opacity="0.22"/>
<circle cx="62.02" cy="363.08" r="1.0" fill="#f04040" opacity="0.22"/>
<circle cx="57.49" cy="362.42" r="1.0" fill="#f04040" opacity="0.22"/>
<circle cx="69.09" cy="381.92" r="1.0" fill="#f04040" opacity="0.22"/>
<circle cx="59.07" cy="360.12" r="1.0" fill="#f04040" opacity="0.22"/>
<circle cx="74.75" cy="371.27" r="1.0" fill="#f04040" opacity="0.22"/>
<circle cx="63.71" cy="364.46" r="1.0" fill="#f04040" opacity="0.22"/>
<circle cx="67.29" cy="378.00" r="1.0" fill="#f04040" opacity="0.22"/>
<circle cx="64.66" cy="368.70" r="1.0" fill="#f04040" opacity="0.22"/>
<circle cx="57.06" cy="380.07" r="1.0" fill="#f04040" opacity="0.22"/>
<circle cx="56.62" cy="370.35" r="1.0" fill="#f04040" opacity="0.22"/>
<circle cx="71.93" cy="362.00" r="1.0" fill="#f04040" opacity="0.22"/>
<circle cx="69.90" cy="380.85" r="1.0" fill="#f04040" opacity="0.22"/>
<circle cx="67.98" cy="377.12" r="1.0" fill="#f04040" opacity="0.22"/>
<circle cx="58.03" cy="368.99" r="1.0" fill="#f04040" opacity="0.22"/>
<circle cx="58.84" cy="378.43" r="1.0" fill="#f04040" opacity="0.22"/>
<circle cx="61.60" cy="369.42" r="1.0" fill="#f04040" opacity="0.22"/>
<circle cx="74.99" cy="378.60" r="1.0" fill="#f04040" opacity="0.22"/>
<circle cx="74.54" cy="369.43" r="1.0" fill="#f04040" opacity="0.22"/>
<circle cx="65.28" cy="375.78" r="1.0" fill="#f04040" opacity="0.22"/>
<circle cx="65.10" cy="365.69" r="1.0" fill="#f04040" opacity="0.22"/>
<circle cx="63.67" cy="362.37" r="1.0" fill="#f04040" opacity="0.22"/>
<circle cx="63.16" cy="381.73" r="1.0" fill="#f04040" opacity="0.22"/>
<circle cx="74.24" cy="373.42" r="1.0" fill="#f04040" opacity="0.22"/>
<circle cx="65.49" cy="366.79" r="1.0" fill="#f04040" opacity="0.22"/>
<circle cx="57.69" cy="365.26" r="1.0" fill="#f04040" opacity="0.22"/>
<circle cx="70.86" cy="378.95" r="1.0" fill="#f04040" opacity="0.22"/>
<circle cx="62.87" cy="377.08" r="1.0" fill="#f04040" opacity="0.22"/>
<circle cx="70.72" cy="374.98" r="1.0" fill="#f04040" opacity="0.22"/>
<circle cx="68.62" cy="376.47" r="1.0" fill="#f04040" opacity="0.22"/>
<circle cx="62.91" cy="375.20" r="1.0" fill="#f04040" opacity="0.22"/>
<circle cx="61.34" cy="370.17" r="1.0" fill="#f04040" opacity="0.22"/>
<circle cx="70.63" cy="374.89" r="1.0" fill="#f04040" opacity="0.22"/>
<circle cx="61.58" cy="380.75" r="1.0" fill="#f04040" opacity="0.22"/>
<circle cx="68.34" cy="372.36" r="1.0" fill="#f04040" opacity="0.22"/>
<circle cx="56.22" cy="371.58" r="1.0" fill="#f04040" opacity="0.22"/>
<circle cx="60.76" cy="374.45" r="1.0" fill="#f04040" opacity="0.22"/>
<circle cx="64.80" cy="377.78" r="1.0" fill="#f04040" opacity="0.22"/>
<circle cx="68.30" cy="377.35" r="1.0" fill="#f04040" opacity="0.22"/>
<circle cx="62.61" cy="373.81" r="1.0" fill="#f04040" opacity="0.22"/>
<circle cx="70.02" cy="378.05" r="1.0" fill="#f04040" opacity="0.22"/>
<circle cx="62.65" cy="378.39" r="1.0" fill="#f04040" opacity="0.22"/>
<circle cx="72.53" cy="374.83" r="1.0" fill="#f04040" opacity="0.22"/>
<circle cx="74.55" cy="381.00" r="1.0" fill="#f04040" opacity="0.22"/>
<circle cx="65.84" cy="371.17" r="1.0" fill="#f04040" opacity="0.22"/>
<circle cx="59.16" cy="378.24" r="1.0" fill="#f04040" opacity="0.22"/>
<circle cx="73.81" cy="369.98" r="1.0" fill="#f04040" opacity="0.22"/>
<circle cx="69.14" cy="375.55" r="1.0" fill="#f04040" opacity="0.22"/>
<circle cx="69.88" cy="362.95" r="1.0" fill="#f04040" opacity="0.22"/>
<circle cx="70.83" cy="372.36" r="1.0" fill="#f04040" opacity="0.22"/>
<circle cx="68.65" cy="368.68" r="1.0" fill="#f04040" opacity="0.22"/>
<circle cx="67.85" cy="376.82" r="1.0" fill="#f04040" opacity="0.22"/>
<circle cx="68.10" cy="375.57" r="1.0" fill="#f04040" opacity="0.22"/>
<circle cx="56.52" cy="362.68" r="1.0" fill="#f04040" opacity="0.22"/>
<circle cx="64.38" cy="373.95" r="1.0" fill="#f04040" opacity="0.22"/>
<circle cx="60.16" cy="374.78" r="1.0" fill="#f04040" opacity="0.22"/>
<circle cx="67.99" cy="359.96" r="1.0" fill="#f04040" opacity="0.22"/>
<circle cx="64.96" cy="364.20" r="1.0" fill="#f04040" opacity="0.22"/>
<circle cx="57.03" cy="362.07" r="1.0" fill="#f04040" opacity="0.22"/>
<circle cx="62.03" cy="363.18" r="1.0" fill="#f04040" opacity="0.22"/>
<circle cx="59.67" cy="359.82" r="1.0" fill="#f04040" opacity="0.22"/>
<circle cx="64.84" cy="367.75" r="1.0" fill="#f04040" opacity="0.22"/>
<circle cx="67.62" cy="372.57" r="1.0" fill="#f04040" opacity="0.22"/>
<circle cx="60.52" cy="379.77" r="1.0" fill="#f04040" opacity="0.22"/>
<circle cx="56.01" cy="368.32" r="1.0" fill="#f04040" opacity="0.22"/>
<circle cx="61.29" cy="368.43" r="1.0" fill="#f04040" opacity="0.22"/>
<circle cx="58.19" cy="378.12" r="1.0" fill="#f04040" opacity="0.22"/>
<circle cx="63.10" cy="359.83" r="1.0" fill="#f04040" opacity="0.22"/>
<circle cx="67.66" cy="361.18" r="1.0" fill="#f04040" opacity="0.22"/>
<circle cx="66.36" cy="366.81" r="1.0" fill="#f04040" opacity="0.22"/>
<circle cx="67.04" cy="381.04" r="1.0" fill="#f04040" opacity="0.22"/>
<circle cx="71.55" cy="368.64" r="1.0" fill="#f04040" opacity="0.22"/>
<circle cx="71.45" cy="373.77" r="1.0" fill="#f04040" opacity="0.22"/>
<circle cx="63.02" cy="362.27" r="1.0" fill="#f04040" opacity="0.22"/>
<circle cx="67.32" cy="371.97" r="1.0" fill="#f04040" opacity="0.22"/>
<circle cx="74.19" cy="381.26" r="1.0" fill="#f04040" opacity="0.22"/>
<circle cx="67.56" cy="367.08" r="1.0" fill="#f04040" opacity="0.22"/>
<circle cx="72.98" cy="359.02" r="1.0" fill="#f04040" opacity="0.22"/>
<circle cx="58.05" cy="372.01" r="1.0" fill="#f04040" opacity="0.22"/>
<circle cx="67.69" cy="362.24" r="1.0" fill="#f04040" opacity="0.22"/>
<circle cx="67.96" cy="379.50" r="1.0" fill="#f04040" opacity="0.22"/>
<circle cx="63.14" cy="368.93" r="1.0" fill="#f04040" opacity="0.22"/>
<circle cx="60.30" cy="365.70" r="1.0" fill="#f04040" opacity="0.22"/>
<circle cx="74.48" cy="367.73" r="1.0" fill="#f04040" opacity="0.22"/>
<circle cx="74.26" cy="380.02" r="1.0" fill="#f04040" opacity="0.22"/>
<circle cx="67.32" cy="364.98" r="1.0" fill="#f04040" opacity="0.22"/>
<circle cx="74.64" cy="370.42" r="1.0" fill="#f04040" opacity="0.22"/>
<circle cx="63.89" cy="366.34" r="1.0" fill="#f04040" opacity="0.22"/>
<circle cx="74.70" cy="370.31" r="1.0" fill="#f04040" opacity="0.22"/>
<circle cx="61.44" cy="369.97" r="1.0" fill="#f04040" opacity="0.22"/>
<circle cx="58.32" cy="373.30" r="1.0" fill="#f04040" opacity="0.22"/>
<circle cx="64.43" cy="365.74" r="1.0" fill="#f04040" opacity="0.22"/>
<circle cx="70.85" cy="378.02" r="1.0" fill="#f04040" opacity="0.22"/>
<circle cx="56.25" cy="371.25" r="1.0" fill="#f04040" opacity="0.22"/>
<circle cx="61.20" cy="380.51" r="1.0" fill="#f04040" opacity="0.22"/>
<circle cx="70.86" cy="364.65" r="1.0" fill="#f04040" opacity="0.22"/>
<circle cx="61.09" cy="362.56" r="1.0" fill="#f04040" opacity="0.22"/>
<circle cx="74.79" cy="365.74" r="1.0" fill="#f04040" opacity="0.22"/>
<circle cx="67.55" cy="369.92" r="1.0" fill="#f04040" opacity="0.22"/>
<circle cx="68.25" cy="372.89" r="1.0" fill="#f04040" opacity="0.22"/>
<circle cx="70.13" cy="361.72" r="1.0" fill="#f04040" opacity="0.22"/>
<circle cx="70.45" cy="365.92" r="1.0" fill="#f04040" opacity="0.22"/>
<circle cx="66.14" cy="366.73" r="1.0" fill="#f04040" opacity="0.22"/>
<circle cx="61.64" cy="371.19" r="1.0" fill="#f04040" opacity="0.22"/>
<circle cx="64.82" cy="367.30" r="1.0" fill="#f04040" opacity="0.22"/>
<circle cx="70.16" cy="372.59" r="1.0" fill="#f04040" opacity="0.22"/>
<circle cx="56.69" cy="364.81" r="1.0" fill="#f04040" opacity="0.22"/>
<circle cx="64.66" cy="380.08" r="1.0" fill="#f04040" opacity="0.22"/>
<circle cx="72.87" cy="371.55" r="1.0" fill="#f04040" opacity="0.22"/>
<circle cx="56.28" cy="376.90" r="1.0" fill="#f04040" opacity="0.22"/>
<circle cx="64.13" cy="372.24" r="1.0" fill="#f04040" opacity="0.22"/>
<circle cx="69.46" cy="373.54" r="1.0" fill="#f04040" opacity="0.22"/>
<circle cx="65.16" cy="379.97" r="1.0" fill="#f04040" opacity="0.22"/>
<circle cx="63.32" cy="368.01" r="1.0" fill="#f04040" opacity="0.22"/>
<circle cx="72.19" cy="363.52" r="1.0" fill="#f04040" opacity="0.22"/>
<circle cx="61.63" cy="378.09" r="1.0" fill="#f04040" opacity="0.22"/>
<circle cx="57.26" cy="378.23" r="1.0" fill="#f04040" opacity="0.22"/>
<circle cx="69.20" cy="368.95" r="1.0" fill="#f04040" opacity="0.22"/>
<circle cx="61.44" cy="376.96" r="1.0" fill="#f04040" opacity="0.22"/>
<circle cx="73.30" cy="362.28" r="1.0" fill="#f04040" opacity="0.22"/>
<circle cx="65.09" cy="371.63" r="1.0" fill="#f04040" opacity="0.22"/>
<circle cx="65.46" cy="366.61" r="1.0" fill="#f04040" opacity="0.22"/>
<circle cx="58.92" cy="372.47" r="1.0" fill="#f04040" opacity="0.22"/>
<circle cx="71.42" cy="360.57" r="1.0" fill="#f04040" opacity="0.22"/>
<circle cx="60.37" cy="377.85" r="1.0" fill="#f04040" opacity="0.22"/>
<circle cx="71.04" cy="374.26" r="1.0" fill="#f04040" opacity="0.22"/>
<circle cx="56.49" cy="375.62" r="1.0" fill="#f04040" opacity="0.22"/>
<circle cx="74.60" cy="381.96" r="1.0" fill="#f04040" opacity="0.22"/>
<circle cx="69.32" cy="360.12" r="1.0" fill="#f04040" opacity="0.22"/>
<circle cx="72.00" cy="364.04" r="1.0" fill="#f04040" opacity="0.22"/>
<circle cx="68.27" cy="380.90" r="1.0" fill="#f04040" opacity="0.22"/>
<circle cx="69.54" cy="362.10" r="1.0" fill="#f04040" opacity="0.22"/>
<circle cx="61.56" cy="380.11" r="1.0" fill="#f04040" opacity="0.22"/>
<circle cx="58.84" cy="373.04" r="1.0" fill="#f04040" opacity="0.22"/>
<circle cx="63.86" cy="362.71" r="1.0" fill="#f04040" opacity="0.22"/>
<circle cx="67.83" cy="360.00" r="1.0" fill="#f04040" opacity="0.22"/>
<circle cx="58.06" cy="367.72" r="1.0" fill="#f04040" opacity="0.22"/>
<circle cx="57.37" cy="360.32" r="1.0" fill="#f04040" opacity="0.22"/>
<circle cx="66.93" cy="376.07" r="1.0" fill="#f04040" opacity="0.22"/>
<circle cx="72.69" cy="362.09" r="1.0" fill="#f04040" opacity="0.22"/>
<circle cx="64.20" cy="366.24" r="1.0" fill="#f04040" opacity="0.22"/>
<circle cx="67.40" cy="370.26" r="1.0" fill="#f04040" opacity="0.22"/>
<circle cx="73.83" cy="367.61" r="1.0" fill="#f04040" opacity="0.22"/>
<circle cx="57.06" cy="375.04" r="1.0" fill="#f04040" opacity="0.22"/>
<circle cx="58.87" cy="373.52" r="1.0" fill="#f04040" opacity="0.22"/>
<circle cx="65.61" cy="379.94" r="1.0" fill="#f04040" opacity="0.22"/>
<circle cx="66.54" cy="373.28" r="1.0" fill="#f04040" opacity="0.22"/>
<circle cx="61.00" cy="371.69" r="1.0" fill="#f04040" opacity="0.22"/>
<circle cx="60.83" cy="376.26" r="1.0" fill="#f04040" opacity="0.22"/>
<circle cx="65.82" cy="362.08" r="1.0" fill="#f04040" opacity="0.22"/>
<circle cx="60.45" cy="367.54" r="1.0" fill="#f04040" opacity="0.22"/>
<circle cx="70.00" cy="363.12" r="1.0" fill="#f04040" opacity="0.22"/>
<circle cx="69.55" cy="374.07" r="1.0" fill="#f04040" opacity="0.22"/>
<circle cx="57.62" cy="374.36" r="1.0" fill="#f04040" opacity="0.22"/>
<circle cx="57.73" cy="361.87" r="1.0" fill="#f04040" opacity="0.22"/>
<circle cx="67.29" cy="364.49" r="1.0" fill="#f04040" opacity="0.22"/>
<circle cx="72.66" cy="370.05" r="1.0" fill="#f04040" opacity="0.22"/>
<circle cx="62.14" cy="377.32" r="1.0" fill="#f04040" opacity="0.22"/>
<circle cx="56.56" cy="375.68" r="1.0" fill="#f04040" opacity="0.22"/>
<circle cx="57.02" cy="362.47" r="1.0" fill="#f04040" opacity="0.22"/>
<circle cx="74.09" cy="374.67" r="1.0" fill="#f04040" opacity="0.22"/>
<circle cx="60.24" cy="361.67" r="1.0" fill="#f04040" opacity="0.22"/>
<circle cx="74.48" cy="374.30" r="1.0" fill="#f04040" opacity="0.22"/>
<circle cx="71.59" cy="362.21" r="1.0" fill="#f04040" opacity="0.22"/>
<circle cx="67.87" cy="367.15" r="1.0" fill="#f04040" opacity="0.22"/>
<circle cx="60.47" cy="366.67" r="1.0" fill="#f04040" opacity="0.22"/>
<circle cx="67.66" cy="367.02" r="1.0" fill="#f04040" opacity="0.22"/>
<circle cx="63.33" cy="362.14" r="1.0" fill="#f04040" opacity="0.22"/>
<circle cx="71.79" cy="373.90" r="1.0" fill="#f04040" opacity="0.22"/>
<circle cx="71.29" cy="368.97" r="1.0" fill="#f04040" opacity="0.22"/>
<circle cx="72.18" cy="370.90" r="1.0" fill="#f04040" opacity="0.22"/>
<circle cx="67.26" cy="372.18" r="1.0" fill="#f04040" opacity="0.22"/>
<circle cx="70.06" cy="368.10" r="1.0" fill="#f04040" opacity="0.22"/>
<circle cx="57.84" cy="359.76" r="1.0" fill="#f04040" opacity="0.22"/>
<circle cx="59.85" cy="359.91" r="1.0" fill="#f04040" opacity="0.22"/>
<circle cx="70.45" cy="369.70" r="1.0" fill="#f04040" opacity="0.22"/>
<circle cx="68.64" cy="362.01" r="1.0" fill="#f04040" opacity="0.22"/>
<circle cx="64.58" cy="376.24" r="1.0" fill="#f04040" opacity="0.22"/>
<circle cx="66.67" cy="368.86" r="1.0" fill="#f04040" opacity="0.22"/>
<circle cx="64.52" cy="363.60" r="1.0" fill="#f04040" opacity="0.22"/>
<circle cx="60.17" cy="364.54" r="1.0" fill="#f04040" opacity="0.22"/>
<circle cx="63.24" cy="368.17" r="1.0" fill="#f04040" opacity="0.22"/>
<circle cx="70.32" cy="364.43" r="1.0" fill="#f04040" opacity="0.22"/>
<circle cx="61.56" cy="366.44" r="1.0" fill="#f04040" opacity="0.22"/>
<circle cx="60.26" cy="366.59" r="1.0" fill="#f04040" opacity="0.22"/>
<circle cx="61.29" cy="369.71" r="1.0" fill="#f04040" opacity="0.22"/>
<circle cx="58.45" cy="376.79" r="1.0" fill="#f04040" opacity="0.22"/>
<circle cx="63.17" cy="377.01" r="1.0" fill="#f04040" opacity="0.22"/>
<circle cx="67.63" cy="372.78" r="1.0" fill="#f04040" opacity="0.22"/>
<circle cx="64.60" cy="377.13" r="1.0" fill="#f04040" opacity="0.22"/>
<circle cx="59.65" cy="372.70" r="1.0" fill="#f04040" opacity="0.22"/>
<circle cx="62.08" cy="372.79" r="1.0" fill="#f04040" opacity="0.22"/>
<circle cx="68.21" cy="364.61" r="1.0" fill="#f04040" opacity="0.22"/>
<circle cx="60.81" cy="362.40" r="1.0" fill="#f04040" opacity="0.22"/>
<circle cx="61.23" cy="363.25" r="1.0" fill="#f04040" opacity="0.22"/>
<circle cx="63.61" cy="377.58" r="1.0" fill="#f04040" opacity="0.22"/>
<circle cx="63.10" cy="366.99" r="1.0" fill="#f04040" opacity="0.22"/>
<circle cx="64.55" cy="366.53" r="1.0" fill="#f04040" opacity="0.22"/>
<circle cx="68.25" cy="373.49" r="1.0" fill="#f04040" opacity="0.22"/>
<circle cx="60.29" cy="365.85" r="1.0" fill="#f04040" opacity="0.22"/>
<circle cx="67.41" cy="377.05" r="1.0" fill="#f04040" opacity="0.22"/>
<circle cx="67.04" cy="368.89" r="1.0" fill="#f04040" opacity="0.22"/>
<circle cx="71.66" cy="362.10" r="1.0" fill="#f04040" opacity="0.22"/>
<circle cx="58.85" cy="374.47" r="1.0" fill="#f04040" opacity="0.22"/>
<circle cx="63.74" cy="362.72" r="1.0" fill="#f04040" opacity="0.22"/>
<circle cx="65.68" cy="377.83" r="1.0" fill="#f04040" opacity="0.22"/>
<circle cx="65.27" cy="367.60" r="1.0" fill="#f04040" opacity="0.22"/>
<circle cx="59.31" cy="363.14" r="1.0" fill="#f04040" opacity="0.22"/>
<circle cx="70.58" cy="369.86" r="1.0" fill="#f04040" opacity="0.22"/>
<circle cx="71.10" cy="362.86" r="1.0" fill="#f04040" opacity="0.22"/>
<circle cx="61.41" cy="362.81" r="1.0" fill="#f04040" opacity="0.22"/>
<circle cx="63.56" cy="362.96" r="1.0" fill="#f04040" opacity="0.22"/>
<circle cx="61.58" cy="368.52" r="1.0" fill="#f04040" opacity="0.22"/>
<circle cx="62.28" cy="362.82" r="1.0" fill="#f04040" opacity="0.22"/>
<circle cx="58.53" cy="377.55" r="1.0" fill="#f04040" opacity="0.22"/>
<circle cx="60.51" cy="370.14" r="1.0" fill="#f04040" opacity="0.22"/>
<circle cx="63.63" cy="370.50" r="1.0" fill="#f04040" opacity="0.22"/>
<circle cx="59.18" cy="367.02" r="1.0" fill="#f04040" opacity="0.22"/>
<circle cx="59.51" cy="370.67" r="1.0" fill="#f04040" opacity="0.22"/>
<circle cx="70.90" cy="371.57" r="1.0" fill="#f04040" opacity="0.22"/>
<circle cx="69.99" cy="365.43" r="1.0" fill="#f04040" opacity="0.22"/>
<circle cx="58.24" cy="370.63" r="1.0" fill="#f04040" opacity="0.22"/>
<circle cx="64.81" cy="371.14" r="1.0" fill="#f04040" opacity="0.22"/>
<circle cx="63.27" cy="372.00" r="1.0" fill="#f04040" opacity="0.22"/>
<circle cx="68.16" cy="376.61" r="1.0" fill="#f04040" opacity="0.22"/>
<circle cx="62.31" cy="369.18" r="1.0" fill="#f04040" opacity="0.22"/>
<circle cx="69.57" cy="365.58" r="1.0" fill="#f04040" opacity="0.22"/>
<circle cx="59.62" cy="366.99" r="1.0" fill="#f04040" opacity="0.22"/>
<circle cx="59.23" cy="374.36" r="1.0" fill="#f04040" opacity="0.22"/>
<circle cx="69.47" cy="367.01" r="1.0" fill="#f04040" opacity="0.22"/>
<circle cx="59.82" cy="363.31" r="1.0" fill="#f04040" opacity="0.22"/>
<circle cx="61.43" cy="363.35" r="1.0" fill="#f04040" opacity="0.22"/>
<circle cx="64.00" cy="371.23" r="1.0" fill="#f04040" opacity="0.22"/>
<circle cx="61.44" cy="362.98" r="1.0" fill="#f04040" opacity="0.22"/>
<circle cx="67.81" cy="362.77" r="1.0" fill="#f04040" opacity="0.22"/>
<circle cx="60.80" cy="366.58" r="1.0" fill="#f04040" opacity="0.22"/>
<circle cx="63.23" cy="363.58" r="1.0" fill="#f04040" opacity="0.22"/>
<circle cx="63.89" cy="367.02" r="1.0" fill="#f04040" opacity="0.22"/>
<circle cx="68.53" cy="370.90" r="1.0" fill="#f04040" opacity="0.22"/>
<circle cx="70.55" cy="372.47" r="1.0" fill="#f04040" opacity="0.22"/>
<circle cx="68.64" cy="371.20" r="1.0" fill="#f04040" opacity="0.22"/>
<circle cx="64.19" cy="375.07" r="1.0" fill="#f04040" opacity="0.22"/>
<circle cx="67.18" cy="377.28" r="1.0" fill="#f04040" opacity="0.22"/>
<circle cx="68.19" cy="373.22" r="1.0" fill="#f04040" opacity="0.22"/>
<circle cx="61.75" cy="374.99" r="1.0" fill="#f04040" opacity="0.22"/>
<circle cx="63.35" cy="364.08" r="1.0" fill="#f04040" opacity="0.22"/>
<circle cx="58.92" cy="364.71" r="1.0" fill="#f04040" opacity="0.22"/>
<circle cx="61.68" cy="372.81" r="1.0" fill="#f04040" opacity="0.22"/>
<circle cx="62.00" cy="363.02" r="1.0" fill="#f04040" opacity="0.22"/>
<circle cx="68.69" cy="370.92" r="1.0" fill="#f04040" opacity="0.22"/>
<circle cx="58.38" cy="362.81" r="1.0" fill="#f04040" opacity="0.22"/>
<circle cx="59.82" cy="367.71" r="1.0" fill="#f04040" opacity="0.22"/>
<circle cx="70.04" cy="377.19" r="1.0" fill="#f04040" opacity="0.22"/>
<circle cx="66.57" cy="365.70" r="1.0" fill="#f04040" opacity="0.22"/>
<circle cx="64.00" cy="367.80" r="1.0" fill="#f04040" opacity="0.22"/>
<circle cx="62.63" cy="362.20" r="1.0" fill="#f04040" opacity="0.22"/>
<circle cx="66.18" cy="375.23" r="1.0" fill="#f04040" opacity="0.22"/>
<circle cx="68.18" cy="363.52" r="1.0" fill="#f04040" opacity="0.22"/>
<circle cx="65.42" cy="364.74" r="1.0" fill="#f04040" opacity="0.22"/>
<circle cx="67.93" cy="369.14" r="1.0" fill="#f04040" opacity="0.22"/>
<circle cx="71.14" cy="374.72" r="1.0" fill="#f04040" opacity="0.22"/>
<circle cx="59.65" cy="367.07" r="1.0" fill="#f04040" opacity="0.22"/>
<circle cx="70.81" cy="369.38" r="1.0" fill="#f04040" opacity="0.22"/>
<circle cx="64.08" cy="369.06" r="1.0" fill="#f04040" opacity="0.22"/>
<circle cx="68.75" cy="376.98" r="1.0" fill="#f04040" opacity="0.22"/>
<circle cx="65.46" cy="377.51" r="1.0" fill="#f04040" opacity="0.22"/>
<circle cx="66.34" cy="363.66" r="1.0" fill="#f04040" opacity="0.22"/>
<circle cx="69.40" cy="368.71" r="1.0" fill="#f04040" opacity="0.22"/>
<circle cx="58.73" cy="377.65" r="1.0" fill="#f04040" opacity="0.22"/>
<circle cx="58.46" cy="371.23" r="1.0" fill="#f04040" opacity="0.22"/>
<circle cx="64.75" cy="376.11" r="1.0" fill="#f04040" opacity="0.22"/>
<circle cx="63.50" cy="365.45" r="1.0" fill="#f04040" opacity="0.22"/>
<circle cx="61.88" cy="365.22" r="1.0" fill="#f04040" opacity="0.22"/>
<circle cx="65.87" cy="367.71" r="1.0" fill="#f04040" opacity="0.22"/>
<circle cx="68.52" cy="365.86" r="1.0" fill="#f04040" opacity="0.22"/>
<circle cx="51.60" cy="377.44" r="1.0" fill="#ee1c1c" opacity="0.4"/>
<circle cx="56.31" cy="372.13" r="1.0" fill="#ee1c1c" opacity="0.4"/>
<circle cx="54.13" cy="366.20" r="1.0" fill="#ee1c1c" opacity="0.4"/>
<circle cx="51.60" cy="375.61" r="1.0" fill="#ee1c1c" opacity="0.4"/>
<circle cx="53.64" cy="366.93" r="1.0" fill="#ee1c1c" opacity="0.4"/>
<circle cx="53.69" cy="374.43" r="1.0" fill="#ee1c1c" opacity="0.4"/>
<circle cx="55.09" cy="379.51" r="1.0" fill="#ee1c1c" opacity="0.4"/>
<circle cx="53.58" cy="370.96" r="1.0" fill="#ee1c1c" opacity="0.4"/>
<circle cx="53.02" cy="368.00" r="1.0" fill="#ee1c1c" opacity="0.4"/>
<circle cx="50.87" cy="361.67" r="1.0" fill="#ee1c1c" opacity="0.4"/>
<circle cx="49.93" cy="365.35" r="1.0" fill="#ee1c1c" opacity="0.4"/>
<circle cx="52.30" cy="374.15" r="1.0" fill="#ee1c1c" opacity="0.4"/>
<circle cx="49.85" cy="372.86" r="1.0" fill="#ee1c1c" opacity="0.4"/>
<circle cx="53.29" cy="379.42" r="1.0" fill="#ee1c1c" opacity="0.4"/>
<circle cx="52.31" cy="374.89" r="1.0" fill="#ee1c1c" opacity="0.4"/>
<circle cx="51.75" cy="379.41" r="1.0" fill="#ee1c1c" opacity="0.4"/>
<circle cx="49.42" cy="375.02" r="1.0" fill="#ee1c1c" opacity="0.4"/>
<circle cx="47.92" cy="384.44" r="1.0" fill="#ee1c1c" opacity="0.4"/>
<circle cx="54.32" cy="359.98" r="1.0" fill="#ee1c1c" opacity="0.4"/>
<circle cx="51.45" cy="364.44" r="1.0" fill="#ee1c1c" opacity="0.4"/>
<circle cx="49.01" cy="370.84" r="1.0" fill="#ee1c1c" opacity="0.4"/>
<circle cx="50.75" cy="380.12" r="1.0" fill="#ee1c1c" opacity="0.4"/>
<circle cx="51.46" cy="366.36" r="1.0" fill="#ee1c1c" opacity="0.4"/>
<circle cx="52.33" cy="376.06" r="1.0" fill="#ee1c1c" opacity="0.4"/>
<circle cx="54.10" cy="376.68" r="1.0" fill="#ee1c1c" opacity="0.4"/>
<circle cx="49.54" cy="368.19" r="1.0" fill="#ee1c1c" opacity="0.4"/>
<circle cx="52.12" cy="368.07" r="1.0" fill="#ee1c1c" opacity="0.4"/>
<circle cx="53.95" cy="371.26" r="1.0" fill="#ee1c1c" opacity="0.4"/>
<circle cx="52.34" cy="371.04" r="1.0" fill="#ee1c1c" opacity="0.4"/>
<circle cx="52.56" cy="363.82" r="1.0" fill="#ee1c1c" opacity="0.4"/>
<circle cx="56.61" cy="369.79" r="1.0" fill="#ee1c1c" opacity="0.4"/>
<circle cx="51.04" cy="362.03" r="1.0" fill="#ee1c1c" opacity="0.4"/>
<circle cx="52.30" cy="364.59" r="1.0" fill="#ee1c1c" opacity="0.4"/>
<circle cx="53.12" cy="381.08" r="1.0" fill="#ee1c1c" opacity="0.4"/>
<circle cx="53.67" cy="370.58" r="1.0" fill="#ee1c1c" opacity="0.4"/>
<circle cx="54.97" cy="372.21" r="1.0" fill="#ee1c1c" opacity="0.4"/>
<circle cx="52.38" cy="373.81" r="1.0" fill="#ee1c1c" opacity="0.4"/>
<circle cx="51.53" cy="376.09" r="1.0" fill="#ee1c1c" opacity="0.4"/>
<circle cx="50.05" cy="362.07" r="1.0" fill="#ee1c1c" opacity="0.4"/>
<circle cx="54.83" cy="368.71" r="1.0" fill="#ee1c1c" opacity="0.4"/>
<circle cx="51.77" cy="375.54" r="1.0" fill="#ee1c1c" opacity="0.4"/>
<circle cx="51.55" cy="365.85" r="1.0" fill="#ee1c1c" opacity="0.4"/>
<circle cx="52.08" cy="367.36" r="1.0" fill="#ee1c1c" opacity="0.4"/>
<circle cx="53.55" cy="370.56" r="1.0" fill="#ee1c1c" opacity="0.4"/>
<circle cx="51.96" cy="378.32" r="1.0" fill="#ee1c1c" opacity="0.4"/>
<circle cx="49.43" cy="363.87" r="1.0" fill="#ee1c1c" opacity="0.4"/>
<circle cx="53.90" cy="381.49" r="1.0" fill="#ee1c1c" opacity="0.4"/>
<circle cx="52.65" cy="368.89" r="1.0" fill="#ee1c1c" opacity="0.4"/>
<circle cx="54.89" cy="376.72" r="1.0" fill="#ee1c1c" opacity="0.4"/>
<circle cx="54.48" cy="361.81" r="1.0" fill="#ee1c1c" opacity="0.4"/>
<circle cx="52.21" cy="366.81" r="1.0" fill="#ee1c1c" opacity="0.4"/>
<circle cx="50.31" cy="377.10" r="1.0" fill="#ee1c1c" opacity="0.4"/>
<circle cx="53.90" cy="370.39" r="1.0" fill="#ee1c1c" opacity="0.4"/>
<circle cx="51.98" cy="382.20" r="1.0" fill="#ee1c1c" opacity="0.4"/>
<circle cx="53.76" cy="372.63" r="1.0" fill="#ee1c1c" opacity="0.4"/>
<circle cx="53.47" cy="374.11" r="1.0" fill="#ee1c1c" opacity="0.4"/>
<circle cx="49.99" cy="370.11" r="1.0" fill="#ee1c1c" opacity="0.4"/>
<circle cx="53.02" cy="377.36" r="1.0" fill="#ee1c1c" opacity="0.4"/>
<circle cx="50.11" cy="368.26" r="1.0" fill="#ee1c1c" opacity="0.4"/>
<circle cx="51.31" cy="363.73" r="1.0" fill="#ee1c1c" opacity="0.4"/>
<circle cx="54.63" cy="376.32" r="1.0" fill="#ee1c1c" opacity="0.4"/>
<circle cx="55.05" cy="359.43" r="1.0" fill="#ee1c1c" opacity="0.4"/>
<circle cx="50.87" cy="385.02" r="1.0" fill="#ee1c1c" opacity="0.4"/>
<circle cx="49.70" cy="361.75" r="1.0" fill="#ee1c1c" opacity="0.4"/>
<circle cx="52.91" cy="383.46" r="1.0" fill="#ee1c1c" opacity="0.4"/>
<circle cx="53.73" cy="367.27" r="1.0" fill="#ee1c1c" opacity="0.4"/>
<circle cx="53.56" cy="376.02" r="1.0" fill="#ee1c1c" opacity="0.4"/>
<circle cx="52.99" cy="375.89" r="1.0" fill="#ee1c1c" opacity="0.4"/>
<circle cx="54.10" cy="380.84" r="1.0" fill="#ee1c1c" opacity="0.4"/>
<circle cx="55.16" cy="380.21" r="1.0" fill="#ee1c1c" opacity="0.4"/>
<circle cx="52.18" cy="361.58" r="1.0" fill="#ee1c1c" opacity="0.4"/>
<circle cx="53.55" cy="363.81" r="1.0" fill="#ee1c1c" opacity="0.4"/>
<circle cx="56.96" cy="366.02" r="1.0" fill="#ee1c1c" opacity="0.4"/>
<circle cx="48.84" cy="361.59" r="1.0" fill="#ee1c1c" opacity="0.4"/>
<circle cx="53.24" cy="375.33" r="1.0" fill="#ee1c1c" opacity="0.4"/>
<circle cx="53.75" cy="375.24" r="1.0" fill="#ee1c1c" opacity="0.4"/>
<circle cx="50.94" cy="378.61" r="1.0" fill="#ee1c1c" opacity="0.4"/>
<circle cx="51.11" cy="363.79" r="1.0" fill="#ee1c1c" opacity="0.4"/>
<circle cx="54.26" cy="376.82" r="1.0" fill="#ee1c1c" opacity="0.4"/>
<circle cx="50.63" cy="371.80" r="1.0" fill="#ee1c1c" opacity="0.4"/>
<circle cx="54.49" cy="379.40" r="1.0" fill="#ee1c1c" opacity="0.4"/>
<circle cx="50.36" cy="380.50" r="1.0" fill="#ee1c1c" opacity="0.4"/>
<circle cx="47.37" cy="373.97" r="1.0" fill="#ee1c1c" opacity="0.4"/>
<circle cx="53.23" cy="372.65" r="1.0" fill="#ee1c1c" opacity="0.4"/>
<circle cx="52.70" cy="363.13" r="1.0" fill="#ee1c1c" opacity="0.4"/>
<circle cx="52.22" cy="376.61" r="1.0" fill="#ee1c1c" opacity="0.4"/>
<circle cx="50.65" cy="374.30" r="1.0" fill="#ee1c1c" opacity="0.4"/>
<circle cx="52.14" cy="358.99" r="1.0" fill="#ee1c1c" opacity="0.4"/>
<circle cx="51.28" cy="377.14" r="1.0" fill="#ee1c1c" opacity="0.4"/>
<circle cx="49.41" cy="373.58" r="1.0" fill="#ee1c1c" opacity="0.4"/>
<circle cx="53.14" cy="365.24" r="1.0" fill="#ee1c1c" opacity="0.4"/>
<circle cx="51.98" cy="379.15" r="1.0" fill="#ee1c1c" opacity="0.4"/>
<circle cx="53.90" cy="367.08" r="1.0" fill="#ee1c1c" opacity="0.4"/>
<circle cx="54.49" cy="375.62" r="1.0" fill="#ee1c1c" opacity="0.4"/>
<circle cx="52.73" cy="383.10" r="1.0" fill="#ee1c1c" opacity="0.4"/>
<circle cx="53.92" cy="375.80" r="1.0" fill="#ee1c1c" opacity="0.4"/>
<circle cx="54.38" cy="377.70" r="1.0" fill="#ee1c1c" opacity="0.4"/>
<circle cx="54.99" cy="372.72" r="1.0" fill="#ee1c1c" opacity="0.4"/>
<circle cx="48.98" cy="383.43" r="1.0" fill="#ee1c1c" opacity="0.4"/>
<circle cx="54.07" cy="376.82" r="1.0" fill="#ee1c1c" opacity="0.4"/>
<circle cx="52.58" cy="372.89" r="1.0" fill="#ee1c1c" opacity="0.4"/>
<circle cx="52.69" cy="367.38" r="1.0" fill="#ee1c1c" opacity="0.4"/>
<circle cx="54.01" cy="374.01" r="1.0" fill="#ee1c1c" opacity="0.4"/>
<circle cx="50.60" cy="375.16" r="1.0" fill="#ee1c1c" opacity="0.4"/>
<circle cx="51.84" cy="373.27" r="1.0" fill="#ee1c1c" opacity="0.4"/>
<circle cx="53.56" cy="390.75" r="1.0" fill="#ee1c1c" opacity="0.4"/>
<circle cx="50.39" cy="376.09" r="1.0" fill="#ee1c1c" opacity="0.4"/>
<circle cx="53.89" cy="376.19" r="1.0" fill="#ee1c1c" opacity="0.4"/>
<circle cx="55.43" cy="370.72" r="1.0" fill="#ee1c1c" opacity="0.4"/>
<circle cx="51.84" cy="373.39" r="1.0" fill="#ee1c1c" opacity="0.4"/>
<circle cx="49.79" cy="380.54" r="1.0" fill="#ee1c1c" opacity="0.4"/>
<circle cx="50.04" cy="376.98" r="1.0" fill="#ee1c1c" opacity="0.4"/>
<circle cx="54.85" cy="368.11" r="1.0" fill="#ee1c1c" opacity="0.4"/>
<circle cx="52.14" cy="372.17" r="1.0" fill="#ee1c1c" opacity="0.4"/>
<circle cx="55.89" cy="375.16" r="1.0" fill="#ee1c1c" opacity="0.4"/>
<circle cx="49.02" cy="380.36" r="1.0" fill="#ee1c1c" opacity="0.4"/>
<circle cx="54.53" cy="360.66" r="1.0" fill="#ee1c1c" opacity="0.4"/>
<circle cx="47.11" cy="390.26" r="1.0" fill="#ee1c1c" opacity="0.4"/>
<circle cx="52.67" cy="359.80" r="1.0" fill="#ee1c1c" opacity="0.4"/>
<circle cx="54.58" cy="382.59" r="1.0" fill="#ee1c1c" opacity="0.4"/>
<circle cx="47.78" cy="381.67" r="1.0" fill="#ee1c1c" opacity="0.4"/>
<circle cx="53.90" cy="373.33" r="1.0" fill="#ee1c1c" opacity="0.4"/>
<circle cx="51.10" cy="375.95" r="1.0" fill="#ee1c1c" opacity="0.4"/>
<circle cx="50.89" cy="374.51" r="1.0" fill="#ee1c1c" opacity="0.4"/>
<circle cx="51.99" cy="370.61" r="1.0" fill="#ee1c1c" opacity="0.4"/>
<circle cx="53.58" cy="379.78" r="1.0" fill="#ee1c1c" opacity="0.4"/>
<circle cx="54.25" cy="376.35" r="1.0" fill="#ee1c1c" opacity="0.4"/>
<circle cx="55.83" cy="365.37" r="1.0" fill="#ee1c1c" opacity="0.4"/>
<circle cx="52.63" cy="374.69" r="1.0" fill="#ee1c1c" opacity="0.4"/>
<circle cx="54.90" cy="358.92" r="1.0" fill="#ee1c1c" opacity="0.4"/>
<circle cx="51.62" cy="371.45" r="1.0" fill="#ee1c1c" opacity="0.4"/>
<circle cx="52.88" cy="388.06" r="1.0" fill="#ee1c1c" opacity="0.4"/>
<circle cx="52.96" cy="372.88" r="1.0" fill="#ee1c1c" opacity="0.4"/>
<circle cx="53.34" cy="379.81" r="1.0" fill="#ee1c1c" opacity="0.4"/>
<circle cx="52.15" cy="384.32" r="1.0" fill="#ee1c1c" opacity="0.4"/>
<circle cx="50.09" cy="381.54" r="1.0" fill="#ee1c1c" opacity="0.4"/>
<circle cx="53.90" cy="379.91" r="1.0" fill="#ee1c1c" opacity="0.4"/>
<circle cx="55.57" cy="371.92" r="1.0" fill="#ee1c1c" opacity="0.4"/>
<circle cx="53.32" cy="375.19" r="1.0" fill="#ee1c1c" opacity="0.4"/>
<circle cx="51.30" cy="368.56" r="1.0" fill="#ee1c1c" opacity="0.4"/>
<circle cx="50.95" cy="378.94" r="1.0" fill="#ee1c1c" opacity="0.4"/>
<circle cx="47.97" cy="365.20" r="1.0" fill="#ee1c1c" opacity="0.4"/>
<circle cx="52.65" cy="381.92" r="1.0" fill="#ee1c1c" opacity="0.4"/>
<circle cx="52.29" cy="381.63" r="1.0" fill="#ee1c1c" opacity="0.4"/>
<circle cx="52.38" cy="370.04" r="1.0" fill="#ee1c1c" opacity="0.4"/>
<circle cx="49.39" cy="374.70" r="1.0" fill="#ee1c1c" opacity="0.4"/>
<circle cx="55.93" cy="374.07" r="1.0" fill="#ee1c1c" opacity="0.4"/>
<circle cx="50.43" cy="377.26" r="1.0" fill="#ee1c1c" opacity="0.4"/>
<circle cx="49.77" cy="366.12" r="1.0" fill="#ee1c1c" opacity="0.4"/>
<circle cx="54.71" cy="376.14" r="1.0" fill="#ee1c1c" opacity="0.4"/>
<circle cx="54.42" cy="375.03" r="1.0" fill="#ee1c1c" opacity="0.4"/>
<circle cx="52.26" cy="374.61" r="1.0" fill="#ee1c1c" opacity="0.4"/>
<circle cx="51.85" cy="380.29" r="1.0" fill="#ee1c1c" opacity="0.4"/>
<circle cx="49.94" cy="361.28" r="1.0" fill="#ee1c1c" opacity="0.4"/>
<circle cx="50.81" cy="379.31" r="1.0" fill="#ee1c1c" opacity="0.4"/>
<circle cx="51.42" cy="358.61" r="1.0" fill="#ee1c1c" opacity="0.4"/>
<circle cx="58.15" cy="367.48" r="1.0" fill="#ee1c1c" opacity="0.4"/>
<circle cx="52.11" cy="377.22" r="1.0" fill="#ee1c1c" opacity="0.4"/>
<circle cx="53.23" cy="372.42" r="1.0" fill="#ee1c1c" opacity="0.4"/>
<circle cx="49.40" cy="376.86" r="1.0" fill="#ee1c1c" opacity="0.4"/>
<circle cx="50.55" cy="372.34" r="1.0" fill="#ee1c1c" opacity="0.4"/>
<circle cx="54.00" cy="371.00" r="1.0" fill="#ee1c1c" opacity="0.4"/>
<circle cx="48.93" cy="369.59" r="1.0" fill="#ee1c1c" opacity="0.4"/>
<circle cx="53.70" cy="378.11" r="1.0" fill="#ee1c1c" opacity="0.4"/>
<circle cx="49.92" cy="373.80" r="1.0" fill="#ee1c1c" opacity="0.4"/>
<circle cx="53.08" cy="380.40" r="1.0" fill="#ee1c1c" opacity="0.4"/>
<circle cx="53.30" cy="374.52" r="1.0" fill="#ee1c1c" opacity="0.4"/>
<circle cx="51.89" cy="376.53" r="1.0" fill="#ee1c1c" opacity="0.4"/>
<circle cx="54.03" cy="372.47" r="1.0" fill="#ee1c1c" opacity="0.4"/>
<circle cx="51.94" cy="384.73" r="1.0" fill="#ee1c1c" opacity="0.4"/>
<circle cx="52.41" cy="368.44" r="1.0" fill="#ee1c1c" opacity="0.4"/>
<circle cx="53.84" cy="365.49" r="1.0" fill="#ee1c1c" opacity="0.4"/>
<circle cx="50.35" cy="379.39" r="1.0" fill="#ee1c1c" opacity="0.4"/>
<circle cx="52.54" cy="378.58" r="1.0" fill="#ee1c1c" opacity="0.4"/>
<circle cx="54.03" cy="368.61" r="1.0" fill="#ee1c1c" opacity="0.4"/>
<circle cx="53.50" cy="371.06" r="1.0" fill="#ee1c1c" opacity="0.4"/>
<circle cx="52.92" cy="375.11" r="1.0" fill="#ee1c1c" opacity="0.4"/>
<circle cx="52.33" cy="365.17" r="1.0" fill="#ee1c1c" opacity="0.4"/>
<circle cx="53.09" cy="373.62" r="1.0" fill="#ee1c1c" opacity="0.4"/>
<circle cx="53.55" cy="366.72" r="1.0" fill="#ee1c1c" opacity="0.4"/>
<circle cx="50.30" cy="389.38" r="0.8" fill="#ee1c1c" opacity="0.25"/>
<circle cx="49.36" cy="389.21" r="0.8" fill="#ee1c1c" opacity="0.25"/>
<circle cx="49.63" cy="385.94" r="0.8" fill="#ee1c1c" opacity="0.25"/>
<circle cx="49.19" cy="388.63" r="0.8" fill="#ee1c1c" opacity="0.25"/>
<circle cx="50.69" cy="389.54" r="0.8" fill="#ee1c1c" opacity="0.25"/>
<circle cx="52.10" cy="391.78" r="0.8" fill="#ee1c1c" opacity="0.25"/>
<circle cx="50.47" cy="390.61" r="0.8" fill="#ee1c1c" opacity="0.25"/>
<circle cx="47.90" cy="391.07" r="0.8" fill="#ee1c1c" opacity="0.25"/>
<circle cx="51.87" cy="386.99" r="0.8" fill="#ee1c1c" opacity="0.25"/>
<circle cx="51.95" cy="391.82" r="0.8" fill="#ee1c1c" opacity="0.25"/>
<circle cx="50.42" cy="388.74" r="0.8" fill="#ee1c1c" opacity="0.25"/>
<circle cx="50.03" cy="387.68" r="0.8" fill="#ee1c1c" opacity="0.25"/>
<circle cx="49.98" cy="390.16" r="0.8" fill="#ee1c1c" opacity="0.25"/>
<circle cx="50.09" cy="386.39" r="0.8" fill="#ee1c1c" opacity="0.25"/>
<circle cx="51.37" cy="388.06" r="0.8" fill="#ee1c1c" opacity="0.25"/>
<circle cx="50.59" cy="391.74" r="0.8" fill="#ee1c1c" opacity="0.25"/>
<circle cx="49.70" cy="397.24" r="0.8" fill="#ee1c1c" opacity="0.25"/>
<circle cx="50.18" cy="391.24" r="0.8" fill="#ee1c1c" opacity="0.25"/>
<circle cx="49.63" cy="390.97" r="0.8" fill="#ee1c1c" opacity="0.25"/>
<circle cx="48.14" cy="391.89" r="0.8" fill="#ee1c1c" opacity="0.25"/>
</g>
<g filter="url(#blur1)"><rect x="49.5" y="363" width="6.5" height="21" fill="#ee1a1a" opacity="0.75"/></g>
<g filter="url(#blur3)">
<circle cx="150.66" cy="365.15" r="1.0" fill="#777" opacity="0.25"/>
<circle cx="139.91" cy="370.84" r="1.0" fill="#777" opacity="0.25"/>
<circle cx="151.43" cy="370.05" r="1.0" fill="#777" opacity="0.25"/>
<circle cx="149.04" cy="378.42" r="1.0" fill="#777" opacity="0.25"/>
<circle cx="140.05" cy="366.82" r="1.0" fill="#777" opacity="0.25"/>
<circle cx="147.37" cy="371.65" r="1.0" fill="#777" opacity="0.25"/>
<circle cx="155.90" cy="372.00" r="1.0" fill="#777" opacity="0.25"/>
<circle cx="150.91" cy="369.55" r="1.0" fill="#777" opacity="0.25"/>
<circle cx="153.47" cy="377.05" r="1.0" fill="#777" opacity="0.25"/>
<circle cx="143.17" cy="363.94" r="1.0" fill="#777" opacity="0.25"/>
<circle cx="142.44" cy="368.44" r="1.0" fill="#777" opacity="0.25"/>
<circle cx="155.68" cy="366.76" r="1.0" fill="#777" opacity="0.25"/>
<circle cx="150.22" cy="373.53" r="1.0" fill="#777" opacity="0.25"/>
<circle cx="157.08" cy="364.10" r="1.0" fill="#777" opacity="0.25"/>
<circle cx="153.17" cy="368.06" r="1.0" fill="#777" opacity="0.25"/>
<circle cx="139.16" cy="373.38" r="1.0" fill="#777" opacity="0.25"/>
<circle cx="154.73" cy="372.48" r="1.0" fill="#777" opacity="0.25"/>
<circle cx="138.05" cy="379.50" r="1.0" fill="#777" opacity="0.25"/>
<circle cx="145.07" cy="373.45" r="1.0" fill="#777" opacity="0.25"/>
<circle cx="152.20" cy="366.69" r="1.0" fill="#777" opacity="0.25"/>
<circle cx="145.58" cy="367.93" r="1.0" fill="#777" opacity="0.25"/>
<circle cx="139.01" cy="363.16" r="1.0" fill="#777" opacity="0.25"/>
<circle cx="152.05" cy="369.39" r="1.0" fill="#777" opacity="0.25"/>
<circle cx="155.26" cy="363.13" r="1.0" fill="#777" opacity="0.25"/>
<circle cx="143.33" cy="365.24" r="1.0" fill="#777" opacity="0.25"/>
<circle cx="156.81" cy="376.23" r="1.0" fill="#777" opacity="0.25"/>
<circle cx="155.82" cy="371.11" r="1.0" fill="#777" opacity="0.25"/>
<circle cx="139.19" cy="369.49" r="1.0" fill="#777" opacity="0.25"/>
<circle cx="141.75" cy="362.48" r="1.0" fill="#777" opacity="0.25"/>
<circle cx="148.86" cy="367.22" r="1.0" fill="#777" opacity="0.25"/>
<circle cx="139.26" cy="371.21" r="1.0" fill="#777" opacity="0.25"/>
<circle cx="156.60" cy="379.03" r="1.0" fill="#777" opacity="0.25"/>
<circle cx="146.79" cy="363.85" r="1.0" fill="#777" opacity="0.25"/>
<circle cx="153.14" cy="364.07" r="1.0" fill="#777" opacity="0.25"/>
<circle cx="148.29" cy="363.51" r="1.0" fill="#777" opacity="0.25"/>
<circle cx="157.73" cy="371.77" r="1.0" fill="#777" opacity="0.25"/>
<circle cx="146.19" cy="366.90" r="1.0" fill="#777" opacity="0.25"/>
<circle cx="148.57" cy="379.51" r="1.0" fill="#777" opacity="0.25"/>
<circle cx="145.99" cy="365.77" r="1.0" fill="#777" opacity="0.25"/>
<circle cx="147.81" cy="378.53" r="1.0" fill="#777" opacity="0.25"/>
<circle cx="145.02" cy="373.41" r="1.0" fill="#777" opacity="0.25"/>
<circle cx="156.29" cy="367.86" r="1.0" fill="#777" opacity="0.25"/>
<circle cx="154.03" cy="371.52" r="1.0" fill="#777" opacity="0.25"/>
<circle cx="139.93" cy="362.96" r="1.0" fill="#777" opacity="0.25"/>
<circle cx="156.72" cy="370.39" r="1.0" fill="#777" opacity="0.25"/>
<circle cx="146.31" cy="378.52" r="1.0" fill="#777" opacity="0.25"/>
<circle cx="149.05" cy="371.00" r="1.0" fill="#777" opacity="0.25"/>
<circle cx="142.97" cy="375.39" r="1.0" fill="#777" opacity="0.25"/>
<circle cx="142.38" cy="370.47" r="1.0" fill="#777" opacity="0.25"/>
<circle cx="152.93" cy="372.89" r="1.0" fill="#777" opacity="0.25"/>
<circle cx="139.82" cy="365.65" r="1.0" fill="#777" opacity="0.25"/>
<circle cx="151.59" cy="375.12" r="1.0" fill="#777" opacity="0.25"/>
<circle cx="139.16" cy="379.96" r="1.0" fill="#777" opacity="0.25"/>
<circle cx="139.80" cy="365.02" r="1.0" fill="#777" opacity="0.25"/>
<circle cx="138.88" cy="370.04" r="1.0" fill="#777" opacity="0.25"/>
<circle cx="150.01" cy="377.43" r="1.0" fill="#777" opacity="0.25"/>
<circle cx="140.43" cy="374.58" r="1.0" fill="#777" opacity="0.25"/>
<circle cx="139.21" cy="372.45" r="1.0" fill="#777" opacity="0.25"/>
<circle cx="142.29" cy="368.41" r="1.0" fill="#777" opacity="0.25"/>
<circle cx="138.10" cy="374.97" r="1.0" fill="#777" opacity="0.25"/>
<circle cx="139.57" cy="375.75" r="1.0" fill="#777" opacity="0.25"/>
<circle cx="144.07" cy="372.65" r="1.0" fill="#777" opacity="0.25"/>
<circle cx="150.42" cy="370.80" r="1.0" fill="#777" opacity="0.25"/>
<circle cx="155.35" cy="378.55" r="1.0" fill="#777" opacity="0.25"/>
<circle cx="142.92" cy="368.01" r="1.0" fill="#777" opacity="0.25"/>
<circle cx="155.42" cy="364.39" r="1.0" fill="#777" opacity="0.25"/>
<circle cx="145.82" cy="369.46" r="1.0" fill="#777" opacity="0.25"/>
<circle cx="157.50" cy="364.31" r="1.0" fill="#777" opacity="0.25"/>
<circle cx="150.76" cy="375.63" r="1.0" fill="#777" opacity="0.25"/>
<circle cx="152.29" cy="362.02" r="1.0" fill="#777" opacity="0.25"/>
<circle cx="156.82" cy="367.62" r="1.0" fill="#777" opacity="0.25"/>
<circle cx="154.91" cy="373.90" r="1.0" fill="#777" opacity="0.25"/>
<circle cx="145.84" cy="377.08" r="1.0" fill="#777" opacity="0.25"/>
<circle cx="151.19" cy="368.12" r="1.0" fill="#777" opacity="0.25"/>
<circle cx="152.37" cy="371.09" r="1.0" fill="#777" opacity="0.25"/>
<circle cx="151.94" cy="373.06" r="1.0" fill="#777" opacity="0.25"/>
<circle cx="153.72" cy="364.87" r="1.0" fill="#777" opacity="0.25"/>
<circle cx="147.39" cy="362.02" r="1.0" fill="#777" opacity="0.25"/>
<circle cx="153.61" cy="375.89" r="1.0" fill="#777" opacity="0.25"/>
<circle cx="154.58" cy="362.78" r="1.0" fill="#777" opacity="0.25"/>
<circle cx="148.24" cy="370.61" r="1.0" fill="#777" opacity="0.25"/>
<circle cx="139.51" cy="365.65" r="1.0" fill="#777" opacity="0.25"/>
<circle cx="157.46" cy="377.35" r="1.0" fill="#777" opacity="0.25"/>
<circle cx="142.00" cy="376.92" r="1.0" fill="#777" opacity="0.25"/>
<circle cx="150.67" cy="368.93" r="1.0" fill="#777" opacity="0.25"/>
<circle cx="150.54" cy="366.12" r="1.0" fill="#777" opacity="0.25"/>
<circle cx="142.75" cy="362.18" r="1.0" fill="#777" opacity="0.25"/>
<circle cx="150.79" cy="372.47" r="1.0" fill="#777" opacity="0.25"/>
<circle cx="152.61" cy="371.07" r="1.0" fill="#777" opacity="0.25"/>
<circle cx="146.13" cy="367.52" r="1.0" fill="#777" opacity="0.25"/>
<circle cx="152.44" cy="368.71" r="1.0" fill="#777" opacity="0.25"/>
<circle cx="149.53" cy="375.64" r="1.0" fill="#777" opacity="0.25"/>
<circle cx="146.34" cy="374.35" r="1.0" fill="#777" opacity="0.25"/>
<circle cx="138.29" cy="366.69" r="1.0" fill="#777" opacity="0.25"/>
<circle cx="154.65" cy="364.65" r="1.0" fill="#777" opacity="0.25"/>
<circle cx="138.19" cy="362.26" r="1.0" fill="#777" opacity="0.25"/>
<circle cx="153.09" cy="363.91" r="1.0" fill="#777" opacity="0.25"/>
<circle cx="146.62" cy="369.89" r="1.0" fill="#777" opacity="0.25"/>
<circle cx="153.86" cy="370.58" r="1.0" fill="#777" opacity="0.25"/>
<circle cx="147.96" cy="362.45" r="1.0" fill="#777" opacity="0.25"/>
<circle cx="153.70" cy="375.81" r="1.0" fill="#777" opacity="0.25"/>
<circle cx="150.09" cy="377.03" r="1.0" fill="#777" opacity="0.25"/>
<circle cx="149.90" cy="374.89" r="1.0" fill="#777" opacity="0.25"/>
<circle cx="154.87" cy="373.11" r="1.0" fill="#777" opacity="0.25"/>
<circle cx="137.43" cy="377.92" r="1.0" fill="#777" opacity="0.25"/>
<circle cx="157.78" cy="365.62" r="1.0" fill="#777" opacity="0.25"/>
<circle cx="138.39" cy="368.12" r="1.0" fill="#777" opacity="0.25"/>
<circle cx="139.10" cy="368.65" r="1.0" fill="#777" opacity="0.25"/>
<circle cx="138.87" cy="365.96" r="1.0" fill="#777" opacity="0.25"/>
<circle cx="137.07" cy="369.72" r="1.0" fill="#777" opacity="0.25"/>
<circle cx="143.30" cy="375.12" r="1.0" fill="#777" opacity="0.25"/>
<circle cx="145.16" cy="364.99" r="1.0" fill="#777" opacity="0.25"/>
<circle cx="157.02" cy="378.10" r="1.0" fill="#777" opacity="0.25"/>
<circle cx="151.47" cy="365.91" r="1.0" fill="#777" opacity="0.25"/>
<circle cx="145.46" cy="370.12" r="1.0" fill="#777" opacity="0.25"/>
<circle cx="145.58" cy="362.47" r="1.0" fill="#777" opacity="0.25"/>
<circle cx="146.57" cy="375.82" r="1.0" fill="#777" opacity="0.25"/>
<circle cx="151.56" cy="377.49" r="1.0" fill="#777" opacity="0.25"/>
<circle cx="151.34" cy="375.73" r="1.0" fill="#777" opacity="0.25"/>
<circle cx="155.29" cy="378.51" r="1.0" fill="#777" opacity="0.25"/>
<circle cx="153.65" cy="369.49" r="1.0" fill="#777" opacity="0.25"/>
<circle cx="150.85" cy="373.85" r="1.0" fill="#777" opacity="0.25"/>
<circle cx="155.54" cy="374.84" r="1.0" fill="#777" opacity="0.25"/>
<circle cx="146.31" cy="365.43" r="1.0" fill="#777" opacity="0.25"/>
<circle cx="143.88" cy="366.51" r="1.0" fill="#777" opacity="0.25"/>
<circle cx="151.32" cy="375.85" r="1.0" fill="#777" opacity="0.25"/>
<circle cx="141.03" cy="371.60" r="1.0" fill="#777" opacity="0.25"/>
<circle cx="154.65" cy="368.58" r="1.0" fill="#777" opacity="0.25"/>
<circle cx="138.99" cy="372.90" r="1.0" fill="#777" opacity="0.25"/>
<circle cx="144.61" cy="364.59" r="1.0" fill="#777" opacity="0.25"/>
<circle cx="143.05" cy="362.12" r="1.0" fill="#777" opacity="0.25"/>
<circle cx="140.13" cy="369.66" r="1.0" fill="#777" opacity="0.25"/>
<circle cx="139.20" cy="362.11" r="1.0" fill="#777" opacity="0.25"/>
<circle cx="148.55" cy="379.24" r="1.0" fill="#777" opacity="0.25"/>
<circle cx="154.51" cy="367.87" r="1.0" fill="#777" opacity="0.25"/>
<circle cx="156.41" cy="363.44" r="1.0" fill="#777" opacity="0.25"/>
<circle cx="140.16" cy="362.12" r="1.0" fill="#777" opacity="0.25"/>
<circle cx="138.23" cy="372.83" r="1.0" fill="#777" opacity="0.25"/>
<circle cx="152.90" cy="370.60" r="1.0" fill="#777" opacity="0.25"/>
<circle cx="153.87" cy="370.12" r="1.0" fill="#777" opacity="0.25"/>
<circle cx="156.29" cy="372.94" r="1.0" fill="#777" opacity="0.25"/>
<circle cx="148.28" cy="365.07" r="1.0" fill="#777" opacity="0.25"/>
<circle cx="145.96" cy="369.93" r="1.0" fill="#777" opacity="0.25"/>
<circle cx="154.28" cy="366.13" r="1.0" fill="#777" opacity="0.25"/>
<circle cx="143.19" cy="376.70" r="1.0" fill="#777" opacity="0.25"/>
<circle cx="138.49" cy="371.67" r="1.0" fill="#777" opacity="0.25"/>
<circle cx="141.61" cy="373.97" r="1.0" fill="#777" opacity="0.25"/>
<circle cx="149.48" cy="363.70" r="1.0" fill="#777" opacity="0.25"/>
<circle cx="152.34" cy="369.33" r="1.0" fill="#777" opacity="0.25"/>
<circle cx="143.73" cy="377.42" r="1.0" fill="#777" opacity="0.25"/>
<circle cx="153.35" cy="367.57" r="1.0" fill="#777" opacity="0.25"/>
<circle cx="151.23" cy="364.22" r="1.0" fill="#777" opacity="0.25"/>
<circle cx="147.90" cy="363.49" r="1.0" fill="#777" opacity="0.25"/>
<circle cx="150.46" cy="378.49" r="1.0" fill="#777" opacity="0.25"/>
<circle cx="150.36" cy="362.73" r="1.0" fill="#777" opacity="0.25"/>
<circle cx="147.78" cy="370.45" r="1.0" fill="#777" opacity="0.25"/>
<circle cx="146.30" cy="364.72" r="1.0" fill="#777" opacity="0.25"/>
<circle cx="142.84" cy="370.09" r="1.0" fill="#777" opacity="0.25"/>
<circle cx="138.49" cy="374.14" r="1.0" fill="#777" opacity="0.25"/>
<circle cx="142.11" cy="367.22" r="1.0" fill="#777" opacity="0.25"/>
<circle cx="138.91" cy="367.45" r="1.0" fill="#777" opacity="0.25"/>
<circle cx="156.55" cy="367.25" r="1.0" fill="#777" opacity="0.25"/>
<circle cx="139.01" cy="368.22" r="1.0" fill="#777" opacity="0.25"/>
<circle cx="156.85" cy="363.58" r="1.0" fill="#777" opacity="0.25"/>
<circle cx="144.19" cy="365.76" r="1.0" fill="#777" opacity="0.25"/>
<circle cx="151.32" cy="370.31" r="1.0" fill="#777" opacity="0.25"/>
<circle cx="139.06" cy="377.52" r="1.0" fill="#777" opacity="0.25"/>
<circle cx="143.89" cy="374.35" r="1.0" fill="#777" opacity="0.25"/>
<circle cx="146.51" cy="377.69" r="1.0" fill="#777" opacity="0.25"/>
<circle cx="138.22" cy="366.11" r="1.0" fill="#777" opacity="0.25"/>
<circle cx="143.00" cy="366.76" r="1.0" fill="#777" opacity="0.25"/>
<circle cx="154.26" cy="371.04" r="1.0" fill="#777" opacity="0.25"/>
<circle cx="144.28" cy="371.12" r="1.0" fill="#777" opacity="0.25"/>
<circle cx="154.76" cy="372.26" r="1.0" fill="#777" opacity="0.25"/>
<circle cx="146.48" cy="373.82" r="1.0" fill="#777" opacity="0.25"/>
<circle cx="149.92" cy="369.30" r="1.0" fill="#777" opacity="0.25"/>
<circle cx="145.95" cy="364.37" r="1.0" fill="#777" opacity="0.25"/>
<circle cx="146.22" cy="377.82" r="1.0" fill="#777" opacity="0.25"/>
<circle cx="143.43" cy="368.57" r="1.0" fill="#777" opacity="0.25"/>
<circle cx="149.67" cy="372.63" r="1.0" fill="#777" opacity="0.25"/>
<circle cx="140.68" cy="370.03" r="1.0" fill="#777" opacity="0.25"/>
<circle cx="152.41" cy="362.75" r="1.0" fill="#777" opacity="0.25"/>
<circle cx="139.28" cy="375.60" r="1.0" fill="#777" opacity="0.25"/>
<circle cx="156.01" cy="363.22" r="1.0" fill="#777" opacity="0.25"/>
<circle cx="138.71" cy="373.28" r="1.0" fill="#777" opacity="0.25"/>
<circle cx="142.97" cy="373.82" r="1.0" fill="#777" opacity="0.25"/>
<circle cx="137.72" cy="370.22" r="1.0" fill="#777" opacity="0.25"/>
<circle cx="140.39" cy="367.98" r="1.0" fill="#777" opacity="0.25"/>
<circle cx="151.56" cy="371.18" r="1.0" fill="#777" opacity="0.25"/>
<circle cx="154.92" cy="377.15" r="1.0" fill="#777" opacity="0.25"/>
<circle cx="150.01" cy="377.26" r="1.0" fill="#777" opacity="0.25"/>
<circle cx="140.73" cy="370.54" r="1.0" fill="#777" opacity="0.25"/>
<circle cx="143.71" cy="373.25" r="1.0" fill="#777" opacity="0.25"/>
<circle cx="139.34" cy="377.93" r="1.0" fill="#777" opacity="0.25"/>
<circle cx="144.78" cy="376.11" r="1.0" fill="#777" opacity="0.25"/>
<circle cx="156.80" cy="378.92" r="1.0" fill="#777" opacity="0.25"/>
<circle cx="145.19" cy="377.42" r="1.0" fill="#777" opacity="0.25"/>
<circle cx="157.94" cy="364.34" r="1.0" fill="#777" opacity="0.25"/>
<circle cx="152.70" cy="375.09" r="1.0" fill="#777" opacity="0.25"/>
<circle cx="146.61" cy="367.00" r="1.0" fill="#777" opacity="0.25"/>
<circle cx="140.64" cy="369.41" r="1.0" fill="#777" opacity="0.25"/>
<circle cx="156.57" cy="369.24" r="1.0" fill="#777" opacity="0.25"/>
<circle cx="142.36" cy="373.15" r="1.0" fill="#777" opacity="0.25"/>
<circle cx="146.18" cy="373.04" r="1.0" fill="#777" opacity="0.25"/>
<circle cx="146.54" cy="367.15" r="1.0" fill="#777" opacity="0.25"/>
<circle cx="137.75" cy="376.73" r="1.0" fill="#777" opacity="0.25"/>
<circle cx="150.84" cy="366.39" r="1.0" fill="#777" opacity="0.25"/>
<circle cx="147.49" cy="372.46" r="1.0" fill="#777" opacity="0.25"/>
<circle cx="147.58" cy="378.22" r="1.0" fill="#777" opacity="0.25"/>
<circle cx="153.35" cy="367.52" r="1.0" fill="#777" opacity="0.25"/>
<circle cx="144.11" cy="373.01" r="1.0" fill="#777" opacity="0.25"/>
<circle cx="140.41" cy="378.81" r="1.0" fill="#777" opacity="0.25"/>
<circle cx="137.95" cy="370.99" r="1.0" fill="#777" opacity="0.25"/>
<circle cx="142.74" cy="371.47" r="1.0" fill="#777" opacity="0.25"/>
<circle cx="137.96" cy="366.04" r="1.0" fill="#777" opacity="0.25"/>
<circle cx="157.77" cy="376.18" r="1.0" fill="#777" opacity="0.25"/>
<circle cx="141.64" cy="370.21" r="1.0" fill="#777" opacity="0.25"/>
<circle cx="137.68" cy="364.20" r="1.0" fill="#777" opacity="0.25"/>
<circle cx="141.03" cy="379.72" r="1.0" fill="#777" opacity="0.25"/>
<circle cx="143.55" cy="366.46" r="1.0" fill="#777" opacity="0.25"/>
<circle cx="139.85" cy="366.32" r="1.0" fill="#666" opacity="0.25"/>
<circle cx="151.94" cy="373.88" r="1.0" fill="#666" opacity="0.25"/>
<circle cx="150.96" cy="375.03" r="1.0" fill="#666" opacity="0.25"/>
<circle cx="149.17" cy="368.06" r="1.0" fill="#666" opacity="0.25"/>
<circle cx="141.20" cy="368.24" r="1.0" fill="#666" opacity="0.25"/>
<circle cx="139.85" cy="367.11" r="1.0" fill="#666" opacity="0.25"/>
<circle cx="148.36" cy="370.89" r="1.0" fill="#666" opacity="0.25"/>
<circle cx="139.14" cy="368.66" r="1.0" fill="#666" opacity="0.25"/>
<circle cx="150.04" cy="375.21" r="1.0" fill="#666" opacity="0.25"/>
<circle cx="148.48" cy="373.78" r="1.0" fill="#666" opacity="0.25"/>
<circle cx="150.85" cy="371.69" r="1.0" fill="#666" opacity="0.25"/>
<circle cx="143.98" cy="371.88" r="1.0" fill="#666" opacity="0.25"/>
<circle cx="142.67" cy="365.44" r="1.0" fill="#666" opacity="0.25"/>
<circle cx="142.38" cy="370.49" r="1.0" fill="#666" opacity="0.25"/>
<circle cx="140.56" cy="365.97" r="1.0" fill="#666" opacity="0.25"/>
<circle cx="142.21" cy="369.42" r="1.0" fill="#666" opacity="0.25"/>
<circle cx="151.44" cy="370.84" r="1.0" fill="#666" opacity="0.25"/>
<circle cx="149.88" cy="373.93" r="1.0" fill="#666" opacity="0.25"/>
<circle cx="146.70" cy="368.87" r="1.0" fill="#666" opacity="0.25"/>
<circle cx="144.10" cy="368.81" r="1.0" fill="#666" opacity="0.25"/>
<circle cx="147.25" cy="375.26" r="1.0" fill="#666" opacity="0.25"/>
<circle cx="149.28" cy="368.54" r="1.0" fill="#666" opacity="0.25"/>
<circle cx="140.94" cy="365.11" r="1.0" fill="#666" opacity="0.25"/>
<circle cx="146.60" cy="367.74" r="1.0" fill="#666" opacity="0.25"/>
<circle cx="139.07" cy="368.62" r="1.0" fill="#666" opacity="0.25"/>
<circle cx="141.97" cy="367.46" r="1.0" fill="#666" opacity="0.25"/>
<circle cx="147.64" cy="372.01" r="1.0" fill="#666" opacity="0.25"/>
<circle cx="142.66" cy="373.77" r="1.0" fill="#666" opacity="0.25"/>
<circle cx="141.68" cy="376.05" r="1.0" fill="#666" opacity="0.25"/>
<circle cx="140.55" cy="372.10" r="1.0" fill="#666" opacity="0.25"/>
<circle cx="148.16" cy="373.79" r="1.0" fill="#666" opacity="0.25"/>
<circle cx="145.33" cy="375.46" r="1.0" fill="#666" opacity="0.25"/>
<circle cx="147.18" cy="373.29" r="1.0" fill="#666" opacity="0.25"/>
<circle cx="140.03" cy="367.24" r="1.0" fill="#666" opacity="0.25"/>
<circle cx="145.05" cy="371.54" r="1.0" fill="#666" opacity="0.25"/>
<circle cx="140.24" cy="373.90" r="1.0" fill="#666" opacity="0.25"/>
<circle cx="143.51" cy="370.70" r="1.0" fill="#666" opacity="0.25"/>
<circle cx="145.79" cy="375.07" r="1.0" fill="#666" opacity="0.25"/>
<circle cx="142.93" cy="371.72" r="1.0" fill="#666" opacity="0.25"/>
<circle cx="146.87" cy="372.86" r="1.0" fill="#666" opacity="0.25"/>
<circle cx="143.06" cy="368.35" r="1.0" fill="#666" opacity="0.25"/>
<circle cx="145.12" cy="372.21" r="1.0" fill="#666" opacity="0.25"/>
<circle cx="147.38" cy="366.61" r="1.0" fill="#666" opacity="0.25"/>
<circle cx="144.80" cy="371.72" r="1.0" fill="#666" opacity="0.25"/>
<circle cx="141.53" cy="366.23" r="1.0" fill="#666" opacity="0.25"/>
<circle cx="151.08" cy="365.25" r="1.0" fill="#666" opacity="0.25"/>
<circle cx="145.48" cy="368.54" r="1.0" fill="#666" opacity="0.25"/>
<circle cx="139.40" cy="368.24" r="1.0" fill="#666" opacity="0.25"/>
<circle cx="141.10" cy="369.80" r="1.0" fill="#666" opacity="0.25"/>
<circle cx="150.83" cy="365.95" r="1.0" fill="#666" opacity="0.25"/>
<circle cx="143.57" cy="373.34" r="1.0" fill="#666" opacity="0.25"/>
<circle cx="147.12" cy="365.25" r="1.0" fill="#666" opacity="0.25"/>
<circle cx="141.97" cy="368.37" r="1.0" fill="#666" opacity="0.25"/>
<circle cx="150.63" cy="370.31" r="1.0" fill="#666" opacity="0.25"/>
<circle cx="142.35" cy="370.76" r="1.0" fill="#666" opacity="0.25"/>
<circle cx="145.31" cy="366.79" r="1.0" fill="#666" opacity="0.25"/>
<circle cx="147.67" cy="373.65" r="1.0" fill="#666" opacity="0.25"/>
<circle cx="145.20" cy="371.45" r="1.0" fill="#666" opacity="0.25"/>
<circle cx="149.02" cy="376.48" r="1.0" fill="#666" opacity="0.25"/>
<circle cx="146.97" cy="365.53" r="1.0" fill="#666" opacity="0.25"/>
<circle cx="145.57" cy="372.95" r="1.0" fill="#666" opacity="0.25"/>
<circle cx="143.30" cy="373.21" r="1.0" fill="#666" opacity="0.25"/>
<circle cx="143.78" cy="372.40" r="1.0" fill="#666" opacity="0.25"/>
<circle cx="146.98" cy="373.04" r="1.0" fill="#666" opacity="0.25"/>
<circle cx="151.03" cy="373.49" r="1.0" fill="#666" opacity="0.25"/>
<circle cx="148.22" cy="373.45" r="1.0" fill="#666" opacity="0.25"/>
<circle cx="142.00" cy="372.37" r="1.0" fill="#666" opacity="0.25"/>
<circle cx="147.07" cy="365.73" r="1.0" fill="#666" opacity="0.25"/>
<circle cx="148.81" cy="367.72" r="1.0" fill="#666" opacity="0.25"/>
<circle cx="145.40" cy="371.29" r="1.0" fill="#666" opacity="0.25"/>
<circle cx="148.39" cy="374.18" r="1.0" fill="#666" opacity="0.25"/>
<circle cx="145.09" cy="376.27" r="1.0" fill="#666" opacity="0.25"/>
<circle cx="144.76" cy="371.80" r="1.0" fill="#666" opacity="0.25"/>
<circle cx="151.89" cy="368.89" r="1.0" fill="#666" opacity="0.25"/>
<circle cx="148.28" cy="376.48" r="1.0" fill="#666" opacity="0.25"/>
<circle cx="140.10" cy="374.33" r="1.0" fill="#666" opacity="0.25"/>
<circle cx="147.47" cy="371.48" r="1.0" fill="#666" opacity="0.25"/>
<circle cx="149.26" cy="375.32" r="1.0" fill="#666" opacity="0.25"/>
<circle cx="140.91" cy="370.84" r="1.0" fill="#666" opacity="0.25"/>
<circle cx="147.00" cy="373.39" r="1.0" fill="#666" opacity="0.25"/>
<circle cx="151.46" cy="374.63" r="1.0" fill="#666" opacity="0.25"/>
<circle cx="149.77" cy="365.77" r="1.0" fill="#666" opacity="0.25"/>
<circle cx="144.54" cy="375.96" r="1.0" fill="#666" opacity="0.25"/>
<circle cx="151.30" cy="374.07" r="1.0" fill="#666" opacity="0.25"/>
<circle cx="143.34" cy="374.24" r="1.0" fill="#666" opacity="0.25"/>
<circle cx="145.91" cy="373.01" r="1.0" fill="#666" opacity="0.25"/>
<circle cx="147.29" cy="375.38" r="1.0" fill="#666" opacity="0.25"/>
<circle cx="148.28" cy="376.65" r="1.0" fill="#666" opacity="0.25"/>
<circle cx="145.42" cy="370.92" r="1.0" fill="#666" opacity="0.25"/>
<circle cx="147.55" cy="371.74" r="1.0" fill="#666" opacity="0.25"/>
<circle cx="136.84" cy="376.23" r="0.8" fill="#333" opacity="0.35"/>
<circle cx="131.61" cy="377.88" r="0.8" fill="#333" opacity="0.35"/>
<circle cx="133.63" cy="372.94" r="0.8" fill="#333" opacity="0.35"/>
<circle cx="133.81" cy="370.08" r="0.8" fill="#333" opacity="0.35"/>
<circle cx="131.51" cy="381.59" r="0.8" fill="#333" opacity="0.35"/>
<circle cx="132.64" cy="380.15" r="0.8" fill="#333" opacity="0.35"/>
<circle cx="129.02" cy="367.12" r="0.8" fill="#333" opacity="0.35"/>
<circle cx="130.91" cy="372.71" r="0.8" fill="#333" opacity="0.35"/>
<circle cx="132.40" cy="377.22" r="0.8" fill="#333" opacity="0.35"/>
<circle cx="133.41" cy="372.00" r="0.8" fill="#333" opacity="0.35"/>
<circle cx="133.43" cy="375.85" r="0.8" fill="#333" opacity="0.35"/>
<circle cx="133.00" cy="358.97" r="0.8" fill="#333" opacity="0.35"/>
<circle cx="131.67" cy="375.31" r="0.8" fill="#333" opacity="0.35"/>
<circle cx="131.82" cy="379.46" r="0.8" fill="#333" opacity="0.35"/>
<circle cx="131.61" cy="372.37" r="0.8" fill="#333" opacity="0.35"/>
<circle cx="131.09" cy="371.35" r="0.8" fill="#333" opacity="0.35"/>
<circle cx="134.45" cy="379.59" r="0.8" fill="#333" opacity="0.35"/>
<circle cx="134.03" cy="375.63" r="0.8" fill="#333" opacity="0.35"/>
<circle cx="132.73" cy="365.15" r="0.8" fill="#333" opacity="0.35"/>
<circle cx="133.60" cy="368.57" r="0.8" fill="#333" opacity="0.35"/>
<circle cx="133.01" cy="371.46" r="0.8" fill="#333" opacity="0.35"/>
<circle cx="134.00" cy="368.46" r="0.8" fill="#333" opacity="0.35"/>
<circle cx="133.89" cy="372.08" r="0.8" fill="#333" opacity="0.35"/>
<circle cx="135.35" cy="371.39" r="0.8" fill="#333" opacity="0.35"/>
<circle cx="132.24" cy="361.99" r="0.8" fill="#333" opacity="0.35"/>
<circle cx="134.04" cy="372.19" r="0.8" fill="#333" opacity="0.35"/>
<circle cx="128.65" cy="374.58" r="0.8" fill="#333" opacity="0.35"/>
<circle cx="133.36" cy="370.29" r="0.8" fill="#333" opacity="0.35"/>
<circle cx="134.78" cy="371.44" r="0.8" fill="#333" opacity="0.35"/>
<circle cx="132.25" cy="374.15" r="0.8" fill="#333" opacity="0.35"/>
<circle cx="130.54" cy="374.96" r="0.8" fill="#333" opacity="0.35"/>
<circle cx="131.01" cy="373.37" r="0.8" fill="#333" opacity="0.35"/>
<circle cx="134.44" cy="369.99" r="0.8" fill="#333" opacity="0.35"/>
<circle cx="131.39" cy="380.92" r="0.8" fill="#333" opacity="0.35"/>
<circle cx="132.57" cy="377.76" r="0.8" fill="#333" opacity="0.35"/>
<circle cx="133.55" cy="374.47" r="0.8" fill="#333" opacity="0.35"/>
<circle cx="135.01" cy="371.86" r="0.8" fill="#333" opacity="0.35"/>
<circle cx="129.84" cy="370.78" r="0.8" fill="#333" opacity="0.35"/>
<circle cx="131.47" cy="366.11" r="0.8" fill="#333" opacity="0.35"/>
<circle cx="131.82" cy="374.31" r="0.8" fill="#333" opacity="0.35"/>
<circle cx="133.40" cy="372.51" r="0.8" fill="#333" opacity="0.35"/>
<circle cx="132.29" cy="372.44" r="0.8" fill="#333" opacity="0.35"/>
<circle cx="131.76" cy="367.56" r="0.8" fill="#333" opacity="0.35"/>
<circle cx="132.66" cy="376.75" r="0.8" fill="#333" opacity="0.35"/>
<circle cx="131.27" cy="372.17" r="0.8" fill="#333" opacity="0.35"/>
<circle cx="133.74" cy="366.95" r="0.8" fill="#333" opacity="0.35"/>
<circle cx="133.19" cy="372.97" r="0.8" fill="#333" opacity="0.35"/>
<circle cx="134.33" cy="367.40" r="0.8" fill="#333" opacity="0.35"/>
<circle cx="131.77" cy="380.40" r="0.8" fill="#333" opacity="0.35"/>
<circle cx="136.12" cy="375.29" r="0.8" fill="#333" opacity="0.35"/>
<circle cx="134.95" cy="368.84" r="0.8" fill="#333" opacity="0.35"/>
<circle cx="134.30" cy="373.81" r="0.8" fill="#333" opacity="0.35"/>
<circle cx="133.75" cy="365.69" r="0.8" fill="#333" opacity="0.35"/>
<circle cx="132.84" cy="375.89" r="0.8" fill="#333" opacity="0.35"/>
<circle cx="134.51" cy="374.60" r="0.8" fill="#333" opacity="0.35"/>
<circle cx="133.32" cy="377.43" r="0.8" fill="#333" opacity="0.35"/>
<circle cx="135.57" cy="364.79" r="0.8" fill="#333" opacity="0.35"/>
<circle cx="129.35" cy="372.49" r="0.8" fill="#333" opacity="0.35"/>
<circle cx="135.41" cy="381.97" r="0.8" fill="#333" opacity="0.35"/>
<circle cx="133.87" cy="367.28" r="0.8" fill="#333" opacity="0.35"/>
<circle cx="133.64" cy="368.97" r="0.8" fill="#333" opacity="0.35"/>
<circle cx="134.08" cy="371.41" r="0.8" fill="#333" opacity="0.35"/>
<circle cx="135.55" cy="367.20" r="0.8" fill="#333" opacity="0.35"/>
<circle cx="135.16" cy="368.46" r="0.8" fill="#333" opacity="0.35"/>
<circle cx="133.81" cy="373.98" r="0.8" fill="#333" opacity="0.35"/>
<circle cx="130.30" cy="362.02" r="0.8" fill="#333" opacity="0.35"/>
<circle cx="132.29" cy="370.59" r="0.8" fill="#333" opacity="0.35"/>
<circle cx="131.55" cy="376.14" r="0.8" fill="#333" opacity="0.35"/>
<circle cx="133.11" cy="375.46" r="0.8" fill="#333" opacity="0.35"/>
<circle cx="130.77" cy="371.46" r="0.8" fill="#333" opacity="0.35"/>
<circle cx="132.30" cy="377.64" r="0.8" fill="#333" opacity="0.35"/>
<circle cx="134.79" cy="369.59" r="0.8" fill="#333" opacity="0.35"/>
<circle cx="132.55" cy="359.22" r="0.8" fill="#333" opacity="0.35"/>
<circle cx="136.14" cy="374.19" r="0.8" fill="#333" opacity="0.35"/>
<circle cx="133.48" cy="374.05" r="0.8" fill="#333" opacity="0.35"/>
<circle cx="132.30" cy="362.82" r="0.8" fill="#333" opacity="0.35"/>
<circle cx="130.96" cy="367.87" r="0.8" fill="#333" opacity="0.35"/>
<circle cx="132.17" cy="366.28" r="0.8" fill="#333" opacity="0.35"/>
<circle cx="132.93" cy="375.64" r="0.8" fill="#333" opacity="0.35"/>
<circle cx="132.87" cy="372.98" r="0.8" fill="#333" opacity="0.35"/>
<circle cx="136.71" cy="368.00" r="0.8" fill="#333" opacity="0.35"/>
<circle cx="131.42" cy="376.62" r="0.8" fill="#333" opacity="0.35"/>
<circle cx="131.94" cy="381.43" r="0.8" fill="#333" opacity="0.35"/>
<circle cx="131.40" cy="372.16" r="0.8" fill="#333" opacity="0.35"/>
<circle cx="135.59" cy="363.59" r="0.8" fill="#333" opacity="0.35"/>
<circle cx="134.41" cy="373.76" r="0.8" fill="#333" opacity="0.35"/>
<circle cx="132.97" cy="379.72" r="0.8" fill="#333" opacity="0.35"/>
<circle cx="131.54" cy="375.59" r="0.8" fill="#333" opacity="0.35"/>
<circle cx="131.70" cy="379.12" r="0.8" fill="#333" opacity="0.35"/>
<circle cx="130.42" cy="371.87" r="0.8" fill="#333" opacity="0.35"/>
<circle cx="131.64" cy="366.36" r="0.8" fill="#333" opacity="0.35"/>
<circle cx="134.33" cy="370.06" r="0.8" fill="#333" opacity="0.35"/>
<circle cx="133.58" cy="359.73" r="0.8" fill="#333" opacity="0.35"/>
<circle cx="130.77" cy="366.92" r="0.8" fill="#333" opacity="0.35"/>
<circle cx="133.20" cy="363.59" r="0.8" fill="#333" opacity="0.35"/>
<circle cx="133.15" cy="377.36" r="0.8" fill="#333" opacity="0.35"/>
<circle cx="132.71" cy="372.95" r="0.8" fill="#333" opacity="0.35"/>
<circle cx="131.88" cy="367.47" r="0.8" fill="#333" opacity="0.35"/>
<circle cx="132.49" cy="373.26" r="0.8" fill="#333" opacity="0.35"/>
<circle cx="135.16" cy="373.16" r="0.8" fill="#333" opacity="0.35"/>
<circle cx="131.29" cy="376.59" r="0.8" fill="#333" opacity="0.35"/>
<circle cx="130.74" cy="361.28" r="0.8" fill="#333" opacity="0.35"/>
<circle cx="132.12" cy="368.31" r="0.8" fill="#333" opacity="0.35"/>
<circle cx="133.64" cy="371.76" r="0.8" fill="#333" opacity="0.35"/>
<circle cx="130.24" cy="368.16" r="0.8" fill="#333" opacity="0.35"/>
<circle cx="131.62" cy="383.21" r="0.8" fill="#333" opacity="0.35"/>
<circle cx="130.32" cy="366.48" r="0.8" fill="#333" opacity="0.35"/>
<circle cx="134.69" cy="379.95" r="0.8" fill="#333" opacity="0.35"/>
<circle cx="131.92" cy="379.42" r="0.8" fill="#333" opacity="0.35"/>
<circle cx="132.37" cy="367.17" r="0.8" fill="#333" opacity="0.35"/>
<circle cx="132.35" cy="376.90" r="0.8" fill="#333" opacity="0.35"/>
<circle cx="135.11" cy="370.90" r="0.8" fill="#333" opacity="0.35"/>
<circle cx="130.22" cy="373.27" r="0.8" fill="#333" opacity="0.35"/>
<circle cx="131.72" cy="368.44" r="0.8" fill="#333" opacity="0.35"/>
<circle cx="133.27" cy="373.21" r="0.8" fill="#333" opacity="0.35"/>
<circle cx="130.38" cy="368.33" r="0.8" fill="#333" opacity="0.35"/>
<circle cx="134.98" cy="370.94" r="0.8" fill="#333" opacity="0.35"/>
<circle cx="135.69" cy="359.09" r="0.8" fill="#333" opacity="0.35"/>
<circle cx="130.62" cy="372.13" r="0.8" fill="#333" opacity="0.35"/>
<circle cx="130.79" cy="372.95" r="0.8" fill="#333" opacity="0.35"/>
<circle cx="132.65" cy="364.82" r="0.8" fill="#333" opacity="0.35"/>
<circle cx="135.72" cy="381.55" r="0.8" fill="#333" opacity="0.35"/>
<circle cx="129.55" cy="370.49" r="0.8" fill="#333" opacity="0.35"/>
<circle cx="130.21" cy="369.85" r="0.8" fill="#333" opacity="0.35"/>
<circle cx="131.71" cy="370.75" r="0.8" fill="#333" opacity="0.35"/>
<circle cx="134.49" cy="378.53" r="0.8" fill="#333" opacity="0.35"/>
<circle cx="131.95" cy="374.34" r="0.8" fill="#333" opacity="0.35"/>
<circle cx="133.69" cy="363.63" r="0.8" fill="#333" opacity="0.35"/>
<circle cx="132.65" cy="366.58" r="0.8" fill="#333" opacity="0.35"/>
<circle cx="134.56" cy="378.84" r="0.8" fill="#333" opacity="0.35"/>
<circle cx="133.07" cy="379.98" r="0.8" fill="#333" opacity="0.35"/>
<circle cx="132.03" cy="367.85" r="0.8" fill="#333" opacity="0.35"/>
<circle cx="134.90" cy="372.10" r="0.8" fill="#333" opacity="0.35"/>
<circle cx="133.10" cy="364.91" r="0.8" fill="#333" opacity="0.35"/>
<circle cx="133.79" cy="371.61" r="0.8" fill="#333" opacity="0.35"/>
<circle cx="132.27" cy="366.16" r="0.8" fill="#333" opacity="0.35"/>
<circle cx="131.16" cy="369.74" r="0.8" fill="#333" opacity="0.35"/>
<circle cx="132.78" cy="378.88" r="0.8" fill="#333" opacity="0.35"/>
<circle cx="129.42" cy="364.46" r="0.8" fill="#333" opacity="0.35"/>
<circle cx="130.82" cy="368.07" r="0.8" fill="#333" opacity="0.35"/>
<circle cx="131.02" cy="365.72" r="0.8" fill="#333" opacity="0.35"/>
<circle cx="131.31" cy="374.37" r="0.8" fill="#333" opacity="0.35"/>
<circle cx="131.77" cy="367.04" r="0.8" fill="#333" opacity="0.35"/>
<circle cx="133.57" cy="372.78" r="0.8" fill="#333" opacity="0.35"/>
<circle cx="130.77" cy="378.49" r="0.8" fill="#333" opacity="0.35"/>
<circle cx="131.34" cy="366.69" r="0.8" fill="#333" opacity="0.35"/>
<circle cx="133.15" cy="367.53" r="0.8" fill="#333" opacity="0.35"/>
<circle cx="130.72" cy="379.39" r="0.8" fill="#333" opacity="0.35"/>
<circle cx="131.68" cy="366.77" r="0.8" fill="#333" opacity="0.35"/>
<circle cx="132.82" cy="371.19" r="0.8" fill="#333" opacity="0.35"/>
</g>
<g filter="url(#blur1)"><ellipse cx="133.0" cy="373" rx="2.4" ry="11" fill="#444" opacity="0.45"/><ellipse cx="133.2" cy="372" rx="1.7" ry="6" fill="#000" opacity="0.95"/></g>
<g filter="url(#blur3)">
<circle cx="41.30" cy="450.43" r="0.7" fill="#ee1c1c" opacity="0.4"/>
<circle cx="44.66" cy="450.42" r="0.7" fill="#ee1c1c" opacity="0.4"/>
<circle cx="44.61" cy="447.96" r="0.7" fill="#ee1c1c" opacity="0.4"/>
<circle cx="45.15" cy="450.76" r="0.7" fill="#ee1c1c" opacity="0.4"/>
<circle cx="42.97" cy="447.69" r="0.7" fill="#ee1c1c" opacity="0.4"/>
<circle cx="45.27" cy="451.81" r="0.7" fill="#ee1c1c" opacity="0.4"/>
<circle cx="43.44" cy="453.15" r="0.7" fill="#ee1c1c" opacity="0.4"/>
<circle cx="43.78" cy="450.78" r="0.7" fill="#ee1c1c" opacity="0.4"/>
<circle cx="44.46" cy="450.40" r="0.7" fill="#ee1c1c" opacity="0.4"/>
<circle cx="45.25" cy="459.98" r="0.7" fill="#ee1c1c" opacity="0.4"/>
<circle cx="41.65" cy="452.06" r="0.7" fill="#ee1c1c" opacity="0.4"/>
<circle cx="43.41" cy="454.15" r="0.7" fill="#ee1c1c" opacity="0.4"/>
<circle cx="41.30" cy="459.33" r="0.7" fill="#ee1c1c" opacity="0.4"/>
<circle cx="45.08" cy="459.09" r="0.7" fill="#ee1c1c" opacity="0.4"/>
<circle cx="45.57" cy="448.45" r="0.7" fill="#ee1c1c" opacity="0.4"/>
<circle cx="43.78" cy="457.64" r="0.7" fill="#ee1c1c" opacity="0.4"/>
<circle cx="45.55" cy="449.36" r="0.7" fill="#ee1c1c" opacity="0.4"/>
<circle cx="44.36" cy="456.72" r="0.7" fill="#ee1c1c" opacity="0.4"/>
<circle cx="45.80" cy="450.74" r="0.7" fill="#ee1c1c" opacity="0.4"/>
<circle cx="44.56" cy="453.90" r="0.7" fill="#ee1c1c" opacity="0.4"/>
<circle cx="43.70" cy="451.20" r="0.7" fill="#ee1c1c" opacity="0.4"/>
<circle cx="45.36" cy="452.03" r="0.7" fill="#ee1c1c" opacity="0.4"/>
<circle cx="43.92" cy="456.08" r="0.7" fill="#ee1c1c" opacity="0.4"/>
<circle cx="45.61" cy="454.00" r="0.7" fill="#ee1c1c" opacity="0.4"/>
<circle cx="43.45" cy="449.27" r="0.7" fill="#ee1c1c" opacity="0.4"/>
<circle cx="42.51" cy="449.90" r="0.7" fill="#ee1c1c" opacity="0.4"/>
<circle cx="44.45" cy="447.55" r="0.7" fill="#ee1c1c" opacity="0.4"/>
<circle cx="42.83" cy="448.56" r="0.7" fill="#ee1c1c" opacity="0.4"/>
<circle cx="44.28" cy="450.59" r="0.7" fill="#ee1c1c" opacity="0.4"/>
<circle cx="46.12" cy="456.60" r="0.7" fill="#ee1c1c" opacity="0.4"/>
<circle cx="44.09" cy="451.62" r="0.7" fill="#ee1c1c" opacity="0.4"/>
<circle cx="45.51" cy="449.04" r="0.7" fill="#ee1c1c" opacity="0.4"/>
<circle cx="45.34" cy="447.72" r="0.7" fill="#ee1c1c" opacity="0.4"/>
<circle cx="43.51" cy="453.21" r="0.7" fill="#ee1c1c" opacity="0.4"/>
<circle cx="44.20" cy="446.52" r="0.7" fill="#ee1c1c" opacity="0.4"/>
<circle cx="42.91" cy="452.52" r="0.7" fill="#ee1c1c" opacity="0.4"/>
<circle cx="41.84" cy="458.18" r="0.7" fill="#ee1c1c" opacity="0.4"/>
<circle cx="43.06" cy="452.55" r="0.7" fill="#ee1c1c" opacity="0.4"/>
<circle cx="47.86" cy="451.17" r="0.7" fill="#ee1c1c" opacity="0.4"/>
<circle cx="44.41" cy="454.08" r="0.7" fill="#ee1c1c" opacity="0.4"/>
<circle cx="43.82" cy="448.57" r="0.7" fill="#ee1c1c" opacity="0.4"/>
<circle cx="41.90" cy="452.86" r="0.7" fill="#ee1c1c" opacity="0.4"/>
<circle cx="43.73" cy="456.65" r="0.7" fill="#ee1c1c" opacity="0.4"/>
<circle cx="44.28" cy="454.37" r="0.7" fill="#ee1c1c" opacity="0.4"/>
<circle cx="42.58" cy="450.96" r="0.7" fill="#ee1c1c" opacity="0.4"/>
<circle cx="44.61" cy="450.80" r="0.7" fill="#ee1c1c" opacity="0.4"/>
<circle cx="44.94" cy="450.63" r="0.7" fill="#ee1c1c" opacity="0.4"/>
<circle cx="43.63" cy="453.38" r="0.7" fill="#ee1c1c" opacity="0.4"/>
<circle cx="42.41" cy="461.00" r="0.7" fill="#ee1c1c" opacity="0.4"/>
<circle cx="42.28" cy="457.07" r="0.7" fill="#ee1c1c" opacity="0.4"/>
<circle cx="46.14" cy="451.20" r="0.7" fill="#ee1c1c" opacity="0.4"/>
<circle cx="44.60" cy="455.41" r="0.7" fill="#ee1c1c" opacity="0.4"/>
<circle cx="44.53" cy="454.30" r="0.7" fill="#ee1c1c" opacity="0.4"/>
<circle cx="43.57" cy="453.81" r="0.7" fill="#ee1c1c" opacity="0.4"/>
<circle cx="43.27" cy="448.15" r="0.7" fill="#ee1c1c" opacity="0.4"/>
<circle cx="43.73" cy="454.60" r="0.7" fill="#ee1c1c" opacity="0.4"/>
<circle cx="44.43" cy="453.34" r="0.7" fill="#ee1c1c" opacity="0.4"/>
<circle cx="43.49" cy="452.52" r="0.7" fill="#ee1c1c" opacity="0.4"/>
<circle cx="42.94" cy="451.62" r="0.7" fill="#ee1c1c" opacity="0.4"/>
<circle cx="44.15" cy="449.27" r="0.7" fill="#ee1c1c" opacity="0.4"/>
<circle cx="46.09" cy="445.37" r="0.7" fill="#ee1c1c" opacity="0.4"/>
<circle cx="44.91" cy="450.92" r="0.7" fill="#ee1c1c" opacity="0.4"/>
<circle cx="45.43" cy="450.29" r="0.7" fill="#ee1c1c" opacity="0.4"/>
<circle cx="45.17" cy="449.41" r="0.7" fill="#ee1c1c" opacity="0.4"/>
<circle cx="42.95" cy="451.31" r="0.7" fill="#ee1c1c" opacity="0.4"/>
<circle cx="44.06" cy="448.65" r="0.7" fill="#ee1c1c" opacity="0.4"/>
<circle cx="45.64" cy="448.34" r="0.7" fill="#ee1c1c" opacity="0.4"/>
<circle cx="43.68" cy="452.38" r="0.7" fill="#ee1c1c" opacity="0.4"/>
<circle cx="43.83" cy="455.61" r="0.7" fill="#ee1c1c" opacity="0.4"/>
<circle cx="42.73" cy="455.37" r="0.7" fill="#ee1c1c" opacity="0.4"/>
<circle cx="45.57" cy="452.13" r="0.7" fill="#ee1c1c" opacity="0.4"/>
<circle cx="46.70" cy="446.59" r="0.7" fill="#ee1c1c" opacity="0.4"/>
<circle cx="43.20" cy="447.06" r="0.7" fill="#ee1c1c" opacity="0.4"/>
<circle cx="39.76" cy="444.00" r="0.7" fill="#ee1c1c" opacity="0.4"/>
<circle cx="44.39" cy="448.24" r="0.7" fill="#ee1c1c" opacity="0.4"/>
<circle cx="40.69" cy="452.23" r="0.7" fill="#ee1c1c" opacity="0.4"/>
<circle cx="42.21" cy="450.49" r="0.7" fill="#ee1c1c" opacity="0.4"/>
<circle cx="43.27" cy="456.84" r="0.7" fill="#ee1c1c" opacity="0.4"/>
<circle cx="40.65" cy="452.61" r="0.7" fill="#ee1c1c" opacity="0.4"/>
<circle cx="48.66" cy="451.98" r="0.7" fill="#ee1c1c" opacity="0.4"/>
<circle cx="55.28" cy="449.39" r="0.7" fill="#ee1c1c" opacity="0.35"/>
<circle cx="57.67" cy="449.98" r="0.7" fill="#ee1c1c" opacity="0.35"/>
<circle cx="56.67" cy="448.14" r="0.7" fill="#ee1c1c" opacity="0.35"/>
<circle cx="53.91" cy="450.05" r="0.7" fill="#ee1c1c" opacity="0.35"/>
<circle cx="54.00" cy="450.13" r="0.7" fill="#ee1c1c" opacity="0.35"/>
<circle cx="58.61" cy="451.06" r="0.7" fill="#ee1c1c" opacity="0.35"/>
<circle cx="54.95" cy="450.18" r="0.7" fill="#ee1c1c" opacity="0.35"/>
<circle cx="52.26" cy="449.07" r="0.7" fill="#ee1c1c" opacity="0.35"/>
<circle cx="57.26" cy="447.99" r="0.7" fill="#ee1c1c" opacity="0.35"/>
<circle cx="59.21" cy="448.16" r="0.7" fill="#ee1c1c" opacity="0.35"/>
<circle cx="53.57" cy="448.56" r="0.7" fill="#ee1c1c" opacity="0.35"/>
<circle cx="50.11" cy="450.05" r="0.7" fill="#ee1c1c" opacity="0.35"/>
<circle cx="46.27" cy="451.16" r="0.7" fill="#ee1c1c" opacity="0.35"/>
<circle cx="46.58" cy="450.34" r="0.7" fill="#ee1c1c" opacity="0.35"/>
<circle cx="52.73" cy="449.13" r="0.7" fill="#ee1c1c" opacity="0.35"/>
<circle cx="55.45" cy="451.03" r="0.7" fill="#ee1c1c" opacity="0.35"/>
<circle cx="54.80" cy="448.65" r="0.7" fill="#ee1c1c" opacity="0.35"/>
<circle cx="54.01" cy="450.67" r="0.7" fill="#ee1c1c" opacity="0.35"/>
<circle cx="49.46" cy="449.82" r="0.7" fill="#ee1c1c" opacity="0.35"/>
<circle cx="59.49" cy="448.75" r="0.7" fill="#ee1c1c" opacity="0.35"/>
<circle cx="53.27" cy="450.58" r="0.7" fill="#ee1c1c" opacity="0.35"/>
<circle cx="51.34" cy="449.47" r="0.7" fill="#ee1c1c" opacity="0.35"/>
<circle cx="52.72" cy="449.78" r="0.7" fill="#ee1c1c" opacity="0.35"/>
<circle cx="48.98" cy="447.49" r="0.7" fill="#ee1c1c" opacity="0.35"/>
<circle cx="58.88" cy="448.54" r="0.7" fill="#ee1c1c" opacity="0.35"/>
<circle cx="49.68" cy="450.52" r="0.7" fill="#ee1c1c" opacity="0.35"/>
<circle cx="51.36" cy="449.24" r="0.7" fill="#ee1c1c" opacity="0.35"/>
<circle cx="48.89" cy="449.15" r="0.7" fill="#ee1c1c" opacity="0.35"/>
<circle cx="55.58" cy="450.73" r="0.7" fill="#ee1c1c" opacity="0.35"/>
<circle cx="57.32" cy="448.03" r="0.7" fill="#ee1c1c" opacity="0.35"/>
<circle cx="52.42" cy="450.28" r="0.7" fill="#ee1c1c" opacity="0.35"/>
<circle cx="50.10" cy="448.39" r="0.7" fill="#ee1c1c" opacity="0.35"/>
<circle cx="52.49" cy="450.79" r="0.7" fill="#ee1c1c" opacity="0.35"/>
<circle cx="48.73" cy="450.43" r="0.7" fill="#ee1c1c" opacity="0.35"/>
<circle cx="57.14" cy="448.70" r="0.7" fill="#ee1c1c" opacity="0.35"/>
<circle cx="48.38" cy="449.13" r="0.7" fill="#ee1c1c" opacity="0.35"/>
<circle cx="52.33" cy="448.72" r="0.7" fill="#ee1c1c" opacity="0.35"/>
<circle cx="54.20" cy="452.21" r="0.7" fill="#ee1c1c" opacity="0.35"/>
<circle cx="58.16" cy="450.94" r="0.7" fill="#ee1c1c" opacity="0.35"/>
<circle cx="53.67" cy="450.89" r="0.7" fill="#ee1c1c" opacity="0.35"/>
<circle cx="50.83" cy="449.77" r="0.7" fill="#ee1c1c" opacity="0.35"/>
<circle cx="59.06" cy="452.20" r="0.7" fill="#ee1c1c" opacity="0.35"/>
<circle cx="56.42" cy="449.66" r="0.7" fill="#ee1c1c" opacity="0.35"/>
<circle cx="53.70" cy="448.35" r="0.7" fill="#ee1c1c" opacity="0.35"/>
<circle cx="56.63" cy="451.45" r="0.7" fill="#ee1c1c" opacity="0.35"/>
<circle cx="57.05" cy="449.41" r="0.7" fill="#ee1c1c" opacity="0.35"/>
<circle cx="52.79" cy="448.34" r="0.7" fill="#ee1c1c" opacity="0.35"/>
<circle cx="60.06" cy="449.48" r="0.7" fill="#ee1c1c" opacity="0.35"/>
<circle cx="59.24" cy="448.41" r="0.7" fill="#ee1c1c" opacity="0.35"/>
<circle cx="57.29" cy="450.45" r="0.7" fill="#ee1c1c" opacity="0.35"/>
<circle cx="53.28" cy="448.84" r="0.7" fill="#ee1c1c" opacity="0.35"/>
<circle cx="65.74" cy="451.43" r="0.7" fill="#ee1c1c" opacity="0.35"/>
<circle cx="59.79" cy="448.70" r="0.7" fill="#ee1c1c" opacity="0.35"/>
<circle cx="60.44" cy="450.22" r="0.7" fill="#ee1c1c" opacity="0.35"/>
<circle cx="61.84" cy="449.35" r="0.7" fill="#ee1c1c" opacity="0.35"/>
<circle cx="52.95" cy="448.24" r="0.7" fill="#ee1c1c" opacity="0.35"/>
<circle cx="47.06" cy="447.48" r="0.7" fill="#ee1c1c" opacity="0.35"/>
<circle cx="52.23" cy="449.50" r="0.7" fill="#ee1c1c" opacity="0.35"/>
<circle cx="60.79" cy="451.84" r="0.7" fill="#ee1c1c" opacity="0.35"/>
<circle cx="51.35" cy="446.78" r="0.7" fill="#ee1c1c" opacity="0.35"/>
<circle cx="55.27" cy="449.95" r="0.7" fill="#ee1c1c" opacity="0.35"/>
<circle cx="52.06" cy="448.34" r="0.7" fill="#ee1c1c" opacity="0.35"/>
<circle cx="50.81" cy="449.70" r="0.7" fill="#ee1c1c" opacity="0.35"/>
<circle cx="54.65" cy="447.41" r="0.7" fill="#ee1c1c" opacity="0.35"/>
<circle cx="53.28" cy="448.24" r="0.7" fill="#ee1c1c" opacity="0.35"/>
<circle cx="49.49" cy="449.57" r="0.7" fill="#ee1c1c" opacity="0.35"/>
<circle cx="50.10" cy="449.73" r="0.7" fill="#ee1c1c" opacity="0.35"/>
<circle cx="42.70" cy="450.10" r="0.7" fill="#ee1c1c" opacity="0.35"/>
<circle cx="54.77" cy="448.89" r="0.7" fill="#ee1c1c" opacity="0.35"/>
<circle cx="50.01" cy="447.55" r="0.7" fill="#ee1c1c" opacity="0.35"/>
<circle cx="48.71" cy="451.58" r="0.7" fill="#ee1c1c" opacity="0.35"/>
<circle cx="55.60" cy="449.33" r="0.7" fill="#ee1c1c" opacity="0.35"/>
<circle cx="50.89" cy="448.67" r="0.7" fill="#ee1c1c" opacity="0.35"/>
<circle cx="48.45" cy="449.82" r="0.7" fill="#ee1c1c" opacity="0.35"/>
<circle cx="58.04" cy="448.19" r="0.7" fill="#ee1c1c" opacity="0.35"/>
<circle cx="56.60" cy="448.91" r="0.7" fill="#ee1c1c" opacity="0.35"/>
<circle cx="55.30" cy="448.35" r="0.7" fill="#ee1c1c" opacity="0.35"/>
<circle cx="57.34" cy="451.47" r="0.7" fill="#ee1c1c" opacity="0.35"/>
<circle cx="51.16" cy="449.10" r="0.7" fill="#ee1c1c" opacity="0.35"/>
<circle cx="58.11" cy="448.63" r="0.7" fill="#ee1c1c" opacity="0.35"/>
<circle cx="47.98" cy="446.40" r="0.7" fill="#ee1c1c" opacity="0.35"/>
<circle cx="51.38" cy="450.83" r="0.7" fill="#ee1c1c" opacity="0.35"/>
<circle cx="50.47" cy="449.22" r="0.7" fill="#ee1c1c" opacity="0.35"/>
<circle cx="42.56" cy="448.84" r="0.7" fill="#ee1c1c" opacity="0.35"/>
<circle cx="52.85" cy="448.61" r="0.7" fill="#ee1c1c" opacity="0.35"/>
<circle cx="51.47" cy="447.98" r="0.7" fill="#ee1c1c" opacity="0.35"/>
<circle cx="49.44" cy="450.81" r="0.7" fill="#ee1c1c" opacity="0.35"/>
<circle cx="48.42" cy="450.97" r="0.7" fill="#ee1c1c" opacity="0.35"/>
<circle cx="47.61" cy="450.95" r="0.7" fill="#ee1c1c" opacity="0.35"/>
<circle cx="53.19" cy="450.20" r="0.7" fill="#ee1c1c" opacity="0.35"/>
<circle cx="56.38" cy="439.73" r="0.6" fill="#ee1c1c" opacity="0.18"/>
<circle cx="62.83" cy="423.00" r="0.6" fill="#ee1c1c" opacity="0.18"/>
<circle cx="55.40" cy="439.24" r="0.6" fill="#ee1c1c" opacity="0.18"/>
<circle cx="60.60" cy="429.09" r="0.6" fill="#ee1c1c" opacity="0.18"/>
<circle cx="57.08" cy="442.12" r="0.6" fill="#ee1c1c" opacity="0.18"/>
<circle cx="55.67" cy="437.05" r="0.6" fill="#ee1c1c" opacity="0.18"/>
<circle cx="57.61" cy="442.86" r="0.6" fill="#ee1c1c" opacity="0.18"/>
<circle cx="58.02" cy="439.29" r="0.6" fill="#ee1c1c" opacity="0.18"/>
<circle cx="55.33" cy="433.90" r="0.6" fill="#ee1c1c" opacity="0.18"/>
<circle cx="62.50" cy="429.24" r="0.6" fill="#ee1c1c" opacity="0.18"/>
<circle cx="56.04" cy="432.78" r="0.6" fill="#ee1c1c" opacity="0.18"/>
<circle cx="57.14" cy="431.55" r="0.6" fill="#ee1c1c" opacity="0.18"/>
<circle cx="58.80" cy="432.41" r="0.6" fill="#ee1c1c" opacity="0.18"/>
<circle cx="55.51" cy="427.66" r="0.6" fill="#ee1c1c" opacity="0.18"/>
<circle cx="55.77" cy="427.41" r="0.6" fill="#ee1c1c" opacity="0.18"/>
<circle cx="56.21" cy="439.88" r="0.6" fill="#ee1c1c" opacity="0.18"/>
<circle cx="52.73" cy="448.14" r="0.6" fill="#ee1c1c" opacity="0.18"/>
<circle cx="58.98" cy="438.12" r="0.6" fill="#ee1c1c" opacity="0.18"/>
<circle cx="56.02" cy="443.02" r="0.6" fill="#ee1c1c" opacity="0.18"/>
<circle cx="58.06" cy="434.32" r="0.6" fill="#ee1c1c" opacity="0.18"/>
<circle cx="57.38" cy="437.69" r="0.6" fill="#ee1c1c" opacity="0.18"/>
<circle cx="54.85" cy="445.16" r="0.6" fill="#ee1c1c" opacity="0.18"/>
<circle cx="53.55" cy="439.53" r="0.6" fill="#ee1c1c" opacity="0.18"/>
<circle cx="54.64" cy="436.55" r="0.6" fill="#ee1c1c" opacity="0.18"/>
<circle cx="56.40" cy="437.95" r="0.6" fill="#ee1c1c" opacity="0.18"/>
<circle cx="60.88" cy="434.10" r="0.6" fill="#ee1c1c" opacity="0.18"/>
<circle cx="58.38" cy="439.32" r="0.6" fill="#ee1c1c" opacity="0.18"/>
<circle cx="57.62" cy="430.01" r="0.6" fill="#ee1c1c" opacity="0.18"/>
<circle cx="56.97" cy="426.99" r="0.6" fill="#ee1c1c" opacity="0.18"/>
<circle cx="59.84" cy="445.84" r="0.6" fill="#ee1c1c" opacity="0.18"/>
<circle cx="57.41" cy="440.12" r="0.6" fill="#ee1c1c" opacity="0.18"/>
<circle cx="56.92" cy="425.98" r="0.6" fill="#ee1c1c" opacity="0.18"/>
<circle cx="56.20" cy="442.60" r="0.6" fill="#ee1c1c" opacity="0.18"/>
<circle cx="56.79" cy="432.02" r="0.6" fill="#ee1c1c" opacity="0.18"/>
<circle cx="49.67" cy="443.36" r="0.6" fill="#ee1c1c" opacity="0.18"/>
<circle cx="61.11" cy="447.46" r="0.6" fill="#ee1c1c" opacity="0.18"/>
<circle cx="63.43" cy="423.78" r="0.6" fill="#ee1c1c" opacity="0.18"/>
<circle cx="57.05" cy="440.99" r="0.6" fill="#ee1c1c" opacity="0.18"/>
<circle cx="55.59" cy="438.41" r="0.6" fill="#ee1c1c" opacity="0.18"/>
<circle cx="59.89" cy="433.44" r="0.6" fill="#ee1c1c" opacity="0.18"/>
</g>
<g filter="url(#blur2)"><ellipse cx="43.8" cy="452.5" rx="1.8" ry="4" fill="#e81010" opacity="0.95"/><polygon points="47,450 60,447.5 60,451 47,453.5" fill="#f06060" opacity="0.4"/></g>
<g filter="url(#blur3)">
<circle cx="124.83" cy="446.62" r="0.7" fill="#333" opacity="0.4"/>
<circle cx="120.75" cy="451.10" r="0.7" fill="#333" opacity="0.4"/>
<circle cx="124.66" cy="453.28" r="0.7" fill="#333" opacity="0.4"/>
<circle cx="125.07" cy="446.29" r="0.7" fill="#333" opacity="0.4"/>
<circle cx="124.85" cy="436.63" r="0.7" fill="#333" opacity="0.4"/>
<circle cx="124.25" cy="444.88" r="0.7" fill="#333" opacity="0.4"/>
<circle cx="124.01" cy="445.45" r="0.7" fill="#333" opacity="0.4"/>
<circle cx="124.22" cy="454.92" r="0.7" fill="#333" opacity="0.4"/>
<circle cx="125.42" cy="448.49" r="0.7" fill="#333" opacity="0.4"/>
<circle cx="125.82" cy="452.29" r="0.7" fill="#333" opacity="0.4"/>
<circle cx="125.82" cy="450.75" r="0.7" fill="#333" opacity="0.4"/>
<circle cx="122.57" cy="451.24" r="0.7" fill="#333" opacity="0.4"/>
<circle cx="122.78" cy="446.45" r="0.7" fill="#333" opacity="0.4"/>
<circle cx="121.20" cy="451.71" r="0.7" fill="#333" opacity="0.4"/>
<circle cx="125.72" cy="445.87" r="0.7" fill="#333" opacity="0.4"/>
<circle cx="123.68" cy="443.92" r="0.7" fill="#333" opacity="0.4"/>
<circle cx="124.49" cy="455.94" r="0.7" fill="#333" opacity="0.4"/>
<circle cx="123.91" cy="454.03" r="0.7" fill="#333" opacity="0.4"/>
<circle cx="124.90" cy="449.99" r="0.7" fill="#333" opacity="0.4"/>
<circle cx="124.98" cy="443.17" r="0.7" fill="#333" opacity="0.4"/>
<circle cx="123.76" cy="451.56" r="0.7" fill="#333" opacity="0.4"/>
<circle cx="124.83" cy="456.82" r="0.7" fill="#333" opacity="0.4"/>
<circle cx="123.69" cy="446.92" r="0.7" fill="#333" opacity="0.4"/>
<circle cx="123.37" cy="449.43" r="0.7" fill="#333" opacity="0.4"/>
<circle cx="122.76" cy="444.43" r="0.7" fill="#333" opacity="0.4"/>
<circle cx="124.34" cy="445.33" r="0.7" fill="#333" opacity="0.4"/>
<circle cx="123.93" cy="450.87" r="0.7" fill="#333" opacity="0.4"/>
<circle cx="123.86" cy="455.57" r="0.7" fill="#333" opacity="0.4"/>
<circle cx="124.46" cy="451.77" r="0.7" fill="#333" opacity="0.4"/>
<circle cx="125.90" cy="449.19" r="0.7" fill="#333" opacity="0.4"/>
<circle cx="122.16" cy="448.37" r="0.7" fill="#333" opacity="0.4"/>
<circle cx="125.25" cy="446.31" r="0.7" fill="#333" opacity="0.4"/>
<circle cx="122.84" cy="452.99" r="0.7" fill="#333" opacity="0.4"/>
<circle cx="127.17" cy="448.94" r="0.7" fill="#333" opacity="0.4"/>
<circle cx="125.39" cy="457.78" r="0.7" fill="#333" opacity="0.4"/>
<circle cx="123.26" cy="447.77" r="0.7" fill="#333" opacity="0.4"/>
<circle cx="123.64" cy="447.61" r="0.7" fill="#333" opacity="0.4"/>
<circle cx="123.95" cy="445.24" r="0.7" fill="#333" opacity="0.4"/>
<circle cx="123.62" cy="450.22" r="0.7" fill="#333" opacity="0.4"/>
<circle cx="126.67" cy="444.58" r="0.7" fill="#333" opacity="0.4"/>
<circle cx="124.08" cy="447.26" r="0.7" fill="#333" opacity="0.4"/>
<circle cx="123.89" cy="448.79" r="0.7" fill="#333" opacity="0.4"/>
<circle cx="122.85" cy="449.81" r="0.7" fill="#333" opacity="0.4"/>
<circle cx="122.94" cy="451.67" r="0.7" fill="#333" opacity="0.4"/>
<circle cx="125.25" cy="453.07" r="0.7" fill="#333" opacity="0.4"/>
<circle cx="124.06" cy="453.78" r="0.7" fill="#333" opacity="0.4"/>
<circle cx="123.67" cy="453.02" r="0.7" fill="#333" opacity="0.4"/>
<circle cx="127.47" cy="452.68" r="0.7" fill="#333" opacity="0.4"/>
<circle cx="126.58" cy="454.24" r="0.7" fill="#333" opacity="0.4"/>
<circle cx="123.42" cy="452.10" r="0.7" fill="#333" opacity="0.4"/>
<circle cx="122.60" cy="453.31" r="0.7" fill="#333" opacity="0.4"/>
<circle cx="125.53" cy="452.93" r="0.7" fill="#333" opacity="0.4"/>
<circle cx="125.09" cy="451.17" r="0.7" fill="#333" opacity="0.4"/>
<circle cx="123.39" cy="442.58" r="0.7" fill="#333" opacity="0.4"/>
<circle cx="124.58" cy="455.14" r="0.7" fill="#333" opacity="0.4"/>
<circle cx="125.07" cy="449.73" r="0.7" fill="#333" opacity="0.4"/>
<circle cx="124.72" cy="453.29" r="0.7" fill="#333" opacity="0.4"/>
<circle cx="124.79" cy="447.91" r="0.7" fill="#333" opacity="0.4"/>
<circle cx="122.45" cy="441.86" r="0.7" fill="#333" opacity="0.4"/>
<circle cx="123.38" cy="448.93" r="0.7" fill="#333" opacity="0.4"/>
<circle cx="122.85" cy="451.48" r="0.7" fill="#333" opacity="0.4"/>
<circle cx="122.22" cy="451.80" r="0.7" fill="#333" opacity="0.4"/>
<circle cx="125.96" cy="449.97" r="0.7" fill="#333" opacity="0.4"/>
<circle cx="121.63" cy="450.56" r="0.7" fill="#333" opacity="0.4"/>
<circle cx="123.15" cy="450.87" r="0.7" fill="#333" opacity="0.4"/>
<circle cx="123.50" cy="447.87" r="0.7" fill="#333" opacity="0.4"/>
<circle cx="124.30" cy="455.34" r="0.7" fill="#333" opacity="0.4"/>
<circle cx="123.67" cy="451.11" r="0.7" fill="#333" opacity="0.4"/>
<circle cx="121.88" cy="459.80" r="0.7" fill="#333" opacity="0.4"/>
<circle cx="122.76" cy="450.73" r="0.7" fill="#333" opacity="0.4"/>
<circle cx="122.06" cy="452.87" r="0.7" fill="#333" opacity="0.4"/>
<circle cx="122.68" cy="450.92" r="0.7" fill="#333" opacity="0.4"/>
<circle cx="123.09" cy="449.25" r="0.7" fill="#333" opacity="0.4"/>
<circle cx="123.44" cy="446.69" r="0.7" fill="#333" opacity="0.4"/>
<circle cx="123.67" cy="447.00" r="0.7" fill="#333" opacity="0.4"/>
<circle cx="123.45" cy="448.73" r="0.7" fill="#333" opacity="0.4"/>
<circle cx="122.49" cy="451.49" r="0.7" fill="#333" opacity="0.4"/>
<circle cx="124.67" cy="451.22" r="0.7" fill="#333" opacity="0.4"/>
<circle cx="121.86" cy="452.89" r="0.7" fill="#333" opacity="0.4"/>
<circle cx="124.94" cy="442.97" r="0.7" fill="#333" opacity="0.4"/>
<circle cx="138.50" cy="444.59" r="0.7" fill="#333" opacity="0.3"/>
<circle cx="134.96" cy="449.97" r="0.7" fill="#333" opacity="0.3"/>
<circle cx="139.71" cy="451.44" r="0.7" fill="#333" opacity="0.3"/>
<circle cx="135.62" cy="450.46" r="0.7" fill="#333" opacity="0.3"/>
<circle cx="141.06" cy="452.01" r="0.7" fill="#333" opacity="0.3"/>
<circle cx="134.92" cy="450.28" r="0.7" fill="#333" opacity="0.3"/>
<circle cx="127.54" cy="447.43" r="0.7" fill="#333" opacity="0.3"/>
<circle cx="140.39" cy="449.57" r="0.7" fill="#333" opacity="0.3"/>
<circle cx="127.76" cy="448.57" r="0.7" fill="#333" opacity="0.3"/>
<circle cx="125.10" cy="448.69" r="0.7" fill="#333" opacity="0.3"/>
<circle cx="138.37" cy="445.79" r="0.7" fill="#333" opacity="0.3"/>
<circle cx="133.29" cy="449.46" r="0.7" fill="#333" opacity="0.3"/>
<circle cx="132.86" cy="449.08" r="0.7" fill="#333" opacity="0.3"/>
<circle cx="130.26" cy="447.44" r="0.7" fill="#333" opacity="0.3"/>
<circle cx="133.81" cy="445.59" r="0.7" fill="#333" opacity="0.3"/>
<circle cx="133.16" cy="446.25" r="0.7" fill="#333" opacity="0.3"/>
<circle cx="130.00" cy="451.51" r="0.7" fill="#333" opacity="0.3"/>
<circle cx="131.75" cy="448.03" r="0.7" fill="#333" opacity="0.3"/>
<circle cx="137.85" cy="447.51" r="0.7" fill="#333" opacity="0.3"/>
<circle cx="130.75" cy="448.77" r="0.7" fill="#333" opacity="0.3"/>
<circle cx="136.77" cy="447.22" r="0.7" fill="#333" opacity="0.3"/>
<circle cx="133.53" cy="445.55" r="0.7" fill="#333" opacity="0.3"/>
<circle cx="127.41" cy="448.71" r="0.7" fill="#333" opacity="0.3"/>
<circle cx="130.41" cy="449.30" r="0.7" fill="#333" opacity="0.3"/>
<circle cx="137.42" cy="445.14" r="0.7" fill="#333" opacity="0.3"/>
<circle cx="135.27" cy="449.10" r="0.7" fill="#333" opacity="0.3"/>
<circle cx="132.00" cy="449.14" r="0.7" fill="#333" opacity="0.3"/>
<circle cx="129.76" cy="449.62" r="0.7" fill="#333" opacity="0.3"/>
<circle cx="134.49" cy="452.11" r="0.7" fill="#333" opacity="0.3"/>
<circle cx="124.17" cy="447.01" r="0.7" fill="#333" opacity="0.3"/>
<circle cx="135.67" cy="450.66" r="0.7" fill="#333" opacity="0.3"/>
<circle cx="127.61" cy="446.92" r="0.7" fill="#333" opacity="0.3"/>
<circle cx="131.12" cy="449.51" r="0.7" fill="#333" opacity="0.3"/>
<circle cx="129.12" cy="450.54" r="0.7" fill="#333" opacity="0.3"/>
<circle cx="141.10" cy="448.47" r="0.7" fill="#333" opacity="0.3"/>
<circle cx="139.30" cy="446.17" r="0.7" fill="#333" opacity="0.3"/>
<circle cx="128.65" cy="449.93" r="0.7" fill="#333" opacity="0.3"/>
<circle cx="138.02" cy="446.50" r="0.7" fill="#333" opacity="0.3"/>
<circle cx="131.39" cy="449.69" r="0.7" fill="#333" opacity="0.3"/>
<circle cx="133.52" cy="447.51" r="0.7" fill="#333" opacity="0.3"/>
<circle cx="133.65" cy="450.36" r="0.7" fill="#333" opacity="0.3"/>
<circle cx="131.21" cy="446.61" r="0.7" fill="#333" opacity="0.3"/>
<circle cx="140.16" cy="448.07" r="0.7" fill="#333" opacity="0.3"/>
<circle cx="123.67" cy="449.39" r="0.7" fill="#333" opacity="0.3"/>
<circle cx="138.30" cy="450.84" r="0.7" fill="#333" opacity="0.3"/>
<circle cx="138.49" cy="448.87" r="0.7" fill="#333" opacity="0.3"/>
<circle cx="135.42" cy="449.72" r="0.7" fill="#333" opacity="0.3"/>
<circle cx="142.00" cy="449.50" r="0.7" fill="#333" opacity="0.3"/>
<circle cx="126.10" cy="450.74" r="0.7" fill="#333" opacity="0.3"/>
<circle cx="134.59" cy="448.64" r="0.7" fill="#333" opacity="0.3"/>
<circle cx="132.64" cy="450.32" r="0.7" fill="#333" opacity="0.3"/>
<circle cx="133.89" cy="449.43" r="0.7" fill="#333" opacity="0.3"/>
<circle cx="133.86" cy="450.64" r="0.7" fill="#333" opacity="0.3"/>
<circle cx="128.12" cy="449.65" r="0.7" fill="#333" opacity="0.3"/>
<circle cx="136.38" cy="448.92" r="0.7" fill="#333" opacity="0.3"/>
<circle cx="141.19" cy="451.90" r="0.7" fill="#333" opacity="0.3"/>
<circle cx="132.54" cy="451.18" r="0.7" fill="#333" opacity="0.3"/>
<circle cx="130.40" cy="452.60" r="0.7" fill="#333" opacity="0.3"/>
<circle cx="139.95" cy="448.06" r="0.7" fill="#333" opacity="0.3"/>
<circle cx="138.00" cy="449.97" r="0.7" fill="#333" opacity="0.3"/>
<circle cx="132.16" cy="446.77" r="0.7" fill="#333" opacity="0.3"/>
<circle cx="133.05" cy="450.78" r="0.7" fill="#333" opacity="0.3"/>
<circle cx="138.71" cy="449.69" r="0.7" fill="#333" opacity="0.3"/>
<circle cx="136.24" cy="447.41" r="0.7" fill="#333" opacity="0.3"/>
<circle cx="131.04" cy="449.23" r="0.7" fill="#333" opacity="0.3"/>
<circle cx="132.79" cy="447.18" r="0.7" fill="#333" opacity="0.3"/>
<circle cx="127.53" cy="451.05" r="0.7" fill="#333" opacity="0.3"/>
<circle cx="133.42" cy="449.69" r="0.7" fill="#333" opacity="0.3"/>
<circle cx="128.86" cy="446.71" r="0.7" fill="#333" opacity="0.3"/>
<circle cx="138.35" cy="449.54" r="0.7" fill="#333" opacity="0.3"/>
<circle cx="138.50" cy="447.59" r="0.7" fill="#333" opacity="0.3"/>
<circle cx="131.80" cy="449.52" r="0.7" fill="#333" opacity="0.3"/>
<circle cx="132.42" cy="451.33" r="0.7" fill="#333" opacity="0.3"/>
<circle cx="140.34" cy="447.65" r="0.7" fill="#333" opacity="0.3"/>
<circle cx="139.02" cy="448.64" r="0.7" fill="#333" opacity="0.3"/>
<circle cx="138.14" cy="449.69" r="0.7" fill="#333" opacity="0.3"/>
<circle cx="132.86" cy="449.46" r="0.7" fill="#333" opacity="0.3"/>
<circle cx="143.59" cy="450.94" r="0.7" fill="#333" opacity="0.3"/>
<circle cx="136.11" cy="448.41" r="0.7" fill="#333" opacity="0.3"/>
<circle cx="146.21" cy="451.49" r="0.7" fill="#333" opacity="0.3"/>
<circle cx="136.12" cy="450.32" r="0.7" fill="#333" opacity="0.3"/>
<circle cx="134.52" cy="450.22" r="0.7" fill="#333" opacity="0.3"/>
<circle cx="139.46" cy="449.39" r="0.7" fill="#333" opacity="0.3"/>
<circle cx="134.31" cy="448.32" r="0.7" fill="#333" opacity="0.3"/>
<circle cx="131.34" cy="449.05" r="0.7" fill="#333" opacity="0.3"/>
<circle cx="136.54" cy="445.21" r="0.7" fill="#333" opacity="0.3"/>
<circle cx="138.36" cy="447.43" r="0.7" fill="#333" opacity="0.3"/>
<circle cx="139.00" cy="451.22" r="0.7" fill="#333" opacity="0.3"/>
<circle cx="141.82" cy="450.32" r="0.7" fill="#333" opacity="0.3"/>
<circle cx="130.76" cy="452.62" r="0.7" fill="#333" opacity="0.3"/>
<circle cx="132.22" cy="451.88" r="0.7" fill="#333" opacity="0.3"/>
<circle cx="130.30" cy="449.04" r="0.7" fill="#333" opacity="0.3"/>
<circle cx="128.70" cy="449.11" r="0.7" fill="#333" opacity="0.3"/>
<circle cx="137.51" cy="450.88" r="0.7" fill="#333" opacity="0.3"/>
<circle cx="126.40" cy="448.44" r="0.7" fill="#333" opacity="0.3"/>
<circle cx="130.31" cy="451.10" r="0.7" fill="#333" opacity="0.3"/>
<circle cx="135.94" cy="451.07" r="0.7" fill="#333" opacity="0.3"/>
<circle cx="134.56" cy="452.15" r="0.7" fill="#333" opacity="0.3"/>
<circle cx="135.51" cy="450.39" r="0.7" fill="#333" opacity="0.3"/>
<circle cx="137.82" cy="449.64" r="0.7" fill="#333" opacity="0.3"/>
<circle cx="130.52" cy="448.67" r="0.7" fill="#333" opacity="0.3"/>
<circle cx="141.67" cy="451.62" r="0.7" fill="#333" opacity="0.3"/>
<circle cx="132.71" cy="450.17" r="0.7" fill="#333" opacity="0.3"/>
<circle cx="126.27" cy="451.05" r="0.7" fill="#333" opacity="0.3"/>
<circle cx="133.77" cy="445.12" r="0.7" fill="#333" opacity="0.3"/>
<circle cx="129.67" cy="448.54" r="0.7" fill="#333" opacity="0.3"/>
<circle cx="132.26" cy="449.00" r="0.7" fill="#333" opacity="0.3"/>
<circle cx="130.06" cy="445.87" r="0.7" fill="#333" opacity="0.3"/>
<circle cx="142.12" cy="447.28" r="0.7" fill="#333" opacity="0.3"/>
<circle cx="128.56" cy="446.41" r="0.7" fill="#333" opacity="0.3"/>
<circle cx="133.84" cy="445.45" r="0.6" fill="#333" opacity="0.15"/>
<circle cx="139.27" cy="450.03" r="0.6" fill="#333" opacity="0.15"/>
<circle cx="132.83" cy="437.71" r="0.6" fill="#333" opacity="0.15"/>
<circle cx="139.85" cy="437.17" r="0.6" fill="#333" opacity="0.15"/>
<circle cx="136.58" cy="449.28" r="0.6" fill="#333" opacity="0.15"/>
<circle cx="131.57" cy="432.03" r="0.6" fill="#333" opacity="0.15"/>
<circle cx="137.19" cy="434.37" r="0.6" fill="#333" opacity="0.15"/>
<circle cx="134.21" cy="445.68" r="0.6" fill="#333" opacity="0.15"/>
<circle cx="136.57" cy="446.90" r="0.6" fill="#333" opacity="0.15"/>
<circle cx="132.68" cy="438.58" r="0.6" fill="#333" opacity="0.15"/>
<circle cx="136.48" cy="440.52" r="0.6" fill="#333" opacity="0.15"/>
<circle cx="128.11" cy="431.88" r="0.6" fill="#333" opacity="0.15"/>
<circle cx="136.98" cy="426.85" r="0.6" fill="#333" opacity="0.15"/>
<circle cx="129.25" cy="433.61" r="0.6" fill="#333" opacity="0.15"/>
<circle cx="133.38" cy="443.03" r="0.6" fill="#333" opacity="0.15"/>
<circle cx="137.23" cy="435.36" r="0.6" fill="#333" opacity="0.15"/>
<circle cx="131.76" cy="432.56" r="0.6" fill="#333" opacity="0.15"/>
<circle cx="139.28" cy="440.49" r="0.6" fill="#333" opacity="0.15"/>
<circle cx="137.14" cy="425.97" r="0.6" fill="#333" opacity="0.15"/>
<circle cx="128.47" cy="444.28" r="0.6" fill="#333" opacity="0.15"/>
<circle cx="142.41" cy="441.09" r="0.6" fill="#333" opacity="0.15"/>
<circle cx="132.31" cy="428.08" r="0.6" fill="#333" opacity="0.15"/>
<circle cx="130.59" cy="440.57" r="0.6" fill="#333" opacity="0.15"/>
<circle cx="136.14" cy="434.20" r="0.6" fill="#333" opacity="0.15"/>
<circle cx="137.38" cy="447.17" r="0.6" fill="#333" opacity="0.15"/>
<circle cx="136.79" cy="434.97" r="0.6" fill="#333" opacity="0.15"/>
<circle cx="131.01" cy="435.93" r="0.6" fill="#333" opacity="0.15"/>
<circle cx="132.49" cy="448.71" r="0.6" fill="#333" opacity="0.15"/>
<circle cx="133.75" cy="448.21" r="0.6" fill="#333" opacity="0.15"/>
<circle cx="133.32" cy="439.77" r="0.6" fill="#333" opacity="0.15"/>
<circle cx="136.92" cy="437.20" r="0.6" fill="#333" opacity="0.15"/>
<circle cx="135.69" cy="438.88" r="0.6" fill="#333" opacity="0.15"/>
<circle cx="134.52" cy="439.13" r="0.6" fill="#333" opacity="0.15"/>
<circle cx="139.68" cy="449.81" r="0.6" fill="#333" opacity="0.15"/>
<circle cx="134.85" cy="447.51" r="0.6" fill="#333" opacity="0.15"/>
<circle cx="135.13" cy="438.96" r="0.6" fill="#333" opacity="0.15"/>
<circle cx="136.78" cy="438.14" r="0.6" fill="#333" opacity="0.15"/>
<circle cx="138.70" cy="436.09" r="0.6" fill="#333" opacity="0.15"/>
<circle cx="135.00" cy="439.86" r="0.6" fill="#333" opacity="0.15"/>
<circle cx="133.08" cy="433.94" r="0.6" fill="#333" opacity="0.15"/>
<circle cx="136.59" cy="443.82" r="0.6" fill="#333" opacity="0.15"/>
<circle cx="134.23" cy="432.68" r="0.6" fill="#333" opacity="0.15"/>
<circle cx="132.90" cy="436.54" r="0.6" fill="#333" opacity="0.15"/>
<circle cx="134.04" cy="437.36" r="0.6" fill="#333" opacity="0.15"/>
<circle cx="142.11" cy="431.57" r="0.6" fill="#333" opacity="0.15"/>
<circle cx="131.48" cy="434.88" r="0.6" fill="#333" opacity="0.15"/>
<circle cx="130.35" cy="444.00" r="0.6" fill="#333" opacity="0.15"/>
<circle cx="130.15" cy="433.53" r="0.6" fill="#333" opacity="0.15"/>
<circle cx="131.69" cy="440.12" r="0.6" fill="#333" opacity="0.15"/>
<circle cx="134.63" cy="434.26" r="0.6" fill="#333" opacity="0.15"/>
</g>
<g filter="url(#blur2)"><ellipse cx="123.8" cy="452" rx="1.9" ry="6" fill="#000" opacity="0.95"/><polygon points="127,449 141,446.5 141,451 127,455" fill="#888" opacity="0.55"/></g>
<line x1="27.30" y1="350.88" x2="28.20" y2="350.88" stroke="#222" stroke-width="0.6" />
<line x1="27.30" y1="356.47" x2="28.20" y2="356.47" stroke="#222" stroke-width="0.6" />
<line x1="26.60" y1="362.05" x2="28.20" y2="362.05" stroke="#222" stroke-width="0.6" />
<line x1="27.30" y1="367.63" x2="28.20" y2="367.63" stroke="#222" stroke-width="0.6" />
<line x1="27.30" y1="373.22" x2="28.20" y2="373.22" stroke="#222" stroke-width="0.6" />
<line x1="26.60" y1="378.80" x2="28.20" y2="378.80" stroke="#222" stroke-width="0.6" />
<line x1="27.30" y1="384.38" x2="28.20" y2="384.38" stroke="#222" stroke-width="0.6" />
<line x1="27.30" y1="389.97" x2="28.20" y2="389.97" stroke="#222" stroke-width="0.6" />
<line x1="26.60" y1="395.55" x2="28.20" y2="395.55" stroke="#222" stroke-width="0.6" />
<line x1="27.30" y1="401.13" x2="28.20" y2="401.13" stroke="#222" stroke-width="0.6" />
<line x1="27.30" y1="406.72" x2="28.20" y2="406.72" stroke="#222" stroke-width="0.6" />
<line x1="34.08" y1="412.30" x2="34.08" y2="413.20" stroke="#222" stroke-width="0.6" />
<line x1="39.97" y1="412.30" x2="39.97" y2="413.20" stroke="#222" stroke-width="0.6" />
<line x1="45.85" y1="412.30" x2="45.85" y2="413.90" stroke="#222" stroke-width="0.6" />
<line x1="51.73" y1="412.30" x2="51.73" y2="413.20" stroke="#222" stroke-width="0.6" />
<line x1="57.62" y1="412.30" x2="57.62" y2="413.20" stroke="#222" stroke-width="0.6" />
<line x1="63.50" y1="412.30" x2="63.50" y2="413.90" stroke="#222" stroke-width="0.6" />
<line x1="69.38" y1="412.30" x2="69.38" y2="413.20" stroke="#222" stroke-width="0.6" />
<line x1="75.27" y1="412.30" x2="75.27" y2="413.20" stroke="#222" stroke-width="0.6" />
<line x1="81.15" y1="412.30" x2="81.15" y2="413.90" stroke="#222" stroke-width="0.6" />
<line x1="87.03" y1="412.30" x2="87.03" y2="413.20" stroke="#222" stroke-width="0.6" />
<line x1="92.92" y1="412.30" x2="92.92" y2="413.20" stroke="#222" stroke-width="0.6" />
<rect x="28.20" y="345.30" width="70.60" height="67.00" fill="none" stroke="#111" stroke-width="1.1" />
<line x1="56.10" y1="345.30" x2="56.10" y2="412.30" stroke="#222" stroke-width="0.9" />
<line x1="28.20" y1="386.50" x2="98.80" y2="386.50" stroke="#222" stroke-width="0.9" />
<text x="31.80" y="353.90" font-size="7.0" fill="#231f20" stroke="#231f20">G1</text>
<text x="31.60" y="361.90" font-size="7.0" fill="#231f20" textLength="21.04" lengthAdjust="spacingAndGlyphs" stroke="#231f20">58.0%</text>
<text x="95.20" y="353.90" font-size="7.0" fill="#231f20" text-anchor="end" textLength="26.57" lengthAdjust="spacingAndGlyphs" stroke="#231f20">S/G2/M</text>
<text x="95.20" y="361.90" font-size="7.0" fill="#231f20" text-anchor="end" textLength="21.04" lengthAdjust="spacingAndGlyphs" stroke="#231f20">39.1%</text>
<text x="31.80" y="399.70" font-size="7.0" fill="#231f20" stroke="#231f20">G0</text>
<text x="31.60" y="407.70" font-size="7.0" fill="#231f20" textLength="16.91" lengthAdjust="spacingAndGlyphs" stroke="#231f20">2.6%</text>
<text x="95.20" y="407.70" font-size="7.0" fill="#231f20" text-anchor="end" textLength="16.91" lengthAdjust="spacingAndGlyphs" stroke="#231f20">0.3%</text>
<line x1="107.20" y1="350.88" x2="108.10" y2="350.88" stroke="#222" stroke-width="0.6" />
<line x1="107.20" y1="356.47" x2="108.10" y2="356.47" stroke="#222" stroke-width="0.6" />
<line x1="106.50" y1="362.05" x2="108.10" y2="362.05" stroke="#222" stroke-width="0.6" />
<line x1="107.20" y1="367.63" x2="108.10" y2="367.63" stroke="#222" stroke-width="0.6" />
<line x1="107.20" y1="373.22" x2="108.10" y2="373.22" stroke="#222" stroke-width="0.6" />
<line x1="106.50" y1="378.80" x2="108.10" y2="378.80" stroke="#222" stroke-width="0.6" />
<line x1="107.20" y1="384.38" x2="108.10" y2="384.38" stroke="#222" stroke-width="0.6" />
<line x1="107.20" y1="389.97" x2="108.10" y2="389.97" stroke="#222" stroke-width="0.6" />
<line x1="106.50" y1="395.55" x2="108.10" y2="395.55" stroke="#222" stroke-width="0.6" />
<line x1="107.20" y1="401.13" x2="108.10" y2="401.13" stroke="#222" stroke-width="0.6" />
<line x1="107.20" y1="406.72" x2="108.10" y2="406.72" stroke="#222" stroke-width="0.6" />
<line x1="114.04" y1="412.30" x2="114.04" y2="413.20" stroke="#222" stroke-width="0.6" />
<line x1="119.98" y1="412.30" x2="119.98" y2="413.20" stroke="#222" stroke-width="0.6" />
<line x1="125.92" y1="412.30" x2="125.92" y2="413.90" stroke="#222" stroke-width="0.6" />
<line x1="131.87" y1="412.30" x2="131.87" y2="413.20" stroke="#222" stroke-width="0.6" />
<line x1="137.81" y1="412.30" x2="137.81" y2="413.20" stroke="#222" stroke-width="0.6" />
<line x1="143.75" y1="412.30" x2="143.75" y2="413.90" stroke="#222" stroke-width="0.6" />
<line x1="149.69" y1="412.30" x2="149.69" y2="413.20" stroke="#222" stroke-width="0.6" />
<line x1="155.63" y1="412.30" x2="155.63" y2="413.20" stroke="#222" stroke-width="0.6" />
<line x1="161.57" y1="412.30" x2="161.57" y2="413.90" stroke="#222" stroke-width="0.6" />
<line x1="167.52" y1="412.30" x2="167.52" y2="413.20" stroke="#222" stroke-width="0.6" />
<line x1="173.46" y1="412.30" x2="173.46" y2="413.20" stroke="#222" stroke-width="0.6" />
<rect x="108.10" y="345.30" width="71.30" height="67.00" fill="none" stroke="#111" stroke-width="1.1" />
<line x1="136.70" y1="345.30" x2="136.70" y2="412.30" stroke="#222" stroke-width="0.9" />
<line x1="108.10" y1="386.50" x2="179.40" y2="386.50" stroke="#222" stroke-width="0.9" />
<text x="111.70" y="353.90" font-size="7.0" fill="#231f20" stroke="#231f20">G1</text>
<text x="111.50" y="361.90" font-size="7.0" fill="#231f20" textLength="21.04" lengthAdjust="spacingAndGlyphs" stroke="#231f20">67.5%</text>
<text x="175.80" y="353.90" font-size="7.0" fill="#231f20" text-anchor="end" textLength="26.57" lengthAdjust="spacingAndGlyphs" stroke="#231f20">S/G2/M</text>
<text x="175.80" y="361.90" font-size="7.0" fill="#231f20" text-anchor="end" textLength="21.04" lengthAdjust="spacingAndGlyphs" stroke="#231f20">30.9%</text>
<text x="111.70" y="399.70" font-size="7.0" fill="#231f20" stroke="#231f20">G0</text>
<text x="111.50" y="407.70" font-size="7.0" fill="#231f20" textLength="16.91" lengthAdjust="spacingAndGlyphs" stroke="#231f20">1.5%</text>
<text x="175.80" y="407.70" font-size="7.0" fill="#231f20" text-anchor="end" textLength="16.91" lengthAdjust="spacingAndGlyphs" stroke="#231f20">0.1%</text>
<line x1="27.30" y1="428.88" x2="28.20" y2="428.88" stroke="#222" stroke-width="0.6" />
<line x1="27.30" y1="433.97" x2="28.20" y2="433.97" stroke="#222" stroke-width="0.6" />
<line x1="26.60" y1="439.05" x2="28.20" y2="439.05" stroke="#222" stroke-width="0.6" />
<line x1="27.30" y1="444.13" x2="28.20" y2="444.13" stroke="#222" stroke-width="0.6" />
<line x1="27.30" y1="449.22" x2="28.20" y2="449.22" stroke="#222" stroke-width="0.6" />
<line x1="26.60" y1="454.30" x2="28.20" y2="454.30" stroke="#222" stroke-width="0.6" />
<line x1="27.30" y1="459.38" x2="28.20" y2="459.38" stroke="#222" stroke-width="0.6" />
<line x1="27.30" y1="464.47" x2="28.20" y2="464.47" stroke="#222" stroke-width="0.6" />
<line x1="26.60" y1="469.55" x2="28.20" y2="469.55" stroke="#222" stroke-width="0.6" />
<line x1="27.30" y1="474.63" x2="28.20" y2="474.63" stroke="#222" stroke-width="0.6" />
<line x1="27.30" y1="479.72" x2="28.20" y2="479.72" stroke="#222" stroke-width="0.6" />
<line x1="34.07" y1="484.80" x2="34.07" y2="485.70" stroke="#222" stroke-width="0.6" />
<line x1="39.93" y1="484.80" x2="39.93" y2="485.70" stroke="#222" stroke-width="0.6" />
<line x1="45.80" y1="484.80" x2="45.80" y2="486.40" stroke="#222" stroke-width="0.6" />
<line x1="51.67" y1="484.80" x2="51.67" y2="485.70" stroke="#222" stroke-width="0.6" />
<line x1="57.53" y1="484.80" x2="57.53" y2="485.70" stroke="#222" stroke-width="0.6" />
<line x1="63.40" y1="484.80" x2="63.40" y2="486.40" stroke="#222" stroke-width="0.6" />
<line x1="69.27" y1="484.80" x2="69.27" y2="485.70" stroke="#222" stroke-width="0.6" />
<line x1="75.13" y1="484.80" x2="75.13" y2="485.70" stroke="#222" stroke-width="0.6" />
<line x1="81.00" y1="484.80" x2="81.00" y2="486.40" stroke="#222" stroke-width="0.6" />
<line x1="86.87" y1="484.80" x2="86.87" y2="485.70" stroke="#222" stroke-width="0.6" />
<line x1="92.73" y1="484.80" x2="92.73" y2="485.70" stroke="#222" stroke-width="0.6" />
<rect x="28.20" y="423.80" width="70.40" height="61.00" fill="none" stroke="#111" stroke-width="1.1" />
<line x1="48.60" y1="423.80" x2="48.60" y2="484.80" stroke="#222" stroke-width="0.9" />
<line x1="28.20" y1="460.30" x2="98.60" y2="460.30" stroke="#222" stroke-width="0.9" />
<text x="31.80" y="432.40" font-size="7.0" fill="#231f20" stroke="#231f20">G1</text>
<text x="31.60" y="440.40" font-size="7.0" fill="#231f20" textLength="21.04" lengthAdjust="spacingAndGlyphs" stroke="#231f20">73.4%</text>
<text x="95.00" y="432.40" font-size="7.0" fill="#231f20" text-anchor="end" textLength="26.57" lengthAdjust="spacingAndGlyphs" stroke="#231f20">S/G2/M</text>
<text x="95.00" y="440.40" font-size="7.0" fill="#231f20" text-anchor="end" textLength="21.04" lengthAdjust="spacingAndGlyphs" stroke="#231f20">26.0%</text>
<text x="31.80" y="474.20" font-size="7.0" fill="#231f20" stroke="#231f20">G0</text>
<text x="31.60" y="482.20" font-size="7.0" fill="#231f20" textLength="16.91" lengthAdjust="spacingAndGlyphs" stroke="#231f20">0.6%</text>
<text x="95.00" y="482.20" font-size="7.0" fill="#231f20" text-anchor="end" textLength="16.91" lengthAdjust="spacingAndGlyphs" stroke="#231f20">0.0%</text>
<line x1="107.20" y1="429.25" x2="108.10" y2="429.25" stroke="#222" stroke-width="0.6" />
<line x1="107.20" y1="434.30" x2="108.10" y2="434.30" stroke="#222" stroke-width="0.6" />
<line x1="106.50" y1="439.35" x2="108.10" y2="439.35" stroke="#222" stroke-width="0.6" />
<line x1="107.20" y1="444.40" x2="108.10" y2="444.40" stroke="#222" stroke-width="0.6" />
<line x1="107.20" y1="449.45" x2="108.10" y2="449.45" stroke="#222" stroke-width="0.6" />
<line x1="106.50" y1="454.50" x2="108.10" y2="454.50" stroke="#222" stroke-width="0.6" />
<line x1="107.20" y1="459.55" x2="108.10" y2="459.55" stroke="#222" stroke-width="0.6" />
<line x1="107.20" y1="464.60" x2="108.10" y2="464.60" stroke="#222" stroke-width="0.6" />
<line x1="106.50" y1="469.65" x2="108.10" y2="469.65" stroke="#222" stroke-width="0.6" />
<line x1="107.20" y1="474.70" x2="108.10" y2="474.70" stroke="#222" stroke-width="0.6" />
<line x1="107.20" y1="479.75" x2="108.10" y2="479.75" stroke="#222" stroke-width="0.6" />
<line x1="114.02" y1="484.80" x2="114.02" y2="485.70" stroke="#222" stroke-width="0.6" />
<line x1="119.95" y1="484.80" x2="119.95" y2="485.70" stroke="#222" stroke-width="0.6" />
<line x1="125.88" y1="484.80" x2="125.88" y2="486.40" stroke="#222" stroke-width="0.6" />
<line x1="131.80" y1="484.80" x2="131.80" y2="485.70" stroke="#222" stroke-width="0.6" />
<line x1="137.72" y1="484.80" x2="137.72" y2="485.70" stroke="#222" stroke-width="0.6" />
<line x1="143.65" y1="484.80" x2="143.65" y2="486.40" stroke="#222" stroke-width="0.6" />
<line x1="149.57" y1="484.80" x2="149.57" y2="485.70" stroke="#222" stroke-width="0.6" />
<line x1="155.50" y1="484.80" x2="155.50" y2="485.70" stroke="#222" stroke-width="0.6" />
<line x1="161.42" y1="484.80" x2="161.42" y2="486.40" stroke="#222" stroke-width="0.6" />
<line x1="167.35" y1="484.80" x2="167.35" y2="485.70" stroke="#222" stroke-width="0.6" />
<line x1="173.27" y1="484.80" x2="173.27" y2="485.70" stroke="#222" stroke-width="0.6" />
<rect x="108.10" y="424.20" width="71.10" height="60.60" fill="none" stroke="#111" stroke-width="1.1" />
<line x1="128.40" y1="424.20" x2="128.40" y2="484.80" stroke="#222" stroke-width="0.9" />
<line x1="108.10" y1="460.30" x2="179.20" y2="460.30" stroke="#222" stroke-width="0.9" />
<text x="111.70" y="432.80" font-size="7.0" fill="#231f20" stroke="#231f20">G1</text>
<text x="111.50" y="440.80" font-size="7.0" fill="#231f20" textLength="21.04" lengthAdjust="spacingAndGlyphs" stroke="#231f20">76.1%</text>
<text x="175.60" y="432.80" font-size="7.0" fill="#231f20" text-anchor="end" textLength="26.57" lengthAdjust="spacingAndGlyphs" stroke="#231f20">S/G2/M</text>
<text x="175.60" y="440.80" font-size="7.0" fill="#231f20" text-anchor="end" textLength="21.04" lengthAdjust="spacingAndGlyphs" stroke="#231f20">22.6%</text>
<text x="111.70" y="474.20" font-size="7.0" fill="#231f20" stroke="#231f20">G0</text>
<text x="111.50" y="482.20" font-size="7.0" fill="#231f20" textLength="16.91" lengthAdjust="spacingAndGlyphs" stroke="#231f20">1.2%</text>
<text x="175.60" y="482.20" font-size="7.0" fill="#231f20" text-anchor="end" textLength="16.91" lengthAdjust="spacingAndGlyphs" stroke="#231f20">0.1%</text>
<line x1="193.90" y1="352.30" x2="193.90" y2="487.30" stroke="#555" stroke-width="1.0" />
<text x="190.30" y="421.00" font-size="7.3" fill="#231f20" transform="rotate(-90 190.30 421.00)" stroke="#231f20">%</text>
<text x="244.00" y="347.20" font-size="9.8" fill="#231f20" text-anchor="middle" stroke="#231f20">Day 4</text>
<line x1="216.70" y1="347.50" x2="216.70" y2="412.90" stroke="#231f20" stroke-width="1.35" />
<line x1="216.20" y1="412.40" x2="271.40" y2="412.40" stroke="#231f20" stroke-width="1.35" />
<line x1="213.70" y1="412.40" x2="216.70" y2="412.40" stroke="#231f20" stroke-width="0.9" />
<text x="212.90" y="415.30" font-size="8.6" fill="#231f20" text-anchor="end" textLength="4.3" lengthAdjust="spacingAndGlyphs" stroke="#231f20">0</text>
<line x1="213.70" y1="400.05" x2="216.70" y2="400.05" stroke="#231f20" stroke-width="0.9" />
<text x="212.90" y="402.95" font-size="8.6" fill="#231f20" text-anchor="end" textLength="8.61" lengthAdjust="spacingAndGlyphs" stroke="#231f20">20</text>
<line x1="213.70" y1="387.70" x2="216.70" y2="387.70" stroke="#231f20" stroke-width="0.9" />
<text x="212.90" y="390.60" font-size="8.6" fill="#231f20" text-anchor="end" textLength="8.61" lengthAdjust="spacingAndGlyphs" stroke="#231f20">40</text>
<line x1="213.70" y1="375.35" x2="216.70" y2="375.35" stroke="#231f20" stroke-width="0.9" />
<text x="212.90" y="378.25" font-size="8.6" fill="#231f20" text-anchor="end" textLength="8.61" lengthAdjust="spacingAndGlyphs" stroke="#231f20">60</text>
<line x1="213.70" y1="363.00" x2="216.70" y2="363.00" stroke="#231f20" stroke-width="0.9" />
<text x="212.90" y="365.90" font-size="8.6" fill="#231f20" text-anchor="end" textLength="8.61" lengthAdjust="spacingAndGlyphs" stroke="#231f20">80</text>
<line x1="213.70" y1="350.65" x2="216.70" y2="350.65" stroke="#231f20" stroke-width="0.9" />
<text x="212.90" y="353.55" font-size="8.6" fill="#231f20" text-anchor="end" textLength="12.91" lengthAdjust="spacingAndGlyphs" stroke="#231f20">100</text>
<line x1="230.20" y1="412.40" x2="230.20" y2="415.40" stroke="#231f20" stroke-width="0.9" />
<line x1="257.90" y1="412.40" x2="257.90" y2="415.40" stroke="#231f20" stroke-width="0.9" />
<circle cx="223.80" cy="375.97" r="1.3" fill="#c8102e" />
<circle cx="226.00" cy="374.73" r="1.3" fill="#c8102e" />
<circle cx="225.00" cy="374.11" r="1.3" fill="#c8102e" />
<line x1="221.50" y1="374.94" x2="228.50" y2="374.94" stroke="#111" stroke-width="0.9" />
<line x1="225.00" y1="375.97" x2="225.00" y2="374.11" stroke="#111" stroke-width="0.7" />
<line x1="223.70" y1="375.97" x2="226.30" y2="375.97" stroke="#111" stroke-width="0.7" />
<line x1="223.70" y1="374.11" x2="226.30" y2="374.11" stroke="#111" stroke-width="0.7" />
<rect x="233.30" y="369.83" width="2.40" height="2.40" fill="#1c5794" stroke="none" stroke-width="1" />
<rect x="235.50" y="369.21" width="2.40" height="2.40" fill="#1c5794" stroke="none" stroke-width="1" />
<rect x="234.50" y="368.90" width="2.40" height="2.40" fill="#1c5794" stroke="none" stroke-width="1" />
<line x1="232.20" y1="370.51" x2="239.20" y2="370.51" stroke="#111" stroke-width="0.9" />
<line x1="235.70" y1="371.03" x2="235.70" y2="370.10" stroke="#111" stroke-width="0.7" />
<line x1="234.40" y1="371.03" x2="237.00" y2="371.03" stroke="#111" stroke-width="0.7" />
<line x1="234.40" y1="370.10" x2="237.00" y2="370.10" stroke="#111" stroke-width="0.7" />
<circle cx="251.50" cy="391.40" r="1.3" fill="#c8102e" />
<circle cx="253.70" cy="390.17" r="1.3" fill="#c8102e" />
<circle cx="252.70" cy="388.93" r="1.3" fill="#c8102e" />
<line x1="249.20" y1="390.17" x2="256.20" y2="390.17" stroke="#111" stroke-width="0.9" />
<line x1="252.70" y1="391.40" x2="252.70" y2="388.93" stroke="#111" stroke-width="0.7" />
<line x1="251.40" y1="391.40" x2="254.00" y2="391.40" stroke="#111" stroke-width="0.7" />
<line x1="251.40" y1="388.93" x2="254.00" y2="388.93" stroke="#111" stroke-width="0.7" />
<rect x="260.60" y="393.29" width="2.40" height="2.40" fill="#1c5794" stroke="none" stroke-width="1" />
<rect x="262.80" y="392.68" width="2.40" height="2.40" fill="#1c5794" stroke="none" stroke-width="1" />
<rect x="261.80" y="392.06" width="2.40" height="2.40" fill="#1c5794" stroke="none" stroke-width="1" />
<line x1="259.50" y1="393.88" x2="266.50" y2="393.88" stroke="#111" stroke-width="0.9" />
<line x1="263.00" y1="394.49" x2="263.00" y2="393.26" stroke="#111" stroke-width="0.7" />
<line x1="261.70" y1="394.49" x2="264.30" y2="394.49" stroke="#111" stroke-width="0.7" />
<line x1="261.70" y1="393.26" x2="264.30" y2="393.26" stroke="#111" stroke-width="0.7" />
<line x1="222.00" y1="365.00" x2="235.00" y2="365.00" stroke="#231f20" stroke-width="0.9" />
<polygon points="228.50,359.50 228.98,360.64 230.21,360.74 229.27,361.55 229.56,362.76 228.50,362.11 227.44,362.76 227.73,361.55 226.79,360.74 228.02,360.64" stroke="none" stroke-width="1" fill="#111" />
<line x1="252.30" y1="385.20" x2="265.70" y2="385.20" stroke="#231f20" stroke-width="0.9" />
<polygon points="258.90,379.60 259.38,380.74 260.61,380.84 259.67,381.65 259.96,382.86 258.90,382.21 257.84,382.86 258.13,381.65 257.19,380.84 258.42,380.74" stroke="none" stroke-width="1" fill="#111" />
<text x="242.30" y="428.90" font-size="9.8" fill="#231f20" text-anchor="middle" stroke="#231f20">Day 7</text>
<line x1="216.70" y1="428.50" x2="216.70" y2="486.50" stroke="#231f20" stroke-width="1.35" />
<line x1="216.20" y1="486.00" x2="269.00" y2="486.00" stroke="#231f20" stroke-width="1.35" />
<line x1="213.70" y1="486.00" x2="216.70" y2="486.00" stroke="#231f20" stroke-width="0.9" />
<text x="212.90" y="488.90" font-size="8.6" fill="#231f20" text-anchor="end" textLength="4.3" lengthAdjust="spacingAndGlyphs" stroke="#231f20">0</text>
<line x1="213.70" y1="475.24" x2="216.70" y2="475.24" stroke="#231f20" stroke-width="0.9" />
<text x="212.90" y="478.14" font-size="8.6" fill="#231f20" text-anchor="end" textLength="8.61" lengthAdjust="spacingAndGlyphs" stroke="#231f20">20</text>
<line x1="213.70" y1="464.48" x2="216.70" y2="464.48" stroke="#231f20" stroke-width="0.9" />
<text x="212.90" y="467.38" font-size="8.6" fill="#231f20" text-anchor="end" textLength="8.61" lengthAdjust="spacingAndGlyphs" stroke="#231f20">40</text>
<line x1="213.70" y1="453.72" x2="216.70" y2="453.72" stroke="#231f20" stroke-width="0.9" />
<text x="212.90" y="456.62" font-size="8.6" fill="#231f20" text-anchor="end" textLength="8.61" lengthAdjust="spacingAndGlyphs" stroke="#231f20">60</text>
<line x1="213.70" y1="442.96" x2="216.70" y2="442.96" stroke="#231f20" stroke-width="0.9" />
<text x="212.90" y="445.86" font-size="8.6" fill="#231f20" text-anchor="end" textLength="8.61" lengthAdjust="spacingAndGlyphs" stroke="#231f20">80</text>
<line x1="213.70" y1="432.20" x2="216.70" y2="432.20" stroke="#231f20" stroke-width="0.9" />
<text x="212.90" y="435.10" font-size="8.6" fill="#231f20" text-anchor="end" textLength="12.91" lengthAdjust="spacingAndGlyphs" stroke="#231f20">100</text>
<line x1="230.20" y1="486.00" x2="230.20" y2="489.00" stroke="#231f20" stroke-width="0.9" />
<line x1="258.00" y1="486.00" x2="258.00" y2="489.00" stroke="#231f20" stroke-width="0.9" />
<circle cx="223.50" cy="446.19" r="1.3" fill="#c8102e" />
<circle cx="225.70" cy="445.11" r="1.3" fill="#c8102e" />
<circle cx="224.70" cy="443.50" r="1.3" fill="#c8102e" />
<line x1="221.20" y1="444.93" x2="228.20" y2="444.93" stroke="#111" stroke-width="0.9" />
<line x1="224.70" y1="446.19" x2="224.70" y2="443.50" stroke="#111" stroke-width="0.7" />
<line x1="223.40" y1="446.19" x2="226.00" y2="446.19" stroke="#111" stroke-width="0.7" />
<line x1="223.40" y1="443.50" x2="226.00" y2="443.50" stroke="#111" stroke-width="0.7" />
<rect x="232.60" y="449.83" width="2.40" height="2.40" fill="#1c5794" stroke="none" stroke-width="1" />
<rect x="234.80" y="447.14" width="2.40" height="2.40" fill="#1c5794" stroke="none" stroke-width="1" />
<rect x="233.80" y="444.45" width="2.40" height="2.40" fill="#1c5794" stroke="none" stroke-width="1" />
<rect x="235.30" y="443.91" width="2.40" height="2.40" fill="#1c5794" stroke="none" stroke-width="1" />
<line x1="231.50" y1="447.53" x2="238.50" y2="447.53" stroke="#111" stroke-width="0.9" />
<line x1="235.00" y1="451.03" x2="235.00" y2="445.11" stroke="#111" stroke-width="0.7" />
<line x1="233.70" y1="451.03" x2="236.30" y2="451.03" stroke="#111" stroke-width="0.7" />
<line x1="233.70" y1="445.11" x2="236.30" y2="445.11" stroke="#111" stroke-width="0.7" />
<circle cx="249.80" cy="475.78" r="1.3" fill="#c8102e" />
<circle cx="252.00" cy="474.70" r="1.3" fill="#c8102e" />
<circle cx="251.00" cy="473.09" r="1.3" fill="#c8102e" />
<line x1="247.50" y1="474.52" x2="254.50" y2="474.52" stroke="#111" stroke-width="0.9" />
<line x1="251.00" y1="475.78" x2="251.00" y2="473.09" stroke="#111" stroke-width="0.7" />
<line x1="249.70" y1="475.78" x2="252.30" y2="475.78" stroke="#111" stroke-width="0.7" />
<line x1="249.70" y1="473.09" x2="252.30" y2="473.09" stroke="#111" stroke-width="0.7" />
<rect x="258.90" y="473.50" width="2.40" height="2.40" fill="#1c5794" stroke="none" stroke-width="1" />
<rect x="261.10" y="471.89" width="2.40" height="2.40" fill="#1c5794" stroke="none" stroke-width="1" />
<rect x="260.10" y="470.27" width="2.40" height="2.40" fill="#1c5794" stroke="none" stroke-width="1" />
<rect x="261.60" y="467.05" width="2.40" height="2.40" fill="#1c5794" stroke="none" stroke-width="1" />
<line x1="257.80" y1="471.88" x2="264.80" y2="471.88" stroke="#111" stroke-width="0.9" />
<line x1="261.30" y1="474.70" x2="261.30" y2="468.25" stroke="#111" stroke-width="0.7" />
<line x1="260.00" y1="474.70" x2="262.60" y2="474.70" stroke="#111" stroke-width="0.7" />
<line x1="260.00" y1="468.25" x2="262.60" y2="468.25" stroke="#111" stroke-width="0.7" />
<text x="225.80" y="498.80" font-size="8.4" fill="#231f20" text-anchor="middle" stroke="#231f20">G0/G1</text>
<text x="260.00" y="498.80" font-size="8.4" fill="#231f20" text-anchor="middle" stroke="#231f20">S/G2/M</text>
<circle cx="210.60" cy="508.80" r="1.4" fill="#c8102e" />
<text x="215.40" y="511.30" font-size="7.3" fill="#231f20" textLength="17.26" lengthAdjust="spacingAndGlyphs" stroke="#231f20">Cntrl</text>
<rect x="240.10" y="507.40" width="2.80" height="2.80" fill="#1c5794" stroke="none" stroke-width="1" />
<text x="246.40" y="511.30" font-size="7.3" fill="#231f20" stroke="#231f20">PLAG1-S</text>
<text x="288.00" y="339.00" font-size="11.5" fill="#000" font-weight="bold" textLength="6.18" lengthAdjust="spacingAndGlyphs" stroke="#000">F</text>
<text x="348.80" y="342.90" font-size="9.6" fill="#231f20" text-anchor="middle" stroke="#231f20">Cntrl</text>
<text x="409.00" y="342.90" font-size="9.6" fill="#231f20" text-anchor="middle" stroke="#231f20">PLAG1-S</text>
<line x1="316.40" y1="345.50" x2="316.40" y2="408.60" stroke="#222" stroke-width="1" />
<polygon points="316.40,342.60 314.40,346.20 318.40,346.20" stroke="none" stroke-width="1" fill="#111" />
<line x1="316.00" y1="408.60" x2="438.00" y2="408.60" stroke="#222" stroke-width="1" />
<polygon points="441.40,408.60 437.80,406.60 437.80,410.60" stroke="none" stroke-width="1" fill="#111" />
<text x="313.00" y="385.30" font-size="8.2" fill="#231f20" textLength="19.7" lengthAdjust="spacingAndGlyphs" transform="rotate(-90 313.00 385.30)" stroke="#231f20">7-AAD</text>
<text x="378.70" y="418.90" font-size="9.5" fill="#231f20" text-anchor="middle" textLength="34.7" lengthAdjust="spacingAndGlyphs" stroke="#231f20">Annexin V</text>
<circle cx="345.97" cy="383.95" r="0.4" fill="#e02828" opacity="0.7"/>
<circle cx="343.39" cy="390.39" r="0.4" fill="#e02828" opacity="0.7"/>
<circle cx="344.53" cy="387.90" r="0.4" fill="#e02828" opacity="0.7"/>
<circle cx="348.67" cy="389.93" r="0.4" fill="#e02828" opacity="0.7"/>
<circle cx="340.49" cy="384.90" r="0.4" fill="#e02828" opacity="0.7"/>
<circle cx="353.85" cy="384.84" r="0.4" fill="#e02828" opacity="0.7"/>
<circle cx="337.08" cy="381.45" r="0.4" fill="#e02828" opacity="0.7"/>
<circle cx="341.48" cy="386.58" r="0.4" fill="#e02828" opacity="0.7"/>
<circle cx="339.28" cy="385.75" r="0.4" fill="#e02828" opacity="0.7"/>
<circle cx="342.37" cy="388.77" r="0.4" fill="#e02828" opacity="0.7"/>
<circle cx="346.48" cy="386.84" r="0.4" fill="#e02828" opacity="0.7"/>
<circle cx="337.11" cy="386.86" r="0.4" fill="#e02828" opacity="0.7"/>
<circle cx="357.50" cy="385.81" r="0.4" fill="#e02828" opacity="0.7"/>
<circle cx="345.21" cy="380.71" r="0.4" fill="#e02828" opacity="0.7"/>
<circle cx="339.56" cy="388.65" r="0.4" fill="#e02828" opacity="0.7"/>
<circle cx="340.54" cy="387.48" r="0.4" fill="#e02828" opacity="0.7"/>
<circle cx="341.52" cy="381.98" r="0.4" fill="#e02828" opacity="0.7"/>
<circle cx="343.82" cy="382.75" r="0.4" fill="#e02828" opacity="0.7"/>
<circle cx="350.36" cy="383.98" r="0.4" fill="#e02828" opacity="0.7"/>
<circle cx="344.43" cy="386.01" r="0.4" fill="#e02828" opacity="0.7"/>
<circle cx="345.76" cy="383.59" r="0.4" fill="#e02828" opacity="0.7"/>
<circle cx="345.99" cy="385.50" r="0.4" fill="#e02828" opacity="0.7"/>
<circle cx="347.32" cy="388.50" r="0.4" fill="#e02828" opacity="0.7"/>
<circle cx="341.71" cy="382.88" r="0.4" fill="#e02828" opacity="0.7"/>
<circle cx="344.84" cy="387.87" r="0.4" fill="#e02828" opacity="0.7"/>
<circle cx="349.21" cy="384.49" r="0.4" fill="#e02828" opacity="0.7"/>
<circle cx="343.77" cy="388.03" r="0.4" fill="#e02828" opacity="0.7"/>
<circle cx="342.41" cy="386.83" r="0.4" fill="#e02828" opacity="0.7"/>
<circle cx="341.91" cy="383.61" r="0.4" fill="#e02828" opacity="0.7"/>
<circle cx="335.93" cy="384.41" r="0.4" fill="#e02828" opacity="0.7"/>
<circle cx="343.95" cy="392.04" r="0.4" fill="#e02828" opacity="0.7"/>
<circle cx="345.89" cy="390.21" r="0.4" fill="#e02828" opacity="0.7"/>
<circle cx="344.89" cy="388.79" r="0.4" fill="#e02828" opacity="0.7"/>
<circle cx="341.92" cy="389.09" r="0.4" fill="#e02828" opacity="0.7"/>
<circle cx="349.87" cy="384.69" r="0.4" fill="#e02828" opacity="0.7"/>
<circle cx="337.53" cy="393.84" r="0.4" fill="#e02828" opacity="0.7"/>
<circle cx="342.22" cy="389.88" r="0.4" fill="#e02828" opacity="0.7"/>
<circle cx="345.37" cy="381.46" r="0.4" fill="#e02828" opacity="0.7"/>
<circle cx="353.17" cy="393.10" r="0.4" fill="#e02828" opacity="0.7"/>
<circle cx="341.88" cy="389.01" r="0.4" fill="#e02828" opacity="0.7"/>
<circle cx="341.63" cy="382.46" r="0.4" fill="#e02828" opacity="0.7"/>
<circle cx="340.44" cy="387.50" r="0.4" fill="#e02828" opacity="0.7"/>
<circle cx="346.58" cy="388.84" r="0.4" fill="#e02828" opacity="0.7"/>
<circle cx="341.30" cy="391.42" r="0.4" fill="#e02828" opacity="0.7"/>
<circle cx="337.20" cy="389.17" r="0.4" fill="#e02828" opacity="0.7"/>
<circle cx="346.56" cy="384.83" r="0.4" fill="#e02828" opacity="0.7"/>
<circle cx="342.19" cy="388.11" r="0.4" fill="#e02828" opacity="0.7"/>
<circle cx="348.74" cy="381.98" r="0.4" fill="#e02828" opacity="0.7"/>
<circle cx="341.01" cy="388.60" r="0.4" fill="#e02828" opacity="0.7"/>
<circle cx="340.21" cy="376.52" r="0.4" fill="#e02828" opacity="0.7"/>
<circle cx="345.03" cy="395.25" r="0.4" fill="#e02828" opacity="0.7"/>
<circle cx="346.02" cy="382.33" r="0.4" fill="#e02828" opacity="0.7"/>
<circle cx="338.94" cy="386.89" r="0.4" fill="#e02828" opacity="0.7"/>
<circle cx="353.45" cy="388.47" r="0.4" fill="#e02828" opacity="0.7"/>
<circle cx="341.57" cy="392.23" r="0.4" fill="#e02828" opacity="0.7"/>
<circle cx="340.59" cy="393.45" r="0.4" fill="#e02828" opacity="0.7"/>
<circle cx="337.57" cy="384.10" r="0.4" fill="#e02828" opacity="0.7"/>
<circle cx="344.60" cy="391.70" r="0.4" fill="#e02828" opacity="0.7"/>
<circle cx="344.27" cy="387.21" r="0.4" fill="#e02828" opacity="0.7"/>
<circle cx="337.95" cy="383.87" r="0.4" fill="#e02828" opacity="0.7"/>
<circle cx="343.93" cy="384.66" r="0.4" fill="#e02828" opacity="0.7"/>
<circle cx="344.94" cy="386.33" r="0.4" fill="#e02828" opacity="0.7"/>
<circle cx="339.34" cy="386.47" r="0.4" fill="#e02828" opacity="0.7"/>
<circle cx="343.14" cy="389.43" r="0.4" fill="#e02828" opacity="0.7"/>
<circle cx="338.61" cy="385.07" r="0.4" fill="#e02828" opacity="0.7"/>
<circle cx="348.26" cy="385.28" r="0.4" fill="#e02828" opacity="0.7"/>
<circle cx="338.61" cy="381.06" r="0.4" fill="#e02828" opacity="0.7"/>
<circle cx="341.85" cy="386.83" r="0.4" fill="#e02828" opacity="0.7"/>
<circle cx="351.91" cy="386.99" r="0.4" fill="#e02828" opacity="0.7"/>
<circle cx="337.11" cy="376.22" r="0.4" fill="#e02828" opacity="0.7"/>
<circle cx="348.05" cy="386.76" r="0.4" fill="#e02828" opacity="0.7"/>
<circle cx="346.59" cy="388.29" r="0.4" fill="#e02828" opacity="0.7"/>
<circle cx="340.12" cy="377.44" r="0.4" fill="#e02828" opacity="0.7"/>
<circle cx="340.37" cy="379.78" r="0.4" fill="#e02828" opacity="0.7"/>
<circle cx="343.98" cy="377.44" r="0.4" fill="#e02828" opacity="0.7"/>
<circle cx="336.46" cy="390.88" r="0.4" fill="#e02828" opacity="0.7"/>
<circle cx="349.22" cy="381.28" r="0.4" fill="#e02828" opacity="0.7"/>
<circle cx="345.27" cy="382.05" r="0.4" fill="#e02828" opacity="0.7"/>
<circle cx="337.53" cy="383.22" r="0.4" fill="#e02828" opacity="0.7"/>
<circle cx="347.25" cy="388.76" r="0.4" fill="#e02828" opacity="0.7"/>
<circle cx="351.28" cy="385.65" r="0.4" fill="#e02828" opacity="0.7"/>
<circle cx="340.32" cy="382.07" r="0.4" fill="#e02828" opacity="0.7"/>
<circle cx="340.38" cy="380.75" r="0.4" fill="#e02828" opacity="0.7"/>
<circle cx="348.20" cy="389.35" r="0.4" fill="#e02828" opacity="0.7"/>
<circle cx="347.66" cy="387.01" r="0.4" fill="#e02828" opacity="0.7"/>
<circle cx="337.41" cy="386.35" r="0.4" fill="#e02828" opacity="0.7"/>
<circle cx="339.13" cy="381.55" r="0.4" fill="#e02828" opacity="0.7"/>
<circle cx="340.97" cy="386.60" r="0.4" fill="#e02828" opacity="0.7"/>
<circle cx="338.63" cy="391.72" r="0.4" fill="#e02828" opacity="0.7"/>
<circle cx="341.89" cy="388.33" r="0.4" fill="#e02828" opacity="0.7"/>
<circle cx="364.19" cy="377.26" r="0.4" fill="#e83030" opacity="0.55"/>
<circle cx="345.12" cy="392.18" r="0.4" fill="#e83030" opacity="0.55"/>
<circle cx="355.38" cy="390.05" r="0.4" fill="#e83030" opacity="0.55"/>
<circle cx="359.64" cy="368.44" r="0.4" fill="#e83030" opacity="0.55"/>
<circle cx="359.19" cy="378.29" r="0.4" fill="#e83030" opacity="0.55"/>
<circle cx="344.44" cy="379.95" r="0.4" fill="#e83030" opacity="0.55"/>
<circle cx="359.68" cy="389.19" r="0.4" fill="#e83030" opacity="0.55"/>
<circle cx="362.11" cy="371.38" r="0.4" fill="#e83030" opacity="0.55"/>
<circle cx="346.09" cy="366.37" r="0.4" fill="#e83030" opacity="0.55"/>
<circle cx="350.98" cy="387.20" r="0.4" fill="#e83030" opacity="0.55"/>
<circle cx="344.36" cy="384.71" r="0.4" fill="#e83030" opacity="0.55"/>
<circle cx="354.31" cy="390.05" r="0.4" fill="#e83030" opacity="0.55"/>
<circle cx="343.79" cy="377.20" r="0.4" fill="#e83030" opacity="0.55"/>
<circle cx="344.37" cy="395.27" r="0.4" fill="#e83030" opacity="0.55"/>
<circle cx="362.91" cy="382.13" r="0.4" fill="#e83030" opacity="0.55"/>
<circle cx="354.26" cy="383.80" r="0.4" fill="#e83030" opacity="0.55"/>
<circle cx="354.03" cy="381.54" r="0.4" fill="#e83030" opacity="0.55"/>
<circle cx="348.66" cy="374.20" r="0.4" fill="#e83030" opacity="0.55"/>
<circle cx="345.58" cy="394.55" r="0.4" fill="#e83030" opacity="0.55"/>
<circle cx="357.37" cy="383.45" r="0.4" fill="#e83030" opacity="0.55"/>
<circle cx="349.85" cy="383.44" r="0.4" fill="#e83030" opacity="0.55"/>
<circle cx="355.53" cy="378.48" r="0.4" fill="#e83030" opacity="0.55"/>
<circle cx="353.96" cy="384.68" r="0.4" fill="#e83030" opacity="0.55"/>
<circle cx="344.51" cy="377.48" r="0.4" fill="#e83030" opacity="0.55"/>
<circle cx="342.01" cy="375.56" r="0.4" fill="#e83030" opacity="0.55"/>
<circle cx="360.90" cy="366.48" r="0.4" fill="#e83030" opacity="0.55"/>
<circle cx="349.33" cy="378.72" r="0.4" fill="#e83030" opacity="0.55"/>
<circle cx="345.80" cy="383.68" r="0.4" fill="#e83030" opacity="0.55"/>
<circle cx="363.28" cy="383.53" r="0.4" fill="#e83030" opacity="0.55"/>
<circle cx="350.60" cy="378.71" r="0.4" fill="#e83030" opacity="0.55"/>
<circle cx="350.71" cy="389.38" r="0.4" fill="#e83030" opacity="0.55"/>
<circle cx="348.06" cy="374.97" r="0.4" fill="#e83030" opacity="0.55"/>
<circle cx="339.36" cy="375.25" r="0.4" fill="#e83030" opacity="0.55"/>
<circle cx="338.10" cy="390.69" r="0.4" fill="#e83030" opacity="0.55"/>
<circle cx="355.55" cy="381.34" r="0.4" fill="#e83030" opacity="0.55"/>
<circle cx="366.60" cy="378.40" r="0.4" fill="#e83030" opacity="0.55"/>
<circle cx="359.53" cy="388.61" r="0.4" fill="#e83030" opacity="0.55"/>
<circle cx="336.54" cy="372.10" r="0.4" fill="#e83030" opacity="0.55"/>
<circle cx="342.72" cy="389.35" r="0.4" fill="#e83030" opacity="0.55"/>
<circle cx="364.96" cy="374.41" r="0.4" fill="#e83030" opacity="0.55"/>
<circle cx="362.49" cy="380.32" r="0.4" fill="#e83030" opacity="0.55"/>
<circle cx="348.07" cy="379.14" r="0.4" fill="#e83030" opacity="0.55"/>
<circle cx="348.76" cy="370.27" r="0.4" fill="#e83030" opacity="0.55"/>
<circle cx="341.99" cy="374.35" r="0.4" fill="#e83030" opacity="0.55"/>
<circle cx="356.90" cy="397.62" r="0.4" fill="#e83030" opacity="0.55"/>
<circle cx="342.61" cy="396.88" r="0.4" fill="#e83030" opacity="0.55"/>
<circle cx="357.71" cy="377.90" r="0.4" fill="#e83030" opacity="0.55"/>
<circle cx="361.36" cy="386.75" r="0.4" fill="#e83030" opacity="0.55"/>
<circle cx="349.61" cy="383.13" r="0.4" fill="#e83030" opacity="0.55"/>
<circle cx="353.32" cy="380.63" r="0.4" fill="#e83030" opacity="0.55"/>
<circle cx="353.90" cy="378.90" r="0.4" fill="#e83030" opacity="0.55"/>
<circle cx="343.03" cy="393.61" r="0.4" fill="#e83030" opacity="0.55"/>
<circle cx="355.60" cy="386.07" r="0.4" fill="#e83030" opacity="0.55"/>
<circle cx="336.05" cy="381.84" r="0.4" fill="#e83030" opacity="0.55"/>
<circle cx="360.19" cy="373.96" r="0.4" fill="#e83030" opacity="0.55"/>
<circle cx="362.98" cy="380.27" r="0.4" fill="#e83030" opacity="0.55"/>
<circle cx="356.03" cy="382.07" r="0.4" fill="#e83030" opacity="0.55"/>
<circle cx="354.18" cy="391.42" r="0.4" fill="#e83030" opacity="0.55"/>
<circle cx="347.97" cy="393.95" r="0.4" fill="#e83030" opacity="0.55"/>
<circle cx="344.18" cy="376.48" r="0.4" fill="#e83030" opacity="0.55"/>
<circle cx="359.11" cy="375.54" r="0.4" fill="#e83030" opacity="0.55"/>
<circle cx="348.30" cy="389.35" r="0.4" fill="#e83030" opacity="0.55"/>
<circle cx="364.10" cy="370.58" r="0.4" fill="#e83030" opacity="0.55"/>
<circle cx="357.06" cy="396.19" r="0.4" fill="#e83030" opacity="0.55"/>
<circle cx="363.95" cy="381.32" r="0.4" fill="#e83030" opacity="0.55"/>
<circle cx="345.99" cy="380.92" r="0.4" fill="#e83030" opacity="0.55"/>
<circle cx="340.47" cy="381.15" r="0.4" fill="#e83030" opacity="0.55"/>
<circle cx="350.13" cy="381.98" r="0.4" fill="#e83030" opacity="0.55"/>
<circle cx="363.83" cy="381.39" r="0.4" fill="#e83030" opacity="0.55"/>
<circle cx="337.42" cy="390.36" r="0.4" fill="#e83030" opacity="0.55"/>
<circle cx="341.27" cy="379.87" r="0.4" fill="#e83030" opacity="0.55"/>
<circle cx="350.66" cy="380.59" r="0.4" fill="#e83030" opacity="0.55"/>
<circle cx="341.97" cy="381.26" r="0.4" fill="#e83030" opacity="0.55"/>
<circle cx="373.84" cy="378.75" r="0.4" fill="#e83030" opacity="0.55"/>
<circle cx="350.64" cy="390.87" r="0.4" fill="#e83030" opacity="0.55"/>
<circle cx="359.45" cy="388.34" r="0.4" fill="#e83030" opacity="0.55"/>
<circle cx="360.62" cy="369.22" r="0.4" fill="#e83030" opacity="0.55"/>
<circle cx="343.36" cy="383.90" r="0.4" fill="#e83030" opacity="0.55"/>
<circle cx="356.99" cy="392.06" r="0.4" fill="#e83030" opacity="0.55"/>
<circle cx="356.70" cy="381.33" r="0.4" fill="#e83030" opacity="0.55"/>
<circle cx="352.39" cy="381.52" r="0.4" fill="#e83030" opacity="0.55"/>
<circle cx="354.47" cy="387.72" r="0.4" fill="#e83030" opacity="0.55"/>
<circle cx="348.60" cy="377.30" r="0.4" fill="#e83030" opacity="0.55"/>
<circle cx="343.45" cy="390.68" r="0.4" fill="#e83030" opacity="0.55"/>
<circle cx="364.81" cy="389.95" r="0.4" fill="#e83030" opacity="0.55"/>
<circle cx="360.57" cy="388.83" r="0.4" fill="#e83030" opacity="0.55"/>
<circle cx="351.98" cy="387.65" r="0.4" fill="#e83030" opacity="0.55"/>
<circle cx="341.48" cy="381.58" r="0.4" fill="#e83030" opacity="0.55"/>
<circle cx="344.66" cy="388.09" r="0.4" fill="#e83030" opacity="0.55"/>
<circle cx="346.20" cy="382.24" r="0.4" fill="#e83030" opacity="0.55"/>
<circle cx="356.00" cy="392.48" r="0.4" fill="#e83030" opacity="0.55"/>
<circle cx="344.08" cy="376.43" r="0.4" fill="#e83030" opacity="0.55"/>
<circle cx="360.17" cy="375.26" r="0.4" fill="#e83030" opacity="0.55"/>
<circle cx="356.52" cy="379.01" r="0.4" fill="#e83030" opacity="0.55"/>
<circle cx="350.94" cy="370.25" r="0.4" fill="#e83030" opacity="0.55"/>
<circle cx="359.13" cy="379.50" r="0.4" fill="#e83030" opacity="0.55"/>
<circle cx="343.01" cy="397.54" r="0.4" fill="#e83030" opacity="0.55"/>
<circle cx="356.08" cy="380.56" r="0.4" fill="#e83030" opacity="0.55"/>
<circle cx="353.08" cy="394.25" r="0.4" fill="#e83030" opacity="0.55"/>
<circle cx="351.73" cy="386.16" r="0.4" fill="#e83030" opacity="0.55"/>
<circle cx="357.17" cy="376.63" r="0.4" fill="#e83030" opacity="0.55"/>
<circle cx="353.29" cy="379.48" r="0.4" fill="#e83030" opacity="0.55"/>
<circle cx="339.55" cy="389.10" r="0.4" fill="#e83030" opacity="0.55"/>
<circle cx="358.66" cy="383.52" r="0.4" fill="#e83030" opacity="0.55"/>
<circle cx="342.93" cy="368.96" r="0.4" fill="#e83030" opacity="0.55"/>
<circle cx="356.85" cy="382.32" r="0.4" fill="#e83030" opacity="0.55"/>
<circle cx="336.79" cy="382.81" r="0.4" fill="#e83030" opacity="0.55"/>
<circle cx="353.43" cy="385.48" r="0.4" fill="#e83030" opacity="0.55"/>
<circle cx="354.17" cy="384.20" r="0.4" fill="#e83030" opacity="0.55"/>
<circle cx="340.60" cy="380.31" r="0.4" fill="#e83030" opacity="0.55"/>
<circle cx="346.89" cy="381.35" r="0.4" fill="#e83030" opacity="0.55"/>
<circle cx="354.70" cy="387.33" r="0.4" fill="#e83030" opacity="0.55"/>
<circle cx="368.35" cy="365.02" r="0.4" fill="#e83030" opacity="0.55"/>
<circle cx="356.01" cy="381.61" r="0.4" fill="#e83030" opacity="0.55"/>
<circle cx="374.76" cy="389.53" r="0.4" fill="#e83030" opacity="0.55"/>
<circle cx="346.79" cy="389.96" r="0.4" fill="#e83030" opacity="0.55"/>
<circle cx="341.44" cy="382.29" r="0.4" fill="#e83030" opacity="0.55"/>
<circle cx="350.68" cy="382.32" r="0.4" fill="#e83030" opacity="0.55"/>
<circle cx="346.16" cy="370.13" r="0.4" fill="#e83030" opacity="0.55"/>
<circle cx="356.60" cy="389.99" r="0.4" fill="#e83030" opacity="0.55"/>
<circle cx="351.32" cy="375.88" r="0.4" fill="#e83030" opacity="0.55"/>
<circle cx="354.03" cy="386.96" r="0.4" fill="#e83030" opacity="0.55"/>
<circle cx="350.24" cy="382.90" r="0.4" fill="#e83030" opacity="0.55"/>
<circle cx="366.09" cy="375.17" r="0.4" fill="#e83030" opacity="0.55"/>
<circle cx="346.42" cy="369.66" r="0.4" fill="#e83030" opacity="0.55"/>
<circle cx="345.00" cy="377.82" r="0.4" fill="#e83030" opacity="0.55"/>
<circle cx="342.40" cy="378.14" r="0.4" fill="#e83030" opacity="0.55"/>
<circle cx="369.97" cy="381.63" r="0.4" fill="#e83030" opacity="0.55"/>
<circle cx="350.86" cy="398.39" r="0.4" fill="#e83030" opacity="0.55"/>
<circle cx="351.39" cy="370.86" r="0.4" fill="#e83030" opacity="0.55"/>
<circle cx="366.82" cy="356.38" r="0.4" fill="#e83030" opacity="0.5"/>
<circle cx="375.47" cy="354.52" r="0.4" fill="#e83030" opacity="0.5"/>
<circle cx="359.94" cy="352.36" r="0.4" fill="#e83030" opacity="0.5"/>
<circle cx="364.68" cy="355.91" r="0.4" fill="#e83030" opacity="0.5"/>
<circle cx="363.54" cy="359.74" r="0.4" fill="#e83030" opacity="0.5"/>
<circle cx="359.71" cy="367.66" r="0.4" fill="#e83030" opacity="0.5"/>
<circle cx="370.55" cy="362.37" r="0.4" fill="#e83030" opacity="0.5"/>
<circle cx="357.70" cy="355.58" r="0.4" fill="#e83030" opacity="0.5"/>
<circle cx="360.80" cy="357.29" r="0.4" fill="#e83030" opacity="0.5"/>
<circle cx="359.12" cy="355.43" r="0.4" fill="#e83030" opacity="0.5"/>
<circle cx="357.19" cy="360.77" r="0.4" fill="#e83030" opacity="0.5"/>
<circle cx="374.04" cy="361.99" r="0.4" fill="#e83030" opacity="0.5"/>
<circle cx="360.42" cy="352.31" r="0.4" fill="#e83030" opacity="0.5"/>
<circle cx="365.49" cy="361.84" r="0.4" fill="#e83030" opacity="0.5"/>
<circle cx="355.42" cy="355.48" r="0.4" fill="#e83030" opacity="0.5"/>
<circle cx="363.70" cy="368.07" r="0.4" fill="#e83030" opacity="0.5"/>
<circle cx="368.39" cy="363.23" r="0.4" fill="#e83030" opacity="0.5"/>
<circle cx="361.74" cy="363.92" r="0.4" fill="#e83030" opacity="0.5"/>
<circle cx="356.07" cy="359.79" r="0.4" fill="#e83030" opacity="0.5"/>
<circle cx="372.88" cy="360.41" r="0.4" fill="#e83030" opacity="0.5"/>
<circle cx="373.97" cy="361.74" r="0.4" fill="#e83030" opacity="0.5"/>
<circle cx="365.02" cy="359.78" r="0.4" fill="#e83030" opacity="0.5"/>
<circle cx="354.34" cy="356.18" r="0.4" fill="#e83030" opacity="0.5"/>
<circle cx="368.24" cy="367.72" r="0.4" fill="#e83030" opacity="0.5"/>
<circle cx="367.98" cy="368.13" r="0.4" fill="#e83030" opacity="0.5"/>
<circle cx="362.14" cy="360.66" r="0.4" fill="#e83030" opacity="0.5"/>
<circle cx="370.89" cy="359.89" r="0.4" fill="#e83030" opacity="0.5"/>
<circle cx="354.69" cy="360.64" r="0.4" fill="#e83030" opacity="0.5"/>
<circle cx="360.19" cy="365.68" r="0.4" fill="#e83030" opacity="0.5"/>
<circle cx="358.96" cy="355.63" r="0.4" fill="#e83030" opacity="0.5"/>
<circle cx="361.68" cy="371.32" r="0.4" fill="#e83030" opacity="0.5"/>
<circle cx="363.66" cy="362.97" r="0.4" fill="#e83030" opacity="0.5"/>
<circle cx="364.06" cy="363.77" r="0.4" fill="#e83030" opacity="0.5"/>
<circle cx="370.50" cy="370.37" r="0.4" fill="#e83030" opacity="0.5"/>
<circle cx="352.49" cy="370.17" r="0.4" fill="#e83030" opacity="0.5"/>
<circle cx="363.98" cy="360.08" r="0.4" fill="#e83030" opacity="0.5"/>
<circle cx="356.79" cy="364.93" r="0.4" fill="#e83030" opacity="0.5"/>
<circle cx="369.16" cy="361.25" r="0.4" fill="#e83030" opacity="0.5"/>
<circle cx="347.70" cy="359.94" r="0.4" fill="#e83030" opacity="0.5"/>
<circle cx="362.66" cy="355.35" r="0.4" fill="#e83030" opacity="0.5"/>
<circle cx="376.78" cy="360.53" r="0.4" fill="#e83030" opacity="0.5"/>
<circle cx="361.25" cy="360.20" r="0.4" fill="#e83030" opacity="0.5"/>
<circle cx="358.52" cy="357.34" r="0.4" fill="#e83030" opacity="0.5"/>
<circle cx="364.66" cy="363.88" r="0.4" fill="#e83030" opacity="0.5"/>
<circle cx="360.45" cy="361.46" r="0.4" fill="#e83030" opacity="0.5"/>
<circle cx="354.27" cy="365.13" r="0.4" fill="#e83030" opacity="0.5"/>
<circle cx="358.75" cy="363.29" r="0.4" fill="#e83030" opacity="0.5"/>
<circle cx="357.65" cy="358.91" r="0.4" fill="#e83030" opacity="0.5"/>
<circle cx="365.51" cy="354.73" r="0.4" fill="#e83030" opacity="0.5"/>
<circle cx="363.49" cy="357.59" r="0.4" fill="#e83030" opacity="0.5"/>
<circle cx="375.16" cy="370.32" r="0.4" fill="#e83030" opacity="0.5"/>
<circle cx="366.10" cy="353.79" r="0.4" fill="#e83030" opacity="0.5"/>
<circle cx="360.47" cy="365.70" r="0.4" fill="#e83030" opacity="0.5"/>
<circle cx="360.42" cy="354.90" r="0.4" fill="#e83030" opacity="0.5"/>
<circle cx="355.69" cy="357.37" r="0.4" fill="#e83030" opacity="0.5"/>
<circle cx="364.10" cy="358.11" r="0.4" fill="#e83030" opacity="0.5"/>
<circle cx="376.41" cy="355.77" r="0.4" fill="#e83030" opacity="0.5"/>
<circle cx="366.40" cy="362.52" r="0.4" fill="#e83030" opacity="0.5"/>
<circle cx="363.03" cy="368.26" r="0.4" fill="#e83030" opacity="0.5"/>
<circle cx="361.67" cy="360.05" r="0.4" fill="#e83030" opacity="0.5"/>
<g filter="url(#blur2)"><ellipse cx="333.9" cy="385.8" rx="1.5" ry="4.6" fill="#e00000"/><rect x="335" y="381" width="4" height="9" fill="#f05050" opacity="0.25"/></g>
<circle cx="399.13" cy="382.50" r="0.4" fill="#333" opacity="0.6"/>
<circle cx="407.43" cy="386.88" r="0.4" fill="#333" opacity="0.6"/>
<circle cx="397.01" cy="387.08" r="0.4" fill="#333" opacity="0.6"/>
<circle cx="402.12" cy="387.45" r="0.4" fill="#333" opacity="0.6"/>
<circle cx="400.69" cy="373.46" r="0.4" fill="#333" opacity="0.6"/>
<circle cx="403.26" cy="384.14" r="0.4" fill="#333" opacity="0.6"/>
<circle cx="403.54" cy="376.49" r="0.4" fill="#333" opacity="0.6"/>
<circle cx="401.41" cy="379.56" r="0.4" fill="#333" opacity="0.6"/>
<circle cx="397.56" cy="384.77" r="0.4" fill="#333" opacity="0.6"/>
<circle cx="402.76" cy="378.54" r="0.4" fill="#333" opacity="0.6"/>
<circle cx="398.12" cy="388.61" r="0.4" fill="#333" opacity="0.6"/>
<circle cx="400.72" cy="371.74" r="0.4" fill="#333" opacity="0.6"/>
<circle cx="396.69" cy="385.11" r="0.4" fill="#333" opacity="0.6"/>
<circle cx="409.36" cy="388.84" r="0.4" fill="#333" opacity="0.6"/>
<circle cx="402.83" cy="383.99" r="0.4" fill="#333" opacity="0.6"/>
<circle cx="399.33" cy="379.13" r="0.4" fill="#333" opacity="0.6"/>
<circle cx="401.32" cy="381.04" r="0.4" fill="#333" opacity="0.6"/>
<circle cx="402.69" cy="390.17" r="0.4" fill="#333" opacity="0.6"/>
<circle cx="404.71" cy="385.09" r="0.4" fill="#333" opacity="0.6"/>
<circle cx="399.80" cy="375.40" r="0.4" fill="#333" opacity="0.6"/>
<circle cx="400.43" cy="385.72" r="0.4" fill="#333" opacity="0.6"/>
<circle cx="399.33" cy="384.86" r="0.4" fill="#333" opacity="0.6"/>
<circle cx="399.36" cy="376.72" r="0.4" fill="#333" opacity="0.6"/>
<circle cx="411.34" cy="377.19" r="0.4" fill="#333" opacity="0.6"/>
<circle cx="405.59" cy="380.22" r="0.4" fill="#333" opacity="0.6"/>
<circle cx="402.39" cy="378.97" r="0.4" fill="#333" opacity="0.6"/>
<circle cx="398.92" cy="387.60" r="0.4" fill="#333" opacity="0.6"/>
<circle cx="410.73" cy="378.77" r="0.4" fill="#333" opacity="0.6"/>
<circle cx="401.05" cy="387.74" r="0.4" fill="#333" opacity="0.6"/>
<circle cx="397.85" cy="386.55" r="0.4" fill="#333" opacity="0.6"/>
<circle cx="397.08" cy="386.02" r="0.4" fill="#333" opacity="0.6"/>
<circle cx="403.18" cy="389.06" r="0.4" fill="#333" opacity="0.6"/>
<circle cx="402.82" cy="377.03" r="0.4" fill="#333" opacity="0.6"/>
<circle cx="404.32" cy="377.49" r="0.4" fill="#333" opacity="0.6"/>
<circle cx="404.75" cy="390.55" r="0.4" fill="#333" opacity="0.6"/>
<circle cx="403.98" cy="380.23" r="0.4" fill="#333" opacity="0.6"/>
<circle cx="406.96" cy="383.84" r="0.4" fill="#333" opacity="0.6"/>
<circle cx="408.10" cy="381.48" r="0.4" fill="#333" opacity="0.6"/>
<circle cx="401.61" cy="381.29" r="0.4" fill="#333" opacity="0.6"/>
<circle cx="402.78" cy="384.04" r="0.4" fill="#333" opacity="0.6"/>
<circle cx="400.13" cy="372.33" r="0.4" fill="#333" opacity="0.6"/>
<circle cx="407.11" cy="386.60" r="0.4" fill="#333" opacity="0.6"/>
<circle cx="406.12" cy="389.50" r="0.4" fill="#333" opacity="0.6"/>
<circle cx="398.78" cy="379.98" r="0.4" fill="#333" opacity="0.6"/>
<circle cx="402.57" cy="391.37" r="0.4" fill="#333" opacity="0.6"/>
<circle cx="397.42" cy="385.80" r="0.4" fill="#333" opacity="0.6"/>
<circle cx="408.32" cy="381.52" r="0.4" fill="#333" opacity="0.6"/>
<circle cx="399.57" cy="375.28" r="0.4" fill="#333" opacity="0.6"/>
<circle cx="405.42" cy="380.38" r="0.4" fill="#333" opacity="0.6"/>
<circle cx="404.42" cy="376.42" r="0.4" fill="#333" opacity="0.6"/>
<circle cx="406.48" cy="375.79" r="0.4" fill="#333" opacity="0.6"/>
<circle cx="406.27" cy="373.94" r="0.4" fill="#333" opacity="0.6"/>
<circle cx="407.90" cy="381.13" r="0.4" fill="#333" opacity="0.6"/>
<circle cx="402.69" cy="378.05" r="0.4" fill="#333" opacity="0.6"/>
<circle cx="398.53" cy="384.35" r="0.4" fill="#333" opacity="0.6"/>
<circle cx="400.15" cy="367.67" r="0.4" fill="#333" opacity="0.6"/>
<circle cx="398.85" cy="385.13" r="0.4" fill="#333" opacity="0.6"/>
<circle cx="402.49" cy="388.04" r="0.4" fill="#333" opacity="0.6"/>
<circle cx="397.55" cy="395.77" r="0.4" fill="#333" opacity="0.6"/>
<circle cx="405.00" cy="384.56" r="0.4" fill="#333" opacity="0.6"/>
<circle cx="406.43" cy="387.77" r="0.4" fill="#333" opacity="0.6"/>
<circle cx="401.51" cy="379.90" r="0.4" fill="#333" opacity="0.6"/>
<circle cx="406.12" cy="385.12" r="0.4" fill="#333" opacity="0.6"/>
<circle cx="403.34" cy="383.54" r="0.4" fill="#333" opacity="0.6"/>
<circle cx="402.40" cy="386.21" r="0.4" fill="#333" opacity="0.6"/>
<circle cx="401.73" cy="390.91" r="0.4" fill="#333" opacity="0.6"/>
<circle cx="398.05" cy="381.00" r="0.4" fill="#333" opacity="0.6"/>
<circle cx="402.61" cy="386.73" r="0.4" fill="#333" opacity="0.6"/>
<circle cx="404.94" cy="390.44" r="0.4" fill="#333" opacity="0.6"/>
<circle cx="398.62" cy="388.83" r="0.4" fill="#333" opacity="0.6"/>
<circle cx="403.34" cy="377.79" r="0.4" fill="#333" opacity="0.6"/>
<circle cx="400.31" cy="393.43" r="0.4" fill="#333" opacity="0.6"/>
<circle cx="404.93" cy="380.65" r="0.4" fill="#333" opacity="0.6"/>
<circle cx="397.49" cy="383.39" r="0.4" fill="#333" opacity="0.6"/>
<circle cx="412.55" cy="386.73" r="0.4" fill="#333" opacity="0.6"/>
<circle cx="402.57" cy="378.33" r="0.4" fill="#333" opacity="0.6"/>
<circle cx="398.66" cy="398.03" r="0.4" fill="#333" opacity="0.6"/>
<circle cx="398.98" cy="379.92" r="0.4" fill="#333" opacity="0.6"/>
<circle cx="406.64" cy="383.39" r="0.4" fill="#333" opacity="0.6"/>
<circle cx="399.44" cy="376.36" r="0.4" fill="#333" opacity="0.6"/>
<circle cx="402.61" cy="385.44" r="0.4" fill="#333" opacity="0.6"/>
<circle cx="399.31" cy="386.49" r="0.4" fill="#333" opacity="0.6"/>
<circle cx="405.10" cy="378.59" r="0.4" fill="#333" opacity="0.6"/>
<circle cx="400.36" cy="389.15" r="0.4" fill="#333" opacity="0.6"/>
<circle cx="406.01" cy="389.96" r="0.4" fill="#333" opacity="0.6"/>
<circle cx="410.28" cy="383.08" r="0.4" fill="#333" opacity="0.6"/>
<circle cx="406.28" cy="375.35" r="0.4" fill="#333" opacity="0.6"/>
<circle cx="404.45" cy="384.96" r="0.4" fill="#333" opacity="0.6"/>
<circle cx="400.53" cy="380.79" r="0.4" fill="#333" opacity="0.6"/>
<circle cx="407.39" cy="381.17" r="0.4" fill="#333" opacity="0.6"/>
<circle cx="417.31" cy="377.35" r="0.4" fill="#444" opacity="0.5"/>
<circle cx="414.54" cy="374.95" r="0.4" fill="#444" opacity="0.5"/>
<circle cx="415.78" cy="380.47" r="0.4" fill="#444" opacity="0.5"/>
<circle cx="415.15" cy="377.75" r="0.4" fill="#444" opacity="0.5"/>
<circle cx="400.24" cy="379.70" r="0.4" fill="#444" opacity="0.5"/>
<circle cx="422.37" cy="393.05" r="0.4" fill="#444" opacity="0.5"/>
<circle cx="408.75" cy="387.60" r="0.4" fill="#444" opacity="0.5"/>
<circle cx="419.59" cy="384.75" r="0.4" fill="#444" opacity="0.5"/>
<circle cx="396.49" cy="384.27" r="0.4" fill="#444" opacity="0.5"/>
<circle cx="402.30" cy="390.23" r="0.4" fill="#444" opacity="0.5"/>
<circle cx="419.88" cy="386.32" r="0.4" fill="#444" opacity="0.5"/>
<circle cx="419.00" cy="373.06" r="0.4" fill="#444" opacity="0.5"/>
<circle cx="421.70" cy="382.53" r="0.4" fill="#444" opacity="0.5"/>
<circle cx="410.17" cy="377.01" r="0.4" fill="#444" opacity="0.5"/>
<circle cx="401.82" cy="378.96" r="0.4" fill="#444" opacity="0.5"/>
<circle cx="414.08" cy="377.46" r="0.4" fill="#444" opacity="0.5"/>
<circle cx="405.82" cy="378.14" r="0.4" fill="#444" opacity="0.5"/>
<circle cx="403.14" cy="388.13" r="0.4" fill="#444" opacity="0.5"/>
<circle cx="409.29" cy="388.06" r="0.4" fill="#444" opacity="0.5"/>
<circle cx="400.45" cy="388.50" r="0.4" fill="#444" opacity="0.5"/>
<circle cx="411.73" cy="386.67" r="0.4" fill="#444" opacity="0.5"/>
<circle cx="410.96" cy="375.78" r="0.4" fill="#444" opacity="0.5"/>
<circle cx="424.10" cy="378.95" r="0.4" fill="#444" opacity="0.5"/>
<circle cx="410.53" cy="375.80" r="0.4" fill="#444" opacity="0.5"/>
<circle cx="414.04" cy="379.27" r="0.4" fill="#444" opacity="0.5"/>
<circle cx="414.82" cy="384.41" r="0.4" fill="#444" opacity="0.5"/>
<circle cx="405.11" cy="372.13" r="0.4" fill="#444" opacity="0.5"/>
<circle cx="416.33" cy="388.42" r="0.4" fill="#444" opacity="0.5"/>
<circle cx="418.96" cy="373.98" r="0.4" fill="#444" opacity="0.5"/>
<circle cx="418.05" cy="384.69" r="0.4" fill="#444" opacity="0.5"/>
<circle cx="414.84" cy="385.01" r="0.4" fill="#444" opacity="0.5"/>
<circle cx="408.76" cy="383.50" r="0.4" fill="#444" opacity="0.5"/>
<circle cx="421.27" cy="378.47" r="0.4" fill="#444" opacity="0.5"/>
<circle cx="397.60" cy="381.27" r="0.4" fill="#444" opacity="0.5"/>
<circle cx="413.96" cy="369.09" r="0.4" fill="#444" opacity="0.5"/>
<circle cx="405.23" cy="386.13" r="0.4" fill="#444" opacity="0.5"/>
<circle cx="410.50" cy="382.65" r="0.4" fill="#444" opacity="0.5"/>
<circle cx="399.41" cy="388.34" r="0.4" fill="#444" opacity="0.5"/>
<circle cx="429.54" cy="380.60" r="0.4" fill="#444" opacity="0.5"/>
<circle cx="404.68" cy="373.90" r="0.4" fill="#444" opacity="0.5"/>
<circle cx="420.91" cy="382.73" r="0.4" fill="#444" opacity="0.5"/>
<circle cx="404.06" cy="390.50" r="0.4" fill="#444" opacity="0.5"/>
<circle cx="419.65" cy="386.22" r="0.4" fill="#444" opacity="0.5"/>
<circle cx="418.26" cy="373.43" r="0.4" fill="#444" opacity="0.5"/>
<circle cx="421.29" cy="392.01" r="0.4" fill="#444" opacity="0.5"/>
<circle cx="422.34" cy="376.95" r="0.4" fill="#444" opacity="0.5"/>
<circle cx="404.92" cy="388.59" r="0.4" fill="#444" opacity="0.5"/>
<circle cx="421.94" cy="390.60" r="0.4" fill="#444" opacity="0.5"/>
<circle cx="424.01" cy="381.30" r="0.4" fill="#444" opacity="0.5"/>
<circle cx="407.90" cy="369.01" r="0.4" fill="#444" opacity="0.5"/>
<circle cx="419.84" cy="397.93" r="0.4" fill="#444" opacity="0.5"/>
<circle cx="407.37" cy="378.67" r="0.4" fill="#444" opacity="0.5"/>
<circle cx="418.49" cy="384.62" r="0.4" fill="#444" opacity="0.5"/>
<circle cx="398.30" cy="377.00" r="0.4" fill="#444" opacity="0.5"/>
<circle cx="401.02" cy="396.15" r="0.4" fill="#444" opacity="0.5"/>
<circle cx="404.83" cy="387.98" r="0.4" fill="#444" opacity="0.5"/>
<circle cx="431.18" cy="395.26" r="0.4" fill="#444" opacity="0.5"/>
<circle cx="426.26" cy="393.41" r="0.4" fill="#444" opacity="0.5"/>
<circle cx="399.65" cy="379.58" r="0.4" fill="#444" opacity="0.5"/>
<circle cx="404.72" cy="379.97" r="0.4" fill="#444" opacity="0.5"/>
<circle cx="417.58" cy="373.35" r="0.4" fill="#444" opacity="0.5"/>
<circle cx="425.39" cy="391.10" r="0.4" fill="#444" opacity="0.5"/>
<circle cx="406.88" cy="396.49" r="0.4" fill="#444" opacity="0.5"/>
<circle cx="412.75" cy="391.12" r="0.4" fill="#444" opacity="0.5"/>
<circle cx="415.11" cy="378.08" r="0.4" fill="#444" opacity="0.5"/>
<circle cx="408.20" cy="381.17" r="0.4" fill="#444" opacity="0.5"/>
<circle cx="418.17" cy="382.88" r="0.4" fill="#444" opacity="0.5"/>
<circle cx="435.60" cy="380.65" r="0.4" fill="#444" opacity="0.5"/>
<circle cx="407.33" cy="376.96" r="0.4" fill="#444" opacity="0.5"/>
<circle cx="404.23" cy="371.92" r="0.4" fill="#444" opacity="0.5"/>
<circle cx="402.15" cy="388.34" r="0.4" fill="#444" opacity="0.5"/>
<circle cx="412.60" cy="380.80" r="0.4" fill="#444" opacity="0.5"/>
<circle cx="415.50" cy="389.47" r="0.4" fill="#444" opacity="0.5"/>
<circle cx="418.16" cy="387.41" r="0.4" fill="#444" opacity="0.5"/>
<circle cx="406.40" cy="380.17" r="0.4" fill="#444" opacity="0.5"/>
<circle cx="404.24" cy="381.32" r="0.4" fill="#444" opacity="0.5"/>
<circle cx="403.82" cy="379.39" r="0.4" fill="#444" opacity="0.5"/>
<circle cx="410.25" cy="380.49" r="0.4" fill="#444" opacity="0.5"/>
<circle cx="409.34" cy="378.56" r="0.4" fill="#444" opacity="0.5"/>
<circle cx="425.10" cy="379.60" r="0.4" fill="#444" opacity="0.5"/>
<circle cx="401.89" cy="383.35" r="0.4" fill="#444" opacity="0.5"/>
<circle cx="401.11" cy="374.49" r="0.4" fill="#444" opacity="0.5"/>
<circle cx="412.84" cy="370.33" r="0.4" fill="#444" opacity="0.5"/>
<circle cx="422.35" cy="370.30" r="0.4" fill="#444" opacity="0.5"/>
<circle cx="403.03" cy="386.04" r="0.4" fill="#444" opacity="0.5"/>
<circle cx="399.96" cy="380.61" r="0.4" fill="#444" opacity="0.5"/>
<circle cx="410.56" cy="384.12" r="0.4" fill="#444" opacity="0.5"/>
<circle cx="408.72" cy="367.15" r="0.4" fill="#444" opacity="0.5"/>
<circle cx="410.48" cy="372.62" r="0.4" fill="#444" opacity="0.5"/>
<circle cx="412.10" cy="376.03" r="0.4" fill="#444" opacity="0.5"/>
<circle cx="408.83" cy="380.52" r="0.4" fill="#444" opacity="0.5"/>
<circle cx="419.72" cy="387.37" r="0.4" fill="#444" opacity="0.5"/>
<circle cx="401.95" cy="381.88" r="0.4" fill="#444" opacity="0.5"/>
<circle cx="426.59" cy="385.46" r="0.4" fill="#444" opacity="0.5"/>
<circle cx="404.71" cy="381.15" r="0.4" fill="#444" opacity="0.5"/>
<circle cx="408.52" cy="388.59" r="0.4" fill="#444" opacity="0.5"/>
<circle cx="412.33" cy="384.63" r="0.4" fill="#444" opacity="0.5"/>
<circle cx="434.12" cy="372.35" r="0.4" fill="#444" opacity="0.5"/>
<circle cx="401.86" cy="369.88" r="0.4" fill="#444" opacity="0.5"/>
<circle cx="396.07" cy="388.00" r="0.4" fill="#444" opacity="0.5"/>
<circle cx="414.92" cy="393.42" r="0.4" fill="#444" opacity="0.5"/>
<circle cx="426.44" cy="389.20" r="0.4" fill="#444" opacity="0.5"/>
<circle cx="420.85" cy="388.10" r="0.4" fill="#444" opacity="0.5"/>
<circle cx="412.32" cy="381.93" r="0.4" fill="#444" opacity="0.5"/>
<circle cx="412.32" cy="387.90" r="0.4" fill="#444" opacity="0.5"/>
<circle cx="410.37" cy="384.24" r="0.4" fill="#444" opacity="0.5"/>
<circle cx="426.53" cy="374.12" r="0.4" fill="#444" opacity="0.5"/>
<circle cx="404.50" cy="385.95" r="0.4" fill="#444" opacity="0.5"/>
<circle cx="409.37" cy="380.90" r="0.4" fill="#444" opacity="0.5"/>
<circle cx="432.98" cy="384.91" r="0.4" fill="#444" opacity="0.5"/>
<circle cx="407.82" cy="389.69" r="0.4" fill="#444" opacity="0.5"/>
<circle cx="405.30" cy="382.81" r="0.4" fill="#444" opacity="0.5"/>
<circle cx="405.64" cy="397.20" r="0.4" fill="#444" opacity="0.5"/>
<circle cx="417.26" cy="379.21" r="0.4" fill="#444" opacity="0.5"/>
<circle cx="416.91" cy="376.43" r="0.4" fill="#444" opacity="0.5"/>
<circle cx="405.95" cy="382.74" r="0.4" fill="#444" opacity="0.5"/>
<circle cx="435.88" cy="366.25" r="0.4" fill="#444" opacity="0.5"/>
<circle cx="416.20" cy="391.46" r="0.4" fill="#444" opacity="0.5"/>
<circle cx="419.40" cy="395.46" r="0.4" fill="#444" opacity="0.5"/>
<circle cx="416.50" cy="383.02" r="0.4" fill="#444" opacity="0.5"/>
<circle cx="421.08" cy="356.86" r="0.4" fill="#444" opacity="0.45"/>
<circle cx="433.45" cy="354.90" r="0.4" fill="#444" opacity="0.45"/>
<circle cx="421.14" cy="358.86" r="0.4" fill="#444" opacity="0.45"/>
<circle cx="419.33" cy="362.82" r="0.4" fill="#444" opacity="0.45"/>
<circle cx="423.00" cy="367.07" r="0.4" fill="#444" opacity="0.45"/>
<circle cx="420.86" cy="358.15" r="0.4" fill="#444" opacity="0.45"/>
<circle cx="424.15" cy="365.99" r="0.4" fill="#444" opacity="0.45"/>
<circle cx="415.67" cy="352.88" r="0.4" fill="#444" opacity="0.45"/>
<circle cx="414.82" cy="368.35" r="0.4" fill="#444" opacity="0.45"/>
<circle cx="428.99" cy="356.68" r="0.4" fill="#444" opacity="0.45"/>
<circle cx="422.78" cy="367.03" r="0.4" fill="#444" opacity="0.45"/>
<circle cx="431.30" cy="358.05" r="0.4" fill="#444" opacity="0.45"/>
<circle cx="420.32" cy="370.45" r="0.4" fill="#444" opacity="0.45"/>
<circle cx="414.01" cy="364.69" r="0.4" fill="#444" opacity="0.45"/>
<circle cx="419.91" cy="361.65" r="0.4" fill="#444" opacity="0.45"/>
<circle cx="417.36" cy="359.12" r="0.4" fill="#444" opacity="0.45"/>
<circle cx="426.90" cy="364.56" r="0.4" fill="#444" opacity="0.45"/>
<circle cx="422.19" cy="357.50" r="0.4" fill="#444" opacity="0.45"/>
<circle cx="420.40" cy="369.44" r="0.4" fill="#444" opacity="0.45"/>
<circle cx="423.83" cy="361.88" r="0.4" fill="#444" opacity="0.45"/>
<circle cx="410.67" cy="364.39" r="0.4" fill="#444" opacity="0.45"/>
<circle cx="409.93" cy="371.15" r="0.4" fill="#444" opacity="0.45"/>
<circle cx="417.59" cy="362.00" r="0.4" fill="#444" opacity="0.45"/>
<circle cx="412.54" cy="359.02" r="0.4" fill="#444" opacity="0.45"/>
<circle cx="415.48" cy="368.79" r="0.4" fill="#444" opacity="0.45"/>
<circle cx="423.74" cy="354.92" r="0.4" fill="#444" opacity="0.45"/>
<circle cx="408.48" cy="361.59" r="0.4" fill="#444" opacity="0.45"/>
<circle cx="418.59" cy="355.34" r="0.4" fill="#444" opacity="0.45"/>
<circle cx="426.13" cy="360.89" r="0.4" fill="#444" opacity="0.45"/>
<circle cx="422.78" cy="358.46" r="0.4" fill="#444" opacity="0.45"/>
<circle cx="418.01" cy="359.24" r="0.4" fill="#444" opacity="0.45"/>
<circle cx="410.78" cy="365.78" r="0.4" fill="#444" opacity="0.45"/>
<circle cx="424.82" cy="351.66" r="0.4" fill="#444" opacity="0.45"/>
<circle cx="422.72" cy="368.93" r="0.4" fill="#444" opacity="0.45"/>
<circle cx="423.66" cy="369.78" r="0.4" fill="#444" opacity="0.45"/>
<circle cx="420.12" cy="362.01" r="0.4" fill="#444" opacity="0.45"/>
<circle cx="412.90" cy="356.57" r="0.4" fill="#444" opacity="0.45"/>
<circle cx="409.24" cy="356.63" r="0.4" fill="#444" opacity="0.45"/>
<circle cx="423.71" cy="365.12" r="0.4" fill="#444" opacity="0.45"/>
<circle cx="430.14" cy="362.78" r="0.4" fill="#444" opacity="0.45"/>
<circle cx="415.07" cy="364.59" r="0.4" fill="#444" opacity="0.45"/>
<circle cx="435.71" cy="367.76" r="0.4" fill="#444" opacity="0.45"/>
<circle cx="414.05" cy="358.85" r="0.4" fill="#444" opacity="0.45"/>
<circle cx="423.33" cy="357.73" r="0.4" fill="#444" opacity="0.45"/>
<circle cx="425.67" cy="366.12" r="0.4" fill="#444" opacity="0.45"/>
<circle cx="427.87" cy="363.37" r="0.4" fill="#444" opacity="0.45"/>
<circle cx="415.81" cy="356.95" r="0.4" fill="#444" opacity="0.45"/>
<circle cx="421.14" cy="369.96" r="0.4" fill="#444" opacity="0.45"/>
<circle cx="433.02" cy="367.87" r="0.4" fill="#444" opacity="0.45"/>
<circle cx="424.54" cy="366.05" r="0.4" fill="#444" opacity="0.45"/>
<g filter="url(#blur2)"><ellipse cx="393.6" cy="382" rx="1.4" ry="6" fill="#000"/><rect x="395" y="377" width="4" height="12" fill="#555" opacity="0.25"/></g>
<rect x="319.40" y="347.30" width="58.00" height="57.90" fill="none" stroke="#111" stroke-width="1.1" />
<line x1="335.60" y1="347.30" x2="335.60" y2="405.20" stroke="#111" stroke-width="0.9" />
<line x1="319.40" y1="372.20" x2="377.40" y2="372.20" stroke="#111" stroke-width="0.9" />
<text x="321.40" y="354.50" font-size="7.0" fill="#231f20" stroke="#231f20">0%</text>
<text x="375.80" y="354.50" font-size="7.0" fill="#231f20" text-anchor="end" stroke="#231f20">2.46%</text>
<text x="321.40" y="403.00" font-size="7.0" fill="#231f20" stroke="#231f20">82.7%</text>
<text x="375.80" y="403.00" font-size="7.0" fill="#231f20" text-anchor="end" stroke="#231f20">14.6%</text>
<rect x="379.50" y="347.30" width="58.90" height="57.90" fill="none" stroke="#111" stroke-width="1.1" />
<line x1="395.60" y1="347.30" x2="395.60" y2="405.20" stroke="#111" stroke-width="0.9" />
<line x1="379.50" y1="372.00" x2="438.40" y2="372.00" stroke="#111" stroke-width="0.9" />
<text x="381.50" y="354.50" font-size="7.0" fill="#231f20" stroke="#231f20">0.17%</text>
<text x="436.80" y="354.50" font-size="7.0" fill="#231f20" text-anchor="end" stroke="#231f20">1.69%</text>
<text x="381.50" y="403.00" font-size="7.0" fill="#231f20" stroke="#231f20">92.7%</text>
<text x="436.80" y="403.00" font-size="7.0" fill="#231f20" text-anchor="end" stroke="#231f20">5.46%</text>
<rect x="320.40" y="471.03" width="21.40" height="15.47" fill="#de8595" stroke="none" stroke-width="1" />
<rect x="353.40" y="477.34" width="21.20" height="9.16" fill="#87a6c2" stroke="none" stroke-width="1" />
<rect x="386.20" y="447.82" width="22.00" height="38.68" fill="#de8595" stroke="none" stroke-width="1" />
<rect x="419.20" y="468.69" width="22.00" height="17.81" fill="#87a6c2" stroke="none" stroke-width="1" />
<line x1="314.60" y1="421.90" x2="314.60" y2="487.00" stroke="#231f20" stroke-width="1.35" />
<line x1="314.10" y1="486.50" x2="447.00" y2="486.50" stroke="#231f20" stroke-width="1.35" />
<line x1="314.10" y1="486.50" x2="314.10" y2="509.60" stroke="#231f20" stroke-width="1.35" />
<line x1="380.70" y1="486.50" x2="380.70" y2="509.60" stroke="#231f20" stroke-width="1.35" />
<line x1="447.00" y1="486.50" x2="447.00" y2="509.60" stroke="#231f20" stroke-width="1.35" />
<line x1="311.60" y1="486.50" x2="314.60" y2="486.50" stroke="#231f20" stroke-width="0.9" />
<text x="308.70" y="489.40" font-size="8.8" fill="#231f20" text-anchor="end" textLength="4.16" lengthAdjust="spacingAndGlyphs" stroke="#231f20">0</text>
<line x1="311.60" y1="476.32" x2="314.60" y2="476.32" stroke="#231f20" stroke-width="0.9" />
<text x="308.70" y="479.22" font-size="8.8" fill="#231f20" text-anchor="end" textLength="8.32" lengthAdjust="spacingAndGlyphs" stroke="#231f20">10</text>
<line x1="311.60" y1="466.14" x2="314.60" y2="466.14" stroke="#231f20" stroke-width="0.9" />
<text x="308.70" y="469.04" font-size="8.8" fill="#231f20" text-anchor="end" textLength="8.32" lengthAdjust="spacingAndGlyphs" stroke="#231f20">20</text>
<line x1="311.60" y1="455.96" x2="314.60" y2="455.96" stroke="#231f20" stroke-width="0.9" />
<text x="308.70" y="458.86" font-size="8.8" fill="#231f20" text-anchor="end" textLength="8.32" lengthAdjust="spacingAndGlyphs" stroke="#231f20">30</text>
<line x1="311.60" y1="445.78" x2="314.60" y2="445.78" stroke="#231f20" stroke-width="0.9" />
<text x="308.70" y="448.68" font-size="8.8" fill="#231f20" text-anchor="end" textLength="8.32" lengthAdjust="spacingAndGlyphs" stroke="#231f20">40</text>
<line x1="311.60" y1="435.60" x2="314.60" y2="435.60" stroke="#231f20" stroke-width="0.9" />
<text x="308.70" y="438.50" font-size="8.8" fill="#231f20" text-anchor="end" textLength="8.32" lengthAdjust="spacingAndGlyphs" stroke="#231f20">50</text>
<line x1="311.60" y1="425.42" x2="314.60" y2="425.42" stroke="#231f20" stroke-width="0.9" />
<text x="308.70" y="428.32" font-size="8.8" fill="#231f20" text-anchor="end" textLength="8.32" lengthAdjust="spacingAndGlyphs" stroke="#231f20">60</text>
<line x1="330.80" y1="473.77" x2="330.80" y2="468.69" stroke="#222" stroke-width="1.2" />
<line x1="329.30" y1="468.69" x2="332.30" y2="468.69" stroke="#222" stroke-width="0.9" />
<line x1="329.30" y1="473.77" x2="332.30" y2="473.77" stroke="#222" stroke-width="0.9" />
<circle cx="330.80" cy="464.10" r="1.9" fill="#c8102e" />
<circle cx="330.80" cy="470.21" r="1.9" fill="#c8102e" />
<circle cx="330.80" cy="471.23" r="1.9" fill="#c8102e" />
<circle cx="330.80" cy="473.27" r="1.9" fill="#c8102e" />
<circle cx="330.80" cy="478.36" r="1.9" fill="#c8102e" />
<line x1="364.20" y1="478.36" x2="364.20" y2="475.81" stroke="#222" stroke-width="1.2" />
<line x1="362.70" y1="475.81" x2="365.70" y2="475.81" stroke="#222" stroke-width="0.9" />
<line x1="362.70" y1="478.36" x2="365.70" y2="478.36" stroke="#222" stroke-width="0.9" />
<circle cx="364.20" cy="474.28" r="1.9" fill="#1c5794" />
<circle cx="364.20" cy="476.32" r="1.9" fill="#1c5794" />
<circle cx="364.20" cy="477.34" r="1.9" fill="#1c5794" />
<circle cx="364.20" cy="478.36" r="1.9" fill="#1c5794" />
<line x1="396.80" y1="453.92" x2="396.80" y2="440.69" stroke="#222" stroke-width="1.2" />
<line x1="395.30" y1="440.69" x2="398.30" y2="440.69" stroke="#222" stroke-width="0.9" />
<line x1="395.30" y1="453.92" x2="398.30" y2="453.92" stroke="#222" stroke-width="0.9" />
<circle cx="396.80" cy="429.49" r="1.9" fill="#c8102e" />
<circle cx="396.80" cy="448.83" r="1.9" fill="#c8102e" />
<circle cx="396.80" cy="451.89" r="1.9" fill="#c8102e" />
<circle cx="396.80" cy="460.03" r="1.9" fill="#c8102e" />
<line x1="429.60" y1="472.76" x2="429.60" y2="464.61" stroke="#222" stroke-width="1.2" />
<line x1="428.10" y1="464.61" x2="431.10" y2="464.61" stroke="#222" stroke-width="0.9" />
<line x1="428.10" y1="472.76" x2="431.10" y2="472.76" stroke="#222" stroke-width="0.9" />
<circle cx="429.60" cy="462.07" r="1.9" fill="#1c5794" />
<circle cx="429.60" cy="470.21" r="1.9" fill="#1c5794" />
<circle cx="429.60" cy="475.30" r="1.9" fill="#1c5794" />
<line x1="329.00" y1="437.40" x2="364.20" y2="437.40" stroke="#231f20" stroke-width="1.35" />
<polygon points="345.30,430.20 345.88,431.60 347.39,431.72 346.24,432.71 346.59,434.18 345.30,433.39 344.01,434.18 344.36,432.71 343.21,431.72 344.72,431.60" stroke="none" stroke-width="1" fill="#111" />
<line x1="397.30" y1="437.60" x2="432.60" y2="437.60" stroke="#231f20" stroke-width="1.35" />
<polygon points="415.80,430.20 416.38,431.60 417.89,431.72 416.74,432.71 417.09,434.18 415.80,433.39 414.51,434.18 414.86,432.71 413.71,431.72 415.22,431.60" stroke="none" stroke-width="1" fill="#111" />
<text x="330.80" y="498.50" font-size="7.8" fill="#231f20" text-anchor="middle" textLength="17.79" lengthAdjust="spacingAndGlyphs" stroke="#231f20">Cntrl</text>
<text x="364.20" y="498.50" font-size="7.8" fill="#231f20" text-anchor="middle" stroke="#231f20">PLAG1-S</text>
<text x="396.80" y="498.50" font-size="7.8" fill="#231f20" text-anchor="middle" textLength="17.79" lengthAdjust="spacingAndGlyphs" stroke="#231f20">Cntrl</text>
<text x="429.60" y="498.50" font-size="7.8" fill="#231f20" text-anchor="middle" stroke="#231f20">PLAG1-S</text>
<text x="347.70" y="509.80" font-size="8.6" fill="#231f20" text-anchor="middle" textLength="20" lengthAdjust="spacingAndGlyphs" stroke="#231f20">Day 4</text>
<text x="413.80" y="509.80" font-size="8.6" fill="#231f20" text-anchor="middle" textLength="20" lengthAdjust="spacingAndGlyphs" stroke="#231f20">Day 7</text>
<text x="293.3" y="476.6" font-size="9.5" fill="#231f20" transform="rotate(-90 293.3 476.6)" textLength="43.9" lengthAdjust="spacingAndGlyphs" stroke="#231f20">% Annexin V<tspan font-size="6" dy="-3.2">+</tspan></text>
<text x="5.80" y="531.00" font-size="11.5" fill="#000" font-weight="bold" stroke="#000">G</text>
<rect x="49.70" y="545.53" width="21.20" height="66.26" fill="#de8595" stroke="none" stroke-width="1" />
<rect x="78.90" y="546.91" width="21.20" height="64.89" fill="#87a6c2" stroke="none" stroke-width="1" />
<line x1="44.40" y1="529.00" x2="44.40" y2="612.30" stroke="#231f20" stroke-width="1.35" />
<line x1="43.90" y1="611.80" x2="103.70" y2="611.80" stroke="#231f20" stroke-width="1.35" />
<line x1="41.40" y1="611.80" x2="44.40" y2="611.80" stroke="#231f20" stroke-width="0.9" />
<text x="37.70" y="615.30" font-size="8.8" fill="#231f20" text-anchor="end" textLength="4.21" lengthAdjust="spacingAndGlyphs" stroke="#231f20">0</text>
<line x1="41.40" y1="600.38" x2="44.40" y2="600.38" stroke="#231f20" stroke-width="0.9" />
<text x="37.70" y="603.88" font-size="8.8" fill="#231f20" text-anchor="end" textLength="12.63" lengthAdjust="spacingAndGlyphs" stroke="#231f20">500</text>
<line x1="41.40" y1="588.95" x2="44.40" y2="588.95" stroke="#231f20" stroke-width="0.9" />
<text x="37.70" y="592.45" font-size="8.8" fill="#231f20" text-anchor="end" textLength="16.84" lengthAdjust="spacingAndGlyphs" stroke="#231f20">1000</text>
<line x1="41.40" y1="577.52" x2="44.40" y2="577.52" stroke="#231f20" stroke-width="0.9" />
<text x="37.70" y="581.02" font-size="8.8" fill="#231f20" text-anchor="end" textLength="16.84" lengthAdjust="spacingAndGlyphs" stroke="#231f20">1500</text>
<line x1="41.40" y1="566.10" x2="44.40" y2="566.10" stroke="#231f20" stroke-width="0.9" />
<text x="37.70" y="569.60" font-size="8.8" fill="#231f20" text-anchor="end" textLength="16.84" lengthAdjust="spacingAndGlyphs" stroke="#231f20">2000</text>
<line x1="41.40" y1="554.67" x2="44.40" y2="554.67" stroke="#231f20" stroke-width="0.9" />
<text x="37.70" y="558.17" font-size="8.8" fill="#231f20" text-anchor="end" textLength="16.84" lengthAdjust="spacingAndGlyphs" stroke="#231f20">2500</text>
<line x1="41.40" y1="543.25" x2="44.40" y2="543.25" stroke="#231f20" stroke-width="0.9" />
<text x="37.70" y="546.75" font-size="8.8" fill="#231f20" text-anchor="end" textLength="16.84" lengthAdjust="spacingAndGlyphs" stroke="#231f20">3000</text>
<line x1="41.40" y1="531.82" x2="44.40" y2="531.82" stroke="#231f20" stroke-width="0.9" />
<text x="37.70" y="535.32" font-size="8.8" fill="#231f20" text-anchor="end" textLength="16.84" lengthAdjust="spacingAndGlyphs" stroke="#231f20">3500</text>
<line x1="60.30" y1="611.80" x2="60.30" y2="614.80" stroke="#231f20" stroke-width="0.9" />
<line x1="89.50" y1="611.80" x2="89.50" y2="614.80" stroke="#231f20" stroke-width="0.9" />
<text x="60.30" y="625.60" font-size="7.5" fill="#231f20" text-anchor="middle" textLength="17.42" lengthAdjust="spacingAndGlyphs" stroke="#231f20">Cntrl</text>
<text x="89.50" y="625.60" font-size="7.5" fill="#231f20" text-anchor="middle" stroke="#231f20">PLAG1-S</text>
<circle cx="60.30" cy="538.68" r="1.9" fill="#c8102e" />
<circle cx="60.30" cy="541.42" r="1.9" fill="#c8102e" />
<circle cx="60.30" cy="545.99" r="1.9" fill="#c8102e" />
<circle cx="60.30" cy="551.93" r="1.9" fill="#c8102e" />
<circle cx="89.50" cy="538.68" r="1.9" fill="#1c5794" />
<circle cx="89.50" cy="547.13" r="1.9" fill="#1c5794" />
<circle cx="89.50" cy="548.96" r="1.9" fill="#1c5794" />
<circle cx="89.50" cy="551.93" r="1.9" fill="#1c5794" />
<line x1="60.30" y1="547.82" x2="60.30" y2="540.96" stroke="#222" stroke-width="0.9" />
<line x1="58.80" y1="540.96" x2="61.80" y2="540.96" stroke="#222" stroke-width="0.9" />
<line x1="58.80" y1="547.82" x2="61.80" y2="547.82" stroke="#222" stroke-width="0.9" />
<line x1="89.50" y1="548.96" x2="89.50" y2="543.25" stroke="#222" stroke-width="0.9" />
<line x1="88.00" y1="543.25" x2="91.00" y2="543.25" stroke="#222" stroke-width="0.9" />
<line x1="88.00" y1="548.96" x2="91.00" y2="548.96" stroke="#222" stroke-width="0.9" />
<text x="88.90" y="534.60" font-size="7.3" fill="#231f20" text-anchor="middle" stroke="#231f20">n.s.</text>
<text x="12.90" y="589.50" font-size="8.4" fill="#231f20" textLength="37.2" lengthAdjust="spacingAndGlyphs" transform="rotate(-90 12.90 589.50)" stroke="#231f20">EIF2S1 MFI</text>
<rect x="55.60" y="634.30" width="23.90" height="14.90" fill="#f7929a" stroke="none" stroke-width="1" />
<rect x="55.60" y="649.10" width="23.90" height="15.30" fill="#f4838b" stroke="none" stroke-width="1" />
<rect x="55.80" y="664.50" width="23.50" height="15.10" fill="#fff" stroke="#222" stroke-width="0.9" rx="1"/>
<text x="51.80" y="644.00" font-size="7.3" fill="#231f20" text-anchor="end" stroke="#231f20">EIF2S1</text>
<text x="51.80" y="659.20" font-size="7.3" fill="#231f20" text-anchor="end" stroke="#231f20">EIF2S2</text>
<text x="51.80" y="674.50" font-size="7.3" fill="#231f20" text-anchor="end" stroke="#231f20">EIF2S3</text>
<text x="120.80" y="531.00" font-size="11.5" fill="#000" font-weight="bold" textLength="7.47" lengthAdjust="spacingAndGlyphs" stroke="#000">H</text>
<text x="193.50" y="551.70" font-size="9.5" fill="#231f20" text-anchor="middle" textLength="53.9" lengthAdjust="spacingAndGlyphs" stroke="#231f20">ATF4 targets</text>
<rect x="146.30" y="558.50" width="95.70" height="44.40" fill="#fff" stroke="#e6e6e6" stroke-width="0.5" />
<line x1="158.26" y1="558.50" x2="158.26" y2="602.90" stroke="#ececec" stroke-width="0.5" />
<line x1="170.23" y1="558.50" x2="170.23" y2="602.90" stroke="#ececec" stroke-width="0.5" />
<line x1="182.19" y1="558.50" x2="182.19" y2="602.90" stroke="#ececec" stroke-width="0.5" />
<line x1="194.15" y1="558.50" x2="194.15" y2="602.90" stroke="#ececec" stroke-width="0.5" />
<line x1="206.11" y1="558.50" x2="206.11" y2="602.90" stroke="#ececec" stroke-width="0.5" />
<line x1="218.07" y1="558.50" x2="218.07" y2="602.90" stroke="#ececec" stroke-width="0.5" />
<line x1="230.04" y1="558.50" x2="230.04" y2="602.90" stroke="#ececec" stroke-width="0.5" />
<line x1="146.30" y1="563.80" x2="242.00" y2="563.80" stroke="#ececec" stroke-width="0.5" />
<line x1="146.30" y1="572.20" x2="242.00" y2="572.20" stroke="#ececec" stroke-width="0.5" />
<line x1="146.30" y1="580.50" x2="242.00" y2="580.50" stroke="#ececec" stroke-width="0.5" />
<line x1="146.30" y1="588.90" x2="242.00" y2="588.90" stroke="#ececec" stroke-width="0.5" />
<line x1="146.30" y1="597.00" x2="242.00" y2="597.00" stroke="#ececec" stroke-width="0.5" />
<text x="144.50" y="566.20" font-size="6.6" fill="#231f20" text-anchor="end" stroke="#231f20">0.2</text>
<text x="144.50" y="574.60" font-size="6.6" fill="#231f20" text-anchor="end" stroke="#231f20">0.1</text>
<text x="144.50" y="582.90" font-size="6.6" fill="#231f20" text-anchor="end" stroke="#231f20">0.0</text>
<text x="144.50" y="591.30" font-size="6.6" fill="#231f20" text-anchor="end" stroke="#231f20">-0.1</text>
<text x="144.50" y="599.40" font-size="6.6" fill="#231f20" text-anchor="end" stroke="#231f20">-0.2</text>
<polyline points="146.90,580.50 147.50,576.00 148.30,574.50 149.20,567.00 150.40,562.50 152.50,559.80 156.00,560.50 160.00,561.80 162.00,561.50 166.00,562.60 172.00,565.00 178.00,567.50 184.00,572.00 190.80,577.30 197.00,582.30 204.20,588.00 211.00,593.00 217.70,597.50 220.50,599.50 223.10,600.20 226.00,599.30 228.50,598.50 231.00,598.80 233.50,598.40 236.00,596.50 237.90,594.80 239.40,592.00 240.10,587.00 240.60,580.00" stroke="#2ee82e" stroke-width="1.2" fill="none" />
<text x="242.00" y="567.80" font-size="7.3" fill="#231f20" text-anchor="end" stroke="#231f20">NES: −0.88</text>
<text x="242.00" y="575.90" font-size="7.3" fill="#231f20" text-anchor="end" stroke="#231f20">FDR: 0.662</text>
<rect x="147.20" y="603.50" width="93.50" height="14.20" fill="#ececec" stroke="none" stroke-width="1" />
<rect x="147.20" y="603.50" width="0.43" height="14.20" fill="rgb(7,7,7)" stroke="none" stroke-width="1" />
<rect x="147.99" y="603.50" width="0.29" height="14.20" fill="rgb(26,26,26)" stroke="none" stroke-width="1" />
<rect x="148.52" y="603.50" width="0.28" height="14.20" fill="rgb(25,25,25)" stroke="none" stroke-width="1" />
<rect x="148.92" y="603.50" width="0.49" height="14.20" fill="rgb(3,3,3)" stroke="none" stroke-width="1" />
<rect x="149.55" y="603.50" width="0.48" height="14.20" fill="rgb(41,41,41)" stroke="none" stroke-width="1" />
<rect x="150.18" y="603.50" width="0.37" height="14.20" fill="rgb(31,31,31)" stroke="none" stroke-width="1" />
<rect x="151.03" y="603.50" width="0.57" height="14.20" fill="rgb(19,19,19)" stroke="none" stroke-width="1" />
<rect x="152.09" y="603.50" width="0.28" height="14.20" fill="rgb(42,42,42)" stroke="none" stroke-width="1" />
<rect x="152.58" y="603.50" width="0.33" height="14.20" fill="rgb(5,5,5)" stroke="none" stroke-width="1" />
<rect x="153.13" y="603.50" width="0.70" height="14.20" fill="rgb(9,9,9)" stroke="none" stroke-width="1" />
<rect x="154.16" y="603.50" width="0.60" height="14.20" fill="rgb(18,18,18)" stroke="none" stroke-width="1" />
<rect x="155.09" y="603.50" width="0.28" height="14.20" fill="rgb(5,5,5)" stroke="none" stroke-width="1" />
<rect x="155.66" y="603.50" width="0.62" height="14.20" fill="rgb(42,42,42)" stroke="none" stroke-width="1" />
<rect x="156.66" y="603.50" width="0.57" height="14.20" fill="rgb(45,45,45)" stroke="none" stroke-width="1" />
<rect x="157.60" y="603.50" width="0.69" height="14.20" fill="rgb(69,69,69)" stroke="none" stroke-width="1" />
<rect x="158.61" y="603.50" width="0.57" height="14.20" fill="rgb(52,52,52)" stroke="none" stroke-width="1" />
<rect x="160.06" y="603.50" width="0.65" height="14.20" fill="rgb(28,28,28)" stroke="none" stroke-width="1" />
<rect x="161.70" y="603.50" width="0.31" height="14.20" fill="rgb(41,41,41)" stroke="none" stroke-width="1" />
<rect x="162.79" y="603.50" width="0.33" height="14.20" fill="rgb(48,48,48)" stroke="none" stroke-width="1" />
<rect x="163.26" y="603.50" width="0.62" height="14.20" fill="rgb(76,76,76)" stroke="none" stroke-width="1" />
<rect x="164.50" y="603.50" width="0.73" height="14.20" fill="rgb(31,31,31)" stroke="none" stroke-width="1" />
<rect x="165.95" y="603.50" width="0.58" height="14.20" fill="rgb(57,57,57)" stroke="none" stroke-width="1" />
<rect x="167.04" y="603.50" width="0.71" height="14.20" fill="rgb(94,94,94)" stroke="none" stroke-width="1" />
<rect x="168.28" y="603.50" width="0.62" height="14.20" fill="rgb(9,9,9)" stroke="none" stroke-width="1" />
<rect x="169.98" y="603.50" width="0.61" height="14.20" fill="rgb(148,148,148)" stroke="none" stroke-width="1" />
<rect x="171.83" y="603.50" width="0.41" height="14.20" fill="rgb(57,57,57)" stroke="none" stroke-width="1" />
<rect x="173.28" y="603.50" width="0.26" height="14.20" fill="rgb(69,69,69)" stroke="none" stroke-width="1" />
<rect x="173.87" y="603.50" width="0.31" height="14.20" fill="rgb(8,8,8)" stroke="none" stroke-width="1" />
<rect x="175.36" y="603.50" width="0.32" height="14.20" fill="rgb(37,37,37)" stroke="none" stroke-width="1" />
<rect x="176.33" y="603.50" width="0.73" height="14.20" fill="rgb(12,12,12)" stroke="none" stroke-width="1" />
<rect x="177.79" y="603.50" width="0.55" height="14.20" fill="rgb(132,132,132)" stroke="none" stroke-width="1" />
<rect x="179.59" y="603.50" width="0.73" height="14.20" fill="rgb(41,41,41)" stroke="none" stroke-width="1" />
<rect x="181.00" y="603.50" width="0.45" height="14.20" fill="rgb(132,132,132)" stroke="none" stroke-width="1" />
<rect x="182.88" y="603.50" width="0.33" height="14.20" fill="rgb(26,26,26)" stroke="none" stroke-width="1" />
<rect x="183.64" y="603.50" width="0.38" height="14.20" fill="rgb(72,72,72)" stroke="none" stroke-width="1" />
<rect x="184.95" y="603.50" width="0.39" height="14.20" fill="rgb(0,0,0)" stroke="none" stroke-width="1" />
<rect x="186.03" y="603.50" width="0.45" height="14.20" fill="rgb(84,84,84)" stroke="none" stroke-width="1" />
<rect x="187.91" y="603.50" width="0.63" height="14.20" fill="rgb(77,77,77)" stroke="none" stroke-width="1" />
<rect x="189.51" y="603.50" width="0.62" height="14.20" fill="rgb(8,8,8)" stroke="none" stroke-width="1" />
<rect x="191.49" y="603.50" width="0.68" height="14.20" fill="rgb(78,78,78)" stroke="none" stroke-width="1" />
<rect x="192.91" y="603.50" width="0.47" height="14.20" fill="rgb(35,35,35)" stroke="none" stroke-width="1" />
<rect x="193.56" y="603.50" width="0.60" height="14.20" fill="rgb(5,5,5)" stroke="none" stroke-width="1" />
<rect x="194.31" y="603.50" width="0.36" height="14.20" fill="rgb(14,14,14)" stroke="none" stroke-width="1" />
<rect x="195.04" y="603.50" width="0.28" height="14.20" fill="rgb(0,0,0)" stroke="none" stroke-width="1" />
<rect x="195.54" y="603.50" width="0.31" height="14.20" fill="rgb(32,32,32)" stroke="none" stroke-width="1" />
<rect x="195.97" y="603.50" width="0.73" height="14.20" fill="rgb(55,55,55)" stroke="none" stroke-width="1" />
<rect x="196.92" y="603.50" width="0.39" height="14.20" fill="rgb(31,31,31)" stroke="none" stroke-width="1" />
<rect x="197.70" y="603.50" width="0.32" height="14.20" fill="rgb(76,76,76)" stroke="none" stroke-width="1" />
<rect x="198.91" y="603.50" width="0.51" height="14.20" fill="rgb(43,43,43)" stroke="none" stroke-width="1" />
<rect x="199.59" y="603.50" width="0.31" height="14.20" fill="rgb(30,30,30)" stroke="none" stroke-width="1" />
<rect x="200.21" y="603.50" width="0.71" height="14.20" fill="rgb(14,14,14)" stroke="none" stroke-width="1" />
<rect x="201.03" y="603.50" width="0.77" height="14.20" fill="rgb(47,47,47)" stroke="none" stroke-width="1" />
<rect x="202.02" y="603.50" width="0.55" height="14.20" fill="rgb(3,3,3)" stroke="none" stroke-width="1" />
<rect x="203.36" y="603.50" width="0.79" height="14.20" fill="rgb(120,120,120)" stroke="none" stroke-width="1" />
<rect x="205.15" y="603.50" width="0.39" height="14.20" fill="rgb(51,51,51)" stroke="none" stroke-width="1" />
<rect x="205.86" y="603.50" width="0.67" height="14.20" fill="rgb(74,74,74)" stroke="none" stroke-width="1" />
<rect x="207.65" y="603.50" width="0.43" height="14.20" fill="rgb(31,31,31)" stroke="none" stroke-width="1" />
<rect x="209.23" y="603.50" width="0.79" height="14.20" fill="rgb(119,119,119)" stroke="none" stroke-width="1" />
<rect x="211.17" y="603.50" width="0.70" height="14.20" fill="rgb(103,103,103)" stroke="none" stroke-width="1" />
<rect x="212.27" y="603.50" width="0.53" height="14.20" fill="rgb(49,49,49)" stroke="none" stroke-width="1" />
<rect x="212.94" y="603.50" width="0.27" height="14.20" fill="rgb(39,39,39)" stroke="none" stroke-width="1" />
<rect x="213.64" y="603.50" width="0.63" height="14.20" fill="rgb(133,133,133)" stroke="none" stroke-width="1" />
<rect x="214.95" y="603.50" width="0.77" height="14.20" fill="rgb(138,138,138)" stroke="none" stroke-width="1" />
<rect x="217.06" y="603.50" width="0.45" height="14.20" fill="rgb(13,13,13)" stroke="none" stroke-width="1" />
<rect x="217.73" y="603.50" width="0.36" height="14.20" fill="rgb(12,12,12)" stroke="none" stroke-width="1" />
<rect x="218.50" y="603.50" width="0.75" height="14.20" fill="rgb(50,50,50)" stroke="none" stroke-width="1" />
<rect x="219.58" y="603.50" width="0.61" height="14.20" fill="rgb(47,47,47)" stroke="none" stroke-width="1" />
<rect x="220.33" y="603.50" width="0.61" height="14.20" fill="rgb(54,54,54)" stroke="none" stroke-width="1" />
<rect x="221.44" y="603.50" width="0.66" height="14.20" fill="rgb(28,28,28)" stroke="none" stroke-width="1" />
<rect x="222.29" y="603.50" width="0.68" height="14.20" fill="rgb(19,19,19)" stroke="none" stroke-width="1" />
<rect x="223.47" y="603.50" width="0.78" height="14.20" fill="rgb(23,23,23)" stroke="none" stroke-width="1" />
<rect x="224.56" y="603.50" width="0.77" height="14.20" fill="rgb(43,43,43)" stroke="none" stroke-width="1" />
<rect x="225.51" y="603.50" width="0.32" height="14.20" fill="rgb(9,9,9)" stroke="none" stroke-width="1" />
<rect x="226.39" y="603.50" width="0.69" height="14.20" fill="rgb(8,8,8)" stroke="none" stroke-width="1" />
<rect x="227.59" y="603.50" width="0.79" height="14.20" fill="rgb(39,39,39)" stroke="none" stroke-width="1" />
<rect x="228.66" y="603.50" width="0.55" height="14.20" fill="rgb(7,7,7)" stroke="none" stroke-width="1" />
<rect x="229.32" y="603.50" width="0.78" height="14.20" fill="rgb(38,38,38)" stroke="none" stroke-width="1" />
<rect x="230.46" y="603.50" width="0.76" height="14.20" fill="rgb(26,26,26)" stroke="none" stroke-width="1" />
<rect x="231.76" y="603.50" width="0.70" height="14.20" fill="rgb(12,12,12)" stroke="none" stroke-width="1" />
<rect x="232.69" y="603.50" width="0.41" height="14.20" fill="rgb(14,14,14)" stroke="none" stroke-width="1" />
<rect x="233.50" y="603.50" width="0.39" height="14.20" fill="rgb(25,25,25)" stroke="none" stroke-width="1" />
<rect x="234.06" y="603.50" width="0.75" height="14.20" fill="rgb(21,21,21)" stroke="none" stroke-width="1" />
<rect x="235.14" y="603.50" width="0.57" height="14.20" fill="rgb(54,54,54)" stroke="none" stroke-width="1" />
<rect x="236.02" y="603.50" width="0.75" height="14.20" fill="rgb(30,30,30)" stroke="none" stroke-width="1" />
<rect x="237.14" y="603.50" width="0.54" height="14.20" fill="rgb(1,1,1)" stroke="none" stroke-width="1" />
<rect x="237.99" y="603.50" width="0.35" height="14.20" fill="rgb(0,0,0)" stroke="none" stroke-width="1" />
<rect x="238.85" y="603.50" width="0.34" height="14.20" fill="rgb(28,28,28)" stroke="none" stroke-width="1" />
<rect x="239.65" y="603.50" width="0.56" height="14.20" fill="rgb(19,19,19)" stroke="none" stroke-width="1" />
<rect x="240.57" y="603.50" width="0.13" height="14.20" fill="rgb(47,47,47)" stroke="none" stroke-width="1" />
<defs><linearGradient id="gsea" x1="0" x2="1" y1="0" y2="0"><stop offset="0" stop-color="#e8404e"/><stop offset="0.2" stop-color="#ee7a8a"/><stop offset="0.25" stop-color="#f0a8d0"/><stop offset="0.47" stop-color="#eeb8e0"/><stop offset="0.5" stop-color="#c9c6f0"/><stop offset="0.75" stop-color="#b8b8f0"/><stop offset="0.78" stop-color="#6a6ae6"/><stop offset="0.97" stop-color="#3a3ad8"/><stop offset="1" stop-color="#1a1a9a"/></linearGradient></defs>
<rect x="147.20" y="617.70" width="93.50" height="3.00" fill="url(#gsea)" stroke="none" stroke-width="1" />
<text x="127.80" y="617.70" font-size="8.6" fill="#231f20" textLength="56.7" lengthAdjust="spacingAndGlyphs" transform="rotate(-90 127.80 617.70)" stroke="#231f20">Enrichment score</text>
<text x="296.40" y="550.00" font-size="9.2" fill="#231f20" text-anchor="middle" textLength="21.37" lengthAdjust="spacingAndGlyphs" stroke="#231f20">Cntrl</text>
<text x="338.50" y="550.00" font-size="9.2" fill="#231f20" text-anchor="middle" stroke="#231f20">PLAG1-S</text>
<polyline points="276.30,557.50 276.30,553.30 317.00,553.30 317.00,557.50" stroke="#111" stroke-width="1" fill="none" />
<polyline points="318.20,557.50 318.20,553.30 359.60,553.30 359.60,557.50" stroke="#111" stroke-width="1" fill="none" />
<rect x="275.80" y="558.30" width="21.30" height="8.88" fill="#f85e66" stroke="none" stroke-width="1" />
<rect x="296.90" y="558.30" width="21.20" height="8.88" fill="#f97c83" stroke="none" stroke-width="1" />
<rect x="317.90" y="558.30" width="21.30" height="8.88" fill="#82a2d6" stroke="none" stroke-width="1" />
<rect x="339.00" y="558.30" width="21.20" height="8.88" fill="#5b88cc" stroke="none" stroke-width="1" />
<text x="273.30" y="565.04" font-size="6.6" fill="#231f20" text-anchor="end" stroke="#231f20">NDRG1</text>
<rect x="275.80" y="566.98" width="21.30" height="8.88" fill="#f85e66" stroke="none" stroke-width="1" />
<rect x="296.90" y="566.98" width="21.20" height="8.88" fill="#f98990" stroke="none" stroke-width="1" />
<rect x="317.90" y="566.98" width="21.30" height="8.88" fill="#5b88cc" stroke="none" stroke-width="1" />
<rect x="339.00" y="566.98" width="21.20" height="8.88" fill="#97b0dc" stroke="none" stroke-width="1" />
<text x="273.30" y="573.72" font-size="6.6" fill="#231f20" text-anchor="end" stroke="#231f20">RHOQ</text>
<rect x="275.80" y="575.66" width="21.30" height="8.88" fill="#f7b6bd" stroke="none" stroke-width="1" />
<rect x="296.90" y="575.66" width="21.20" height="8.88" fill="#f85e66" stroke="none" stroke-width="1" />
<rect x="317.90" y="575.66" width="21.30" height="8.88" fill="#c4d2ec" stroke="none" stroke-width="1" />
<rect x="339.00" y="575.66" width="21.20" height="8.88" fill="#5b88cc" stroke="none" stroke-width="1" />
<text x="273.30" y="582.40" font-size="6.6" fill="#231f20" text-anchor="end" stroke="#231f20">LTBP3</text>
<rect x="275.80" y="584.34" width="21.30" height="8.88" fill="#f85e66" stroke="none" stroke-width="1" />
<rect x="296.90" y="584.34" width="21.20" height="8.88" fill="#f76d74" stroke="none" stroke-width="1" />
<rect x="317.90" y="584.34" width="21.30" height="8.88" fill="#5b88cc" stroke="none" stroke-width="1" />
<rect x="339.00" y="584.34" width="21.20" height="8.88" fill="#86a4d6" stroke="none" stroke-width="1" />
<text x="273.30" y="591.08" font-size="6.6" fill="#231f20" text-anchor="end" stroke="#231f20">DPYSL2</text>
<rect x="275.80" y="593.02" width="21.30" height="8.88" fill="#f85e66" stroke="none" stroke-width="1" />
<rect x="296.90" y="593.02" width="21.20" height="8.88" fill="#f76d74" stroke="none" stroke-width="1" />
<rect x="317.90" y="593.02" width="21.30" height="8.88" fill="#96afdb" stroke="none" stroke-width="1" />
<rect x="339.00" y="593.02" width="21.20" height="8.88" fill="#5b88cc" stroke="none" stroke-width="1" />
<text x="273.30" y="599.76" font-size="6.6" fill="#231f20" text-anchor="end" stroke="#231f20">SLC1A4</text>
<rect x="275.80" y="601.70" width="21.30" height="8.88" fill="#f85e66" stroke="none" stroke-width="1" />
<rect x="296.90" y="601.70" width="21.20" height="8.88" fill="#f85e66" stroke="none" stroke-width="1" />
<rect x="317.90" y="601.70" width="21.30" height="8.88" fill="#bccbe8" stroke="none" stroke-width="1" />
<rect x="339.00" y="601.70" width="21.20" height="8.88" fill="#5b88cc" stroke="none" stroke-width="1" />
<text x="273.30" y="608.44" font-size="6.6" fill="#231f20" text-anchor="end" stroke="#231f20">HLA-E</text>
<rect x="275.80" y="610.38" width="21.30" height="8.88" fill="#8aa7d5" stroke="none" stroke-width="1" />
<rect x="296.90" y="610.38" width="21.20" height="8.88" fill="#5b88cc" stroke="none" stroke-width="1" />
<rect x="317.90" y="610.38" width="21.30" height="8.88" fill="#f7aab1" stroke="none" stroke-width="1" />
<rect x="339.00" y="610.38" width="21.20" height="8.88" fill="#f85e66" stroke="none" stroke-width="1" />
<text x="273.30" y="617.12" font-size="6.6" fill="#231f20" text-anchor="end" stroke="#231f20">TARS</text>
<rect x="275.80" y="619.06" width="21.30" height="8.88" fill="#7e9ed3" stroke="none" stroke-width="1" />
<rect x="296.90" y="619.06" width="21.20" height="8.88" fill="#5b88cc" stroke="none" stroke-width="1" />
<rect x="317.90" y="619.06" width="21.30" height="8.88" fill="#f6a9b0" stroke="none" stroke-width="1" />
<rect x="339.00" y="619.06" width="21.20" height="8.88" fill="#f85e66" stroke="none" stroke-width="1" />
<text x="273.30" y="625.80" font-size="6.6" fill="#231f20" text-anchor="end" stroke="#231f20">PLD1</text>
<rect x="275.80" y="627.74" width="21.30" height="8.88" fill="#c1d0ea" stroke="none" stroke-width="1" />
<rect x="296.90" y="627.74" width="21.20" height="8.88" fill="#5b88cc" stroke="none" stroke-width="1" />
<rect x="317.90" y="627.74" width="21.30" height="8.88" fill="#f85e66" stroke="none" stroke-width="1" />
<rect x="339.00" y="627.74" width="21.20" height="8.88" fill="#f9d0d4" stroke="none" stroke-width="1" />
<text x="273.30" y="634.48" font-size="6.6" fill="#231f20" text-anchor="end" stroke="#231f20">IER2</text>
<rect x="275.80" y="636.42" width="21.30" height="8.88" fill="#5b88cc" stroke="none" stroke-width="1" />
<rect x="296.90" y="636.42" width="21.20" height="8.88" fill="#eef2fa" stroke="none" stroke-width="1" />
<rect x="317.90" y="636.42" width="21.30" height="8.88" fill="#fcf6f7" stroke="none" stroke-width="1" />
<rect x="339.00" y="636.42" width="21.20" height="8.88" fill="#f85e66" stroke="none" stroke-width="1" />
<text x="273.30" y="643.16" font-size="6.6" fill="#231f20" text-anchor="end" stroke="#231f20">GPR85</text>
<rect x="275.80" y="645.10" width="21.30" height="8.88" fill="#5b88cc" stroke="none" stroke-width="1" />
<rect x="296.90" y="645.10" width="21.20" height="8.88" fill="#5b88cc" stroke="none" stroke-width="1" />
<rect x="317.90" y="645.10" width="21.30" height="8.88" fill="#f7a2a9" stroke="none" stroke-width="1" />
<rect x="339.00" y="645.10" width="21.20" height="8.88" fill="#f85e66" stroke="none" stroke-width="1" />
<text x="273.30" y="651.84" font-size="6.6" fill="#231f20" text-anchor="end" stroke="#231f20">SLC6A9</text>
<text x="373.40" y="531.60" font-size="11.5" fill="#000" font-weight="bold" stroke="#000">I</text>
<line x1="457.40" y1="551.80" x2="405.50" y2="578.40" stroke="#45ade0" stroke-width="1.3" />
<line x1="457.40" y1="551.80" x2="485.00" y2="603.30" stroke="#45ade0" stroke-width="1.3" />
<line x1="457.40" y1="551.80" x2="431.40" y2="633.30" stroke="#45ade0" stroke-width="1.3" />
<line x1="405.50" y1="578.40" x2="485.00" y2="603.30" stroke="#45ade0" stroke-width="1.3" />
<line x1="405.50" y1="578.40" x2="431.40" y2="633.30" stroke="#45ade0" stroke-width="1.3" />
<line x1="485.00" y1="603.30" x2="431.40" y2="633.30" stroke="#45ade0" stroke-width="1.3" />
<line x1="431.40" y1="633.30" x2="419.90" y2="685.20" stroke="#45ade0" stroke-width="1.3" />
<circle cx="457.40" cy="551.80" r="7.0" fill="#1a4e82" />
<circle cx="405.50" cy="578.40" r="7.4" fill="#1a4e82" />
<circle cx="485.00" cy="603.30" r="7.2" fill="#1a4e82" />
<circle cx="431.40" cy="633.30" r="8.6" fill="#1a4e82" />
<circle cx="419.90" cy="685.20" r="6.4" fill="#1a4e82" />
<text x="458.00" y="533.40" font-size="7.6" fill="#231f20" text-anchor="middle" textLength="58.58" lengthAdjust="spacingAndGlyphs" stroke="#231f20">XBP1(S) activates</text>
<text x="458.00" y="542.00" font-size="7.6" fill="#231f20" text-anchor="middle" textLength="55.8" lengthAdjust="spacingAndGlyphs" stroke="#231f20">chaperone genes</text>
<text x="405.50" y="557.90" font-size="7.6" fill="#231f20" text-anchor="middle" textLength="64.21" lengthAdjust="spacingAndGlyphs" stroke="#231f20">IRE1alpha activates</text>
<text x="405.50" y="566.00" font-size="7.6" fill="#231f20" text-anchor="middle" textLength="37.73" lengthAdjust="spacingAndGlyphs" stroke="#231f20">chaperones</text>
<text x="485.40" y="576.10" font-size="7.6" fill="#231f20" text-anchor="middle" textLength="48.16" lengthAdjust="spacingAndGlyphs" stroke="#231f20">IRE1-mediated</text>
<text x="485.40" y="584.70" font-size="7.6" fill="#231f20" text-anchor="middle" textLength="27.7" lengthAdjust="spacingAndGlyphs" stroke="#231f20">unfolded</text>
<text x="485.40" y="593.40" font-size="7.6" fill="#231f20" text-anchor="middle" textLength="53.78" lengthAdjust="spacingAndGlyphs" stroke="#231f20">protein response</text>
<text x="431.40" y="604.10" font-size="7.6" fill="#231f20" text-anchor="middle" textLength="41.34" lengthAdjust="spacingAndGlyphs" stroke="#231f20">Endoplasmic</text>
<text x="431.40" y="612.80" font-size="7.6" fill="#231f20" text-anchor="middle" textLength="59.0" lengthAdjust="spacingAndGlyphs" stroke="#231f20">reticulum unfolded</text>
<text x="431.40" y="620.90" font-size="7.6" fill="#231f20" text-anchor="middle" textLength="53.78" lengthAdjust="spacingAndGlyphs" stroke="#231f20">protein response</text>
<text x="419.90" y="664.70" font-size="7.6" fill="#231f20" text-anchor="middle" textLength="37.32" lengthAdjust="spacingAndGlyphs" stroke="#231f20">ER-nucleus</text>
<text x="419.90" y="673.40" font-size="7.6" fill="#231f20" text-anchor="middle" textLength="57.4" lengthAdjust="spacingAndGlyphs" stroke="#231f20">signaling pathway</text>
<text x="398.00" y="697.00" font-size="7.6" fill="#231f20" text-anchor="middle" textLength="22.28" lengthAdjust="spacingAndGlyphs" stroke="#231f20">p&lt;0.05</text>
<rect x="0.6" y="0.6" width="518.8" height="702.8" fill="none" stroke="#000" stroke-width="1.4"/>
</svg></body></html>
